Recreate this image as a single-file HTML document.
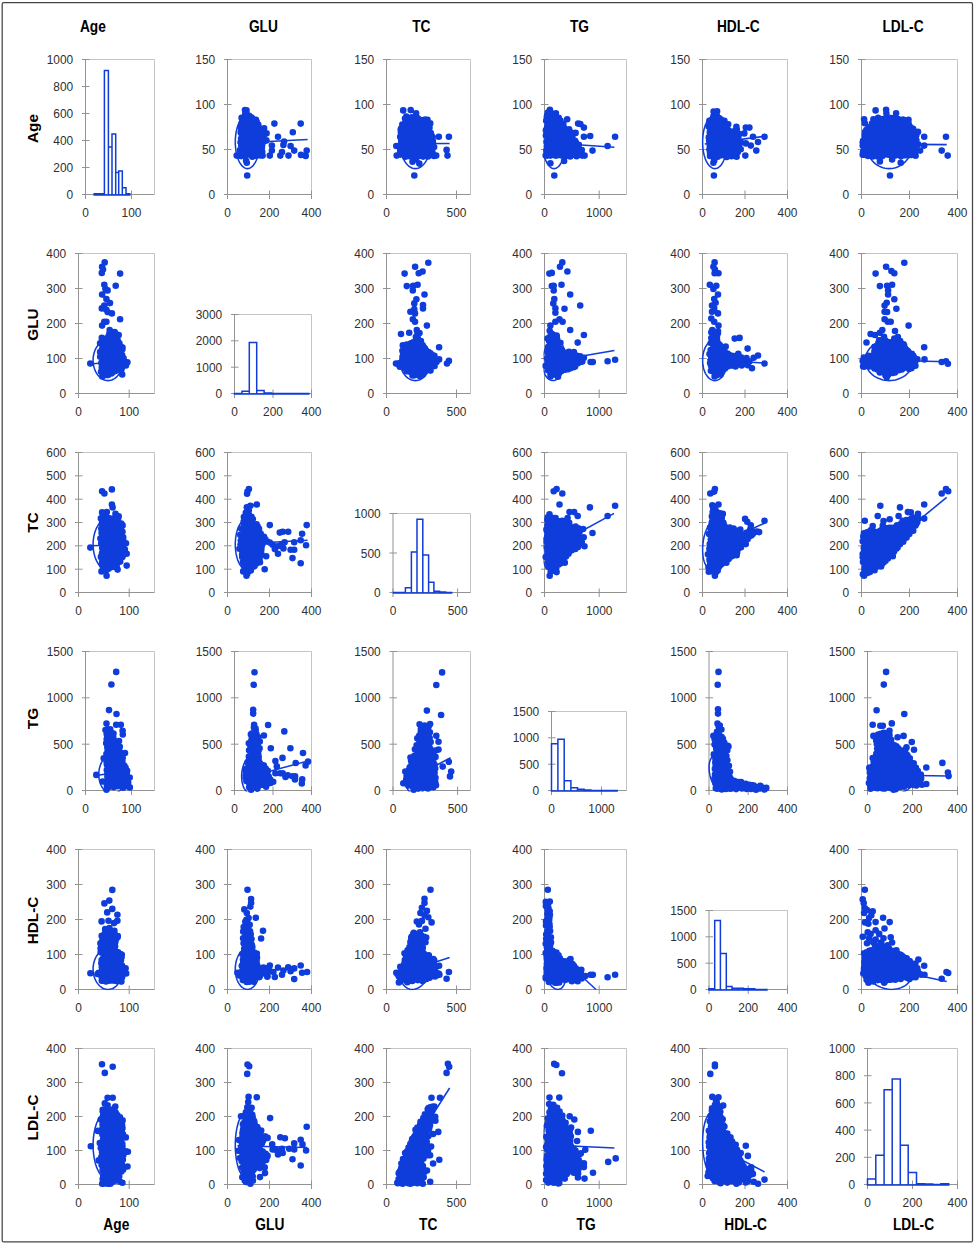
<!DOCTYPE html>
<html lang="en"><head><meta charset="utf-8"><title>Scatter plot matrix</title>
<style>html,body{margin:0;padding:0;background:#fff}svg{display:block}</style></head>
<body>
<svg width="974" height="1245" viewBox="0 0 974 1245">
<rect x="0" y="0" width="974" height="1245" fill="#fff"/>
<rect x="2.2" y="2.6" width="970.3" height="1239.3" rx="1.5" fill="none" stroke="#444" stroke-width="1.25"/>
<g font-family="Liberation Sans, sans-serif" font-size="11.9" fill="#303030">
<path d="M85.5 59.5H154.5V194.5" fill="none" stroke="#c4c4c4" stroke-width="1"/>
<path d="M85.5 59.5V194.5H154.5M82 194.5H89.5M82 167.5H89.5M82 140.5H89.5M82 113.5H89.5M82 86.5H89.5M82 59.5H89.5M85.5 190.5V199M131.5 190.5V199" fill="none" stroke="#939393" stroke-width="1"/>
<text x="73.2" y="199.1" text-anchor="end">0</text>
<text x="73.2" y="172.1" text-anchor="end">200</text>
<text x="73.2" y="145.1" text-anchor="end">400</text>
<text x="73.2" y="118.1" text-anchor="end">600</text>
<text x="73.2" y="91.1" text-anchor="end">800</text>
<text x="73.2" y="64.1" text-anchor="end">1000</text>
<text x="85.5" y="216.6" text-anchor="middle">0</text>
<text x="131.5" y="216.6" text-anchor="middle">100</text>
<path d="M227.5 59.5H311.5V194.5" fill="none" stroke="#c4c4c4" stroke-width="1"/>
<path d="M227.5 59.5V194.5H311.5M224 194.5H231.5M224 149.5H231.5M224 104.5H231.5M224 59.5H231.5M227.5 190.5V199M269.5 190.5V199M311.5 190.5V199" fill="none" stroke="#939393" stroke-width="1"/>
<text x="215.2" y="199.1" text-anchor="end">0</text>
<text x="215.2" y="154.1" text-anchor="end">50</text>
<text x="215.2" y="109.1" text-anchor="end">100</text>
<text x="215.2" y="64.1" text-anchor="end">150</text>
<text x="227.5" y="216.6" text-anchor="middle">0</text>
<text x="269.5" y="216.6" text-anchor="middle">200</text>
<text x="311.5" y="216.6" text-anchor="middle">400</text>
<path d="M386.5 59.5H470.5V194.5" fill="none" stroke="#c4c4c4" stroke-width="1"/>
<path d="M386.5 59.5V194.5H470.5M383 194.5H390.5M383 149.5H390.5M383 104.5H390.5M383 59.5H390.5M386.5 190.5V199M456.5 190.5V199" fill="none" stroke="#939393" stroke-width="1"/>
<text x="374.2" y="199.1" text-anchor="end">0</text>
<text x="374.2" y="154.1" text-anchor="end">50</text>
<text x="374.2" y="109.1" text-anchor="end">100</text>
<text x="374.2" y="64.1" text-anchor="end">150</text>
<text x="386.5" y="216.6" text-anchor="middle">0</text>
<text x="456.5" y="216.6" text-anchor="middle">500</text>
<path d="M544.5 59.5H626.5V194.5" fill="none" stroke="#c4c4c4" stroke-width="1"/>
<path d="M544.5 59.5V194.5H626.5M541 194.5H548.5M541 149.5H548.5M541 104.5H548.5M541 59.5H548.5M544.5 190.5V199M599.2 190.5V199" fill="none" stroke="#939393" stroke-width="1"/>
<text x="532.2" y="199.1" text-anchor="end">0</text>
<text x="532.2" y="154.1" text-anchor="end">50</text>
<text x="532.2" y="109.1" text-anchor="end">100</text>
<text x="532.2" y="64.1" text-anchor="end">150</text>
<text x="544.5" y="216.6" text-anchor="middle">0</text>
<text x="599.2" y="216.6" text-anchor="middle">1000</text>
<path d="M702.5 59.5H787.5V194.5" fill="none" stroke="#c4c4c4" stroke-width="1"/>
<path d="M702.5 59.5V194.5H787.5M699 194.5H706.5M699 149.5H706.5M699 104.5H706.5M699 59.5H706.5M702.5 190.5V199M745 190.5V199M787.5 190.5V199" fill="none" stroke="#939393" stroke-width="1"/>
<text x="690.2" y="199.1" text-anchor="end">0</text>
<text x="690.2" y="154.1" text-anchor="end">50</text>
<text x="690.2" y="109.1" text-anchor="end">100</text>
<text x="690.2" y="64.1" text-anchor="end">150</text>
<text x="702.5" y="216.6" text-anchor="middle">0</text>
<text x="745" y="216.6" text-anchor="middle">200</text>
<text x="787.5" y="216.6" text-anchor="middle">400</text>
<path d="M861.5 59.5H957.5V194.5" fill="none" stroke="#c4c4c4" stroke-width="1"/>
<path d="M861.5 59.5V194.5H957.5M858 194.5H865.5M858 149.5H865.5M858 104.5H865.5M858 59.5H865.5M861.5 190.5V199M909.5 190.5V199M957.5 190.5V199" fill="none" stroke="#939393" stroke-width="1"/>
<text x="849.2" y="199.1" text-anchor="end">0</text>
<text x="849.2" y="154.1" text-anchor="end">50</text>
<text x="849.2" y="109.1" text-anchor="end">100</text>
<text x="849.2" y="64.1" text-anchor="end">150</text>
<text x="861.5" y="216.6" text-anchor="middle">0</text>
<text x="909.5" y="216.6" text-anchor="middle">200</text>
<text x="957.5" y="216.6" text-anchor="middle">400</text>
<path d="M78.5 253.5H154.5V393.5" fill="none" stroke="#c4c4c4" stroke-width="1"/>
<path d="M78.5 253.5V393.5H154.5M75 393.5H82.5M75 358.5H82.5M75 323.5H82.5M75 288.5H82.5M75 253.5H82.5M78.5 389.5V398M129.2 389.5V398" fill="none" stroke="#939393" stroke-width="1"/>
<text x="66.2" y="398.1" text-anchor="end">0</text>
<text x="66.2" y="363.1" text-anchor="end">100</text>
<text x="66.2" y="328.1" text-anchor="end">200</text>
<text x="66.2" y="293.1" text-anchor="end">300</text>
<text x="66.2" y="258.1" text-anchor="end">400</text>
<text x="78.5" y="415.6" text-anchor="middle">0</text>
<text x="129.2" y="415.6" text-anchor="middle">100</text>
<path d="M234.5 314.5H311.5V393.5" fill="none" stroke="#c4c4c4" stroke-width="1"/>
<path d="M234.5 314.5V393.5H311.5M231 393.5H238.5M231 367.2H238.5M231 340.8H238.5M231 314.5H238.5M234.5 389.5V398M273 389.5V398M311.5 389.5V398" fill="none" stroke="#939393" stroke-width="1"/>
<text x="222.2" y="398.1" text-anchor="end">0</text>
<text x="222.2" y="371.8" text-anchor="end">1000</text>
<text x="222.2" y="345.4" text-anchor="end">2000</text>
<text x="222.2" y="319.1" text-anchor="end">3000</text>
<text x="234.5" y="415.6" text-anchor="middle">0</text>
<text x="273" y="415.6" text-anchor="middle">200</text>
<text x="311.5" y="415.6" text-anchor="middle">400</text>
<path d="M386.5 253.5H470.5V393.5" fill="none" stroke="#c4c4c4" stroke-width="1"/>
<path d="M386.5 253.5V393.5H470.5M383 393.5H390.5M383 358.5H390.5M383 323.5H390.5M383 288.5H390.5M383 253.5H390.5M386.5 389.5V398M456.5 389.5V398" fill="none" stroke="#939393" stroke-width="1"/>
<text x="374.2" y="398.1" text-anchor="end">0</text>
<text x="374.2" y="363.1" text-anchor="end">100</text>
<text x="374.2" y="328.1" text-anchor="end">200</text>
<text x="374.2" y="293.1" text-anchor="end">300</text>
<text x="374.2" y="258.1" text-anchor="end">400</text>
<text x="386.5" y="415.6" text-anchor="middle">0</text>
<text x="456.5" y="415.6" text-anchor="middle">500</text>
<path d="M544.5 253.5H626.5V393.5" fill="none" stroke="#c4c4c4" stroke-width="1"/>
<path d="M544.5 253.5V393.5H626.5M541 393.5H548.5M541 358.5H548.5M541 323.5H548.5M541 288.5H548.5M541 253.5H548.5M544.5 389.5V398M599.2 389.5V398" fill="none" stroke="#939393" stroke-width="1"/>
<text x="532.2" y="398.1" text-anchor="end">0</text>
<text x="532.2" y="363.1" text-anchor="end">100</text>
<text x="532.2" y="328.1" text-anchor="end">200</text>
<text x="532.2" y="293.1" text-anchor="end">300</text>
<text x="532.2" y="258.1" text-anchor="end">400</text>
<text x="544.5" y="415.6" text-anchor="middle">0</text>
<text x="599.2" y="415.6" text-anchor="middle">1000</text>
<path d="M702.5 253.5H787.5V393.5" fill="none" stroke="#c4c4c4" stroke-width="1"/>
<path d="M702.5 253.5V393.5H787.5M699 393.5H706.5M699 358.5H706.5M699 323.5H706.5M699 288.5H706.5M699 253.5H706.5M702.5 389.5V398M745 389.5V398M787.5 389.5V398" fill="none" stroke="#939393" stroke-width="1"/>
<text x="690.2" y="398.1" text-anchor="end">0</text>
<text x="690.2" y="363.1" text-anchor="end">100</text>
<text x="690.2" y="328.1" text-anchor="end">200</text>
<text x="690.2" y="293.1" text-anchor="end">300</text>
<text x="690.2" y="258.1" text-anchor="end">400</text>
<text x="702.5" y="415.6" text-anchor="middle">0</text>
<text x="745" y="415.6" text-anchor="middle">200</text>
<text x="787.5" y="415.6" text-anchor="middle">400</text>
<path d="M861.5 253.5H957.5V393.5" fill="none" stroke="#c4c4c4" stroke-width="1"/>
<path d="M861.5 253.5V393.5H957.5M858 393.5H865.5M858 358.5H865.5M858 323.5H865.5M858 288.5H865.5M858 253.5H865.5M861.5 389.5V398M909.5 389.5V398M957.5 389.5V398" fill="none" stroke="#939393" stroke-width="1"/>
<text x="849.2" y="398.1" text-anchor="end">0</text>
<text x="849.2" y="363.1" text-anchor="end">100</text>
<text x="849.2" y="328.1" text-anchor="end">200</text>
<text x="849.2" y="293.1" text-anchor="end">300</text>
<text x="849.2" y="258.1" text-anchor="end">400</text>
<text x="861.5" y="415.6" text-anchor="middle">0</text>
<text x="909.5" y="415.6" text-anchor="middle">200</text>
<text x="957.5" y="415.6" text-anchor="middle">400</text>
<path d="M78.5 452.5H154.5V592.5" fill="none" stroke="#c4c4c4" stroke-width="1"/>
<path d="M78.5 452.5V592.5H154.5M75 592.5H82.5M75 569.2H82.5M75 545.8H82.5M75 522.5H82.5M75 499.2H82.5M75 475.8H82.5M75 452.5H82.5M78.5 588.5V597M129.2 588.5V597" fill="none" stroke="#939393" stroke-width="1"/>
<text x="66.2" y="597.1" text-anchor="end">0</text>
<text x="66.2" y="573.8" text-anchor="end">100</text>
<text x="66.2" y="550.4" text-anchor="end">200</text>
<text x="66.2" y="527.1" text-anchor="end">300</text>
<text x="66.2" y="503.8" text-anchor="end">400</text>
<text x="66.2" y="480.4" text-anchor="end">500</text>
<text x="66.2" y="457.1" text-anchor="end">600</text>
<text x="78.5" y="614.6" text-anchor="middle">0</text>
<text x="129.2" y="614.6" text-anchor="middle">100</text>
<path d="M227.5 452.5H311.5V592.5" fill="none" stroke="#c4c4c4" stroke-width="1"/>
<path d="M227.5 452.5V592.5H311.5M224 592.5H231.5M224 569.2H231.5M224 545.8H231.5M224 522.5H231.5M224 499.2H231.5M224 475.8H231.5M224 452.5H231.5M227.5 588.5V597M269.5 588.5V597M311.5 588.5V597" fill="none" stroke="#939393" stroke-width="1"/>
<text x="215.2" y="597.1" text-anchor="end">0</text>
<text x="215.2" y="573.8" text-anchor="end">100</text>
<text x="215.2" y="550.4" text-anchor="end">200</text>
<text x="215.2" y="527.1" text-anchor="end">300</text>
<text x="215.2" y="503.8" text-anchor="end">400</text>
<text x="215.2" y="480.4" text-anchor="end">500</text>
<text x="215.2" y="457.1" text-anchor="end">600</text>
<text x="227.5" y="614.6" text-anchor="middle">0</text>
<text x="269.5" y="614.6" text-anchor="middle">200</text>
<text x="311.5" y="614.6" text-anchor="middle">400</text>
<path d="M393 513.5H470.5V592.5" fill="none" stroke="#c4c4c4" stroke-width="1"/>
<path d="M393 513.5V592.5H470.5M389.5 592.5H397M389.5 553H397M389.5 513.5H397M393 588.5V597M457.6 588.5V597" fill="none" stroke="#939393" stroke-width="1"/>
<text x="380.7" y="597.1" text-anchor="end">0</text>
<text x="380.7" y="557.6" text-anchor="end">500</text>
<text x="380.7" y="518.1" text-anchor="end">1000</text>
<text x="393" y="614.6" text-anchor="middle">0</text>
<text x="457.6" y="614.6" text-anchor="middle">500</text>
<path d="M544.5 452.5H626.5V592.5" fill="none" stroke="#c4c4c4" stroke-width="1"/>
<path d="M544.5 452.5V592.5H626.5M541 592.5H548.5M541 569.2H548.5M541 545.8H548.5M541 522.5H548.5M541 499.2H548.5M541 475.8H548.5M541 452.5H548.5M544.5 588.5V597M599.2 588.5V597" fill="none" stroke="#939393" stroke-width="1"/>
<text x="532.2" y="597.1" text-anchor="end">0</text>
<text x="532.2" y="573.8" text-anchor="end">100</text>
<text x="532.2" y="550.4" text-anchor="end">200</text>
<text x="532.2" y="527.1" text-anchor="end">300</text>
<text x="532.2" y="503.8" text-anchor="end">400</text>
<text x="532.2" y="480.4" text-anchor="end">500</text>
<text x="532.2" y="457.1" text-anchor="end">600</text>
<text x="544.5" y="614.6" text-anchor="middle">0</text>
<text x="599.2" y="614.6" text-anchor="middle">1000</text>
<path d="M702.5 452.5H787.5V592.5" fill="none" stroke="#c4c4c4" stroke-width="1"/>
<path d="M702.5 452.5V592.5H787.5M699 592.5H706.5M699 569.2H706.5M699 545.8H706.5M699 522.5H706.5M699 499.2H706.5M699 475.8H706.5M699 452.5H706.5M702.5 588.5V597M745 588.5V597M787.5 588.5V597" fill="none" stroke="#939393" stroke-width="1"/>
<text x="690.2" y="597.1" text-anchor="end">0</text>
<text x="690.2" y="573.8" text-anchor="end">100</text>
<text x="690.2" y="550.4" text-anchor="end">200</text>
<text x="690.2" y="527.1" text-anchor="end">300</text>
<text x="690.2" y="503.8" text-anchor="end">400</text>
<text x="690.2" y="480.4" text-anchor="end">500</text>
<text x="690.2" y="457.1" text-anchor="end">600</text>
<text x="702.5" y="614.6" text-anchor="middle">0</text>
<text x="745" y="614.6" text-anchor="middle">200</text>
<text x="787.5" y="614.6" text-anchor="middle">400</text>
<path d="M861.5 452.5H957.5V592.5" fill="none" stroke="#c4c4c4" stroke-width="1"/>
<path d="M861.5 452.5V592.5H957.5M858 592.5H865.5M858 569.2H865.5M858 545.8H865.5M858 522.5H865.5M858 499.2H865.5M858 475.8H865.5M858 452.5H865.5M861.5 588.5V597M909.5 588.5V597M957.5 588.5V597" fill="none" stroke="#939393" stroke-width="1"/>
<text x="849.2" y="597.1" text-anchor="end">0</text>
<text x="849.2" y="573.8" text-anchor="end">100</text>
<text x="849.2" y="550.4" text-anchor="end">200</text>
<text x="849.2" y="527.1" text-anchor="end">300</text>
<text x="849.2" y="503.8" text-anchor="end">400</text>
<text x="849.2" y="480.4" text-anchor="end">500</text>
<text x="849.2" y="457.1" text-anchor="end">600</text>
<text x="861.5" y="614.6" text-anchor="middle">0</text>
<text x="909.5" y="614.6" text-anchor="middle">200</text>
<text x="957.5" y="614.6" text-anchor="middle">400</text>
<path d="M85.5 651.5H154.5V790.5" fill="none" stroke="#c4c4c4" stroke-width="1"/>
<path d="M85.5 651.5V790.5H154.5M82 790.5H89.5M82 744.2H89.5M82 697.8H89.5M82 651.5H89.5M85.5 786.5V795M131.5 786.5V795" fill="none" stroke="#939393" stroke-width="1"/>
<text x="73.2" y="795.1" text-anchor="end">0</text>
<text x="73.2" y="748.8" text-anchor="end">500</text>
<text x="73.2" y="702.4" text-anchor="end">1000</text>
<text x="73.2" y="656.1" text-anchor="end">1500</text>
<text x="85.5" y="812.6" text-anchor="middle">0</text>
<text x="131.5" y="812.6" text-anchor="middle">100</text>
<path d="M234.5 651.5H311.5V790.5" fill="none" stroke="#c4c4c4" stroke-width="1"/>
<path d="M234.5 651.5V790.5H311.5M231 790.5H238.5M231 744.2H238.5M231 697.8H238.5M231 651.5H238.5M234.5 786.5V795M273 786.5V795M311.5 786.5V795" fill="none" stroke="#939393" stroke-width="1"/>
<text x="222.2" y="795.1" text-anchor="end">0</text>
<text x="222.2" y="748.8" text-anchor="end">500</text>
<text x="222.2" y="702.4" text-anchor="end">1000</text>
<text x="222.2" y="656.1" text-anchor="end">1500</text>
<text x="234.5" y="812.6" text-anchor="middle">0</text>
<text x="273" y="812.6" text-anchor="middle">200</text>
<text x="311.5" y="812.6" text-anchor="middle">400</text>
<path d="M393 651.5H470.5V790.5" fill="none" stroke="#c4c4c4" stroke-width="1"/>
<path d="M393 651.5V790.5H470.5M389.5 790.5H397M389.5 744.2H397M389.5 697.8H397M389.5 651.5H397M393 786.5V795M457.6 786.5V795" fill="none" stroke="#939393" stroke-width="1"/>
<text x="380.7" y="795.1" text-anchor="end">0</text>
<text x="380.7" y="748.8" text-anchor="end">500</text>
<text x="380.7" y="702.4" text-anchor="end">1000</text>
<text x="380.7" y="656.1" text-anchor="end">1500</text>
<text x="393" y="812.6" text-anchor="middle">0</text>
<text x="457.6" y="812.6" text-anchor="middle">500</text>
<path d="M551.5 711.5H626.5V790.5" fill="none" stroke="#c4c4c4" stroke-width="1"/>
<path d="M551.5 711.5V790.5H626.5M548 790.5H555.5M548 764.2H555.5M548 737.8H555.5M548 711.5H555.5M551.5 786.5V795M601.5 786.5V795" fill="none" stroke="#939393" stroke-width="1"/>
<text x="539.2" y="795.1" text-anchor="end">0</text>
<text x="539.2" y="768.8" text-anchor="end">500</text>
<text x="539.2" y="742.4" text-anchor="end">1000</text>
<text x="539.2" y="716.1" text-anchor="end">1500</text>
<text x="551.5" y="812.6" text-anchor="middle">0</text>
<text x="601.5" y="812.6" text-anchor="middle">1000</text>
<path d="M709 651.5H787.5V790.5" fill="none" stroke="#c4c4c4" stroke-width="1"/>
<path d="M709 651.5V790.5H787.5M705.5 790.5H713M705.5 744.2H713M705.5 697.8H713M705.5 651.5H713M709 786.5V795M748.2 786.5V795M787.5 786.5V795" fill="none" stroke="#939393" stroke-width="1"/>
<text x="696.7" y="795.1" text-anchor="end">0</text>
<text x="696.7" y="748.8" text-anchor="end">500</text>
<text x="696.7" y="702.4" text-anchor="end">1000</text>
<text x="696.7" y="656.1" text-anchor="end">1500</text>
<text x="709" y="812.6" text-anchor="middle">0</text>
<text x="748.2" y="812.6" text-anchor="middle">200</text>
<text x="787.5" y="812.6" text-anchor="middle">400</text>
<path d="M867.5 651.5H957.5V790.5" fill="none" stroke="#c4c4c4" stroke-width="1"/>
<path d="M867.5 651.5V790.5H957.5M864 790.5H871.5M864 744.2H871.5M864 697.8H871.5M864 651.5H871.5M867.5 786.5V795M912.5 786.5V795M957.5 786.5V795" fill="none" stroke="#939393" stroke-width="1"/>
<text x="855.2" y="795.1" text-anchor="end">0</text>
<text x="855.2" y="748.8" text-anchor="end">500</text>
<text x="855.2" y="702.4" text-anchor="end">1000</text>
<text x="855.2" y="656.1" text-anchor="end">1500</text>
<text x="867.5" y="812.6" text-anchor="middle">0</text>
<text x="912.5" y="812.6" text-anchor="middle">200</text>
<text x="957.5" y="812.6" text-anchor="middle">400</text>
<path d="M78.5 849.5H154.5V989.5" fill="none" stroke="#c4c4c4" stroke-width="1"/>
<path d="M78.5 849.5V989.5H154.5M75 989.5H82.5M75 954.5H82.5M75 919.5H82.5M75 884.5H82.5M75 849.5H82.5M78.5 985.5V994M129.2 985.5V994" fill="none" stroke="#939393" stroke-width="1"/>
<text x="66.2" y="994.1" text-anchor="end">0</text>
<text x="66.2" y="959.1" text-anchor="end">100</text>
<text x="66.2" y="924.1" text-anchor="end">200</text>
<text x="66.2" y="889.1" text-anchor="end">300</text>
<text x="66.2" y="854.1" text-anchor="end">400</text>
<text x="78.5" y="1011.6" text-anchor="middle">0</text>
<text x="129.2" y="1011.6" text-anchor="middle">100</text>
<path d="M227.5 849.5H311.5V989.5" fill="none" stroke="#c4c4c4" stroke-width="1"/>
<path d="M227.5 849.5V989.5H311.5M224 989.5H231.5M224 954.5H231.5M224 919.5H231.5M224 884.5H231.5M224 849.5H231.5M227.5 985.5V994M269.5 985.5V994M311.5 985.5V994" fill="none" stroke="#939393" stroke-width="1"/>
<text x="215.2" y="994.1" text-anchor="end">0</text>
<text x="215.2" y="959.1" text-anchor="end">100</text>
<text x="215.2" y="924.1" text-anchor="end">200</text>
<text x="215.2" y="889.1" text-anchor="end">300</text>
<text x="215.2" y="854.1" text-anchor="end">400</text>
<text x="227.5" y="1011.6" text-anchor="middle">0</text>
<text x="269.5" y="1011.6" text-anchor="middle">200</text>
<text x="311.5" y="1011.6" text-anchor="middle">400</text>
<path d="M386.5 849.5H470.5V989.5" fill="none" stroke="#c4c4c4" stroke-width="1"/>
<path d="M386.5 849.5V989.5H470.5M383 989.5H390.5M383 954.5H390.5M383 919.5H390.5M383 884.5H390.5M383 849.5H390.5M386.5 985.5V994M456.5 985.5V994" fill="none" stroke="#939393" stroke-width="1"/>
<text x="374.2" y="994.1" text-anchor="end">0</text>
<text x="374.2" y="959.1" text-anchor="end">100</text>
<text x="374.2" y="924.1" text-anchor="end">200</text>
<text x="374.2" y="889.1" text-anchor="end">300</text>
<text x="374.2" y="854.1" text-anchor="end">400</text>
<text x="386.5" y="1011.6" text-anchor="middle">0</text>
<text x="456.5" y="1011.6" text-anchor="middle">500</text>
<path d="M544.5 849.5H626.5V989.5" fill="none" stroke="#c4c4c4" stroke-width="1"/>
<path d="M544.5 849.5V989.5H626.5M541 989.5H548.5M541 954.5H548.5M541 919.5H548.5M541 884.5H548.5M541 849.5H548.5M544.5 985.5V994M599.2 985.5V994" fill="none" stroke="#939393" stroke-width="1"/>
<text x="532.2" y="994.1" text-anchor="end">0</text>
<text x="532.2" y="959.1" text-anchor="end">100</text>
<text x="532.2" y="924.1" text-anchor="end">200</text>
<text x="532.2" y="889.1" text-anchor="end">300</text>
<text x="532.2" y="854.1" text-anchor="end">400</text>
<text x="544.5" y="1011.6" text-anchor="middle">0</text>
<text x="599.2" y="1011.6" text-anchor="middle">1000</text>
<path d="M709 910.5H787.5V989.5" fill="none" stroke="#c4c4c4" stroke-width="1"/>
<path d="M709 910.5V989.5H787.5M705.5 989.5H713M705.5 963.2H713M705.5 936.8H713M705.5 910.5H713M709 985.5V994M748.2 985.5V994M787.5 985.5V994" fill="none" stroke="#939393" stroke-width="1"/>
<text x="696.7" y="994.1" text-anchor="end">0</text>
<text x="696.7" y="967.8" text-anchor="end">500</text>
<text x="696.7" y="941.4" text-anchor="end">1000</text>
<text x="696.7" y="915.1" text-anchor="end">1500</text>
<text x="709" y="1011.6" text-anchor="middle">0</text>
<text x="748.2" y="1011.6" text-anchor="middle">200</text>
<text x="787.5" y="1011.6" text-anchor="middle">400</text>
<path d="M861.5 849.5H957.5V989.5" fill="none" stroke="#c4c4c4" stroke-width="1"/>
<path d="M861.5 849.5V989.5H957.5M858 989.5H865.5M858 954.5H865.5M858 919.5H865.5M858 884.5H865.5M858 849.5H865.5M861.5 985.5V994M909.5 985.5V994M957.5 985.5V994" fill="none" stroke="#939393" stroke-width="1"/>
<text x="849.2" y="994.1" text-anchor="end">0</text>
<text x="849.2" y="959.1" text-anchor="end">100</text>
<text x="849.2" y="924.1" text-anchor="end">200</text>
<text x="849.2" y="889.1" text-anchor="end">300</text>
<text x="849.2" y="854.1" text-anchor="end">400</text>
<text x="861.5" y="1011.6" text-anchor="middle">0</text>
<text x="909.5" y="1011.6" text-anchor="middle">200</text>
<text x="957.5" y="1011.6" text-anchor="middle">400</text>
<path d="M78.5 1048.5H154.5V1184.5" fill="none" stroke="#c4c4c4" stroke-width="1"/>
<path d="M78.5 1048.5V1184.5H154.5M75 1184.5H82.5M75 1150.5H82.5M75 1116.5H82.5M75 1082.5H82.5M75 1048.5H82.5M78.5 1180.5V1189M129.2 1180.5V1189" fill="none" stroke="#939393" stroke-width="1"/>
<text x="66.2" y="1189.1" text-anchor="end">0</text>
<text x="66.2" y="1155.1" text-anchor="end">100</text>
<text x="66.2" y="1121.1" text-anchor="end">200</text>
<text x="66.2" y="1087.1" text-anchor="end">300</text>
<text x="66.2" y="1053.1" text-anchor="end">400</text>
<text x="78.5" y="1206.6" text-anchor="middle">0</text>
<text x="129.2" y="1206.6" text-anchor="middle">100</text>
<path d="M227.5 1048.5H311.5V1184.5" fill="none" stroke="#c4c4c4" stroke-width="1"/>
<path d="M227.5 1048.5V1184.5H311.5M224 1184.5H231.5M224 1150.5H231.5M224 1116.5H231.5M224 1082.5H231.5M224 1048.5H231.5M227.5 1180.5V1189M269.5 1180.5V1189M311.5 1180.5V1189" fill="none" stroke="#939393" stroke-width="1"/>
<text x="215.2" y="1189.1" text-anchor="end">0</text>
<text x="215.2" y="1155.1" text-anchor="end">100</text>
<text x="215.2" y="1121.1" text-anchor="end">200</text>
<text x="215.2" y="1087.1" text-anchor="end">300</text>
<text x="215.2" y="1053.1" text-anchor="end">400</text>
<text x="227.5" y="1206.6" text-anchor="middle">0</text>
<text x="269.5" y="1206.6" text-anchor="middle">200</text>
<text x="311.5" y="1206.6" text-anchor="middle">400</text>
<path d="M386.5 1048.5H470.5V1184.5" fill="none" stroke="#c4c4c4" stroke-width="1"/>
<path d="M386.5 1048.5V1184.5H470.5M383 1184.5H390.5M383 1150.5H390.5M383 1116.5H390.5M383 1082.5H390.5M383 1048.5H390.5M386.5 1180.5V1189M456.5 1180.5V1189" fill="none" stroke="#939393" stroke-width="1"/>
<text x="374.2" y="1189.1" text-anchor="end">0</text>
<text x="374.2" y="1155.1" text-anchor="end">100</text>
<text x="374.2" y="1121.1" text-anchor="end">200</text>
<text x="374.2" y="1087.1" text-anchor="end">300</text>
<text x="374.2" y="1053.1" text-anchor="end">400</text>
<text x="386.5" y="1206.6" text-anchor="middle">0</text>
<text x="456.5" y="1206.6" text-anchor="middle">500</text>
<path d="M544.5 1048.5H626.5V1184.5" fill="none" stroke="#c4c4c4" stroke-width="1"/>
<path d="M544.5 1048.5V1184.5H626.5M541 1184.5H548.5M541 1150.5H548.5M541 1116.5H548.5M541 1082.5H548.5M541 1048.5H548.5M544.5 1180.5V1189M599.2 1180.5V1189" fill="none" stroke="#939393" stroke-width="1"/>
<text x="532.2" y="1189.1" text-anchor="end">0</text>
<text x="532.2" y="1155.1" text-anchor="end">100</text>
<text x="532.2" y="1121.1" text-anchor="end">200</text>
<text x="532.2" y="1087.1" text-anchor="end">300</text>
<text x="532.2" y="1053.1" text-anchor="end">400</text>
<text x="544.5" y="1206.6" text-anchor="middle">0</text>
<text x="599.2" y="1206.6" text-anchor="middle">1000</text>
<path d="M702.5 1048.5H787.5V1184.5" fill="none" stroke="#c4c4c4" stroke-width="1"/>
<path d="M702.5 1048.5V1184.5H787.5M699 1184.5H706.5M699 1150.5H706.5M699 1116.5H706.5M699 1082.5H706.5M699 1048.5H706.5M702.5 1180.5V1189M745 1180.5V1189M787.5 1180.5V1189" fill="none" stroke="#939393" stroke-width="1"/>
<text x="690.2" y="1189.1" text-anchor="end">0</text>
<text x="690.2" y="1155.1" text-anchor="end">100</text>
<text x="690.2" y="1121.1" text-anchor="end">200</text>
<text x="690.2" y="1087.1" text-anchor="end">300</text>
<text x="690.2" y="1053.1" text-anchor="end">400</text>
<text x="702.5" y="1206.6" text-anchor="middle">0</text>
<text x="745" y="1206.6" text-anchor="middle">200</text>
<text x="787.5" y="1206.6" text-anchor="middle">400</text>
<path d="M867.5 1048.5H957.5V1184.5" fill="none" stroke="#c4c4c4" stroke-width="1"/>
<path d="M867.5 1048.5V1184.5H957.5M864 1184.5H871.5M864 1157.3H871.5M864 1130.1H871.5M864 1102.9H871.5M864 1075.7H871.5M864 1048.5H871.5M867.5 1180.5V1189M912.5 1180.5V1189M957.5 1180.5V1189" fill="none" stroke="#939393" stroke-width="1"/>
<text x="855.2" y="1189.1" text-anchor="end">0</text>
<text x="855.2" y="1161.9" text-anchor="end">200</text>
<text x="855.2" y="1134.7" text-anchor="end">400</text>
<text x="855.2" y="1107.5" text-anchor="end">600</text>
<text x="855.2" y="1080.3" text-anchor="end">800</text>
<text x="855.2" y="1053.1" text-anchor="end">1000</text>
<text x="867.5" y="1206.6" text-anchor="middle">0</text>
<text x="912.5" y="1206.6" text-anchor="middle">200</text>
<text x="957.5" y="1206.6" text-anchor="middle">400</text>
</g>
<path d="M94.2 195V193.7H104.4V195ZM104.4 195V70.4H108.4V195ZM108.4 195V147.1H112V195ZM112 195V134H115.7V195ZM115.7 195V172.5H118.7V195ZM118.7 195V170.9H122.3V195ZM122.3 195V187.8H126V195ZM126 195V193.8H129.8V195Z" fill="none" stroke="#103cd8" stroke-width="1.5" stroke-linejoin="miter"/>
<clipPath id="c1"><rect x="226.5" y="59.5" width="85" height="136"/></clipPath>
<g clip-path="url(#c1)"><path d="M259.6 142L259.6 139.7L259.4 137.4L259.2 135.2L258.9 132.9L258.5 130.8L258 128.8L257.4 126.8L256.8 125L256.1 123.3L255.3 121.7L254.4 120.3L253.5 119L252.6 118L251.6 117.1L250.6 116.4L249.6 115.9L248.5 115.6L247.4 115.5L246.4 115.6L245.3 115.9L244.3 116.4L243.3 117.1L242.3 118L241.4 119L240.5 120.3L239.6 121.7L238.8 123.3L238.1 125L237.5 126.8L236.9 128.8L236.4 130.8L236 132.9L235.7 135.2L235.5 137.4L235.3 139.7L235.3 142L235.3 144.3L235.5 146.6L235.7 148.9L236 151.1L236.4 153.3L236.9 155.3L237.5 157.3L238.1 159.1L238.8 160.8L239.6 162.4L240.5 163.8L241.4 165L242.3 166.1L243.3 167L244.3 167.7L245.3 168.2L246.4 168.5L247.4 168.6L248.5 168.5L249.6 168.2L250.6 167.7L251.6 167L252.6 166.1L253.5 165L254.4 163.8L255.3 162.4L256.1 160.8L256.8 159.1L257.4 157.3L258 155.3L258.5 153.3L258.9 151.1L259.2 148.9L259.4 146.6L259.6 144.3Z" fill="none" stroke="#0f3ddc" stroke-width="1.55"/>
<path d="M237.4 143.1L307.6 139.4" stroke="#0f3ddc" stroke-width="1.55" fill="none"/>
</g>
<path d="M245.3 113.2h0M246.6 113.3h0M246.2 116.4h0M249.2 115.9h0M244.9 118.9h0M246.9 118.5h0M249.7 119.1h0M252.3 118.4h0M243.8 120.7h0M245.8 122h0M248.5 121.1h0M250.6 121.3h0M254.4 120.3h0M256.7 121.8h0M244.6 123.3h0M247.1 123.8h0M249.4 123.5h0M252.4 124h0M255.1 123.7h0M256.6 123.3h0M243.5 125.7h0M244.9 125.5h0M248.9 126h0M250.3 126.6h0M253.3 125.6h0M255.6 126.5h0M258.2 126h0M244.4 128.4h0M246.4 129.7h0M249.7 128.5h0M252.5 129.6h0M254 128.1h0M256.9 129.4h0M259.5 129.4h0M263 129.1h0M241.1 131.6h0M242.7 131.9h0M245.6 131.7h0M248.1 131.8h0M250.2 131.2h0M254.4 132.3h0M255.8 132.2h0M258.5 132.4h0M261.8 131.4h0M263.5 130.7h0M242.6 133.4h0M245.1 135h0M247.2 133.6h0M250.4 135.1h0M252.7 134.2h0M254.7 133.9h0M257 134.5h0M260 133.7h0M262 134.5h0M264.9 134.2h0M243.9 135.9h0M245.3 136.5h0M249.3 137.3h0M250.7 136.3h0M253.9 137.4h0M257 136.5h0M259.5 137.1h0M261.4 137.7h0M263.5 137.2h0M241.1 138.8h0M245.2 138.9h0M247.6 139.6h0M250.3 139.2h0M252 139h0M255.6 139.6h0M258.3 140.1h0M259.4 139.5h0M262 138.6h0M264.5 140.1h0M241.1 142.6h0M242.9 142.2h0M246.3 141.8h0M248.5 141.5h0M250.2 141.6h0M254.3 142.1h0M257 141.9h0M258.4 142.5h0M262 141.1h0M264.3 141.3h0M241.2 145.3h0M243.7 144.1h0M248 144.5h0M249 144h0M251.8 145h0M254.2 145.3h0M257.3 145.4h0M260.8 144.2h0M262.3 144.6h0M244.1 146.8h0M246 147.1h0M248.1 146.4h0M251.7 148h0M254.4 146.5h0M255.7 147.4h0M259.7 147.3h0M261.7 147.5h0M241.5 149.3h0M243.7 149.4h0M248 149.7h0M250 150.1h0M253.1 149.6h0M254.5 149.5h0M257.2 150.4h0M260.8 149.4h0M242.7 151.6h0M245.9 151.6h0M247.6 152.6h0M250.6 152.9h0M253.6 153.1h0M255.6 152.4h0M259.3 151.6h0M262.2 151.8h0M242.5 154.7h0M243.8 155h0M247.9 154.6h0M250.4 154.4h0M253 154.2h0M260.7 155.4h0M241.2 156.1h0M240 150h0M241.8 147.3h0M240.7 142.1h0M241.7 137.3h0M240.7 132.4h0M240.5 127h0M241.7 123.4h0M241.6 117.9h0M245 110.1h0M246.5 110.2h0M251.2 117.3h0M255.9 119.7h0M258.3 124.9h0M264.1 128.3h0M266.6 133.2h0M266.4 140.4h0M261.9 147.7h0M261.8 154.9h0M256.3 155.8h0M252.3 156.7h0M245.3 156h0M247.2 175.5h0M246.8 162.8h0M246.1 160.7h0M274.4 123.6h0M300.7 123.6h0M292.8 132.2h0M278 136.7h0M284.1 141.6h0M283.4 144.9h0M271.9 145.6h0M290.6 146h0M294.2 150.6h0M306.7 150.6h0M271.9 150.6h0M282 152.1h0M269.8 155.6h0M280.3 155.6h0M288.5 155.6h0M301 154.9h0M305.7 155.9h0M262.6 155.6h0M238.9 155.6h0M236.7 155.6h0" stroke="#0f3ddc" stroke-width="6.6" stroke-linecap="round" fill="none"/>
<clipPath id="c2"><rect x="385.5" y="59.5" width="85" height="136"/></clipPath>
<g clip-path="url(#c2)"><path d="M430.7 142L430.7 139.7L430.5 137.4L430.2 135.2L429.8 132.9L429.3 130.8L428.7 128.8L428 126.8L427.1 125L426.2 123.3L425.2 121.7L424.2 120.3L423 119L421.8 118L420.6 117.1L419.3 116.4L418 115.9L416.7 115.6L415.3 115.5L414 115.6L412.7 115.9L411.4 116.4L410.1 117.1L408.8 118L407.6 119L406.5 120.3L405.4 121.7L404.5 123.3L403.5 125L402.7 126.8L402 128.8L401.4 130.8L400.9 132.9L400.5 135.2L400.2 137.4L400 139.7L399.9 142L400 144.3L400.2 146.6L400.5 148.9L400.9 151.1L401.4 153.3L402 155.3L402.7 157.3L403.5 159.1L404.5 160.8L405.4 162.4L406.5 163.8L407.6 165L408.8 166.1L410.1 167L411.4 167.7L412.7 168.2L414 168.5L415.3 168.6L416.7 168.5L418 168.2L419.3 167.7L420.6 167L421.8 166.1L423 165L424.2 163.8L425.2 162.4L426.2 160.8L427.1 159.1L428 157.3L428.7 155.3L429.3 153.3L429.8 151.1L430.2 148.9L430.5 146.6L430.7 144.3Z" fill="none" stroke="#0f3ddc" stroke-width="1.55"/>
<path d="M396.7 143.7L449.6 143.4" stroke="#0f3ddc" stroke-width="1.55" fill="none"/>
</g>
<path d="M405.8 119.5h0M408.7 121.1h0M411.6 119.6h0M414.6 120.7h0M416.9 120.9h0M419.6 120.7h0M421.4 121h0M425.1 119.5h0M427.3 120.5h0M405.5 122.7h0M407.5 123.5h0M410.4 122.7h0M412.1 122.4h0M415.5 122.2h0M418.5 122.3h0M421.1 122.4h0M423.8 123.1h0M425.6 122.8h0M428.5 122.9h0M403.7 124.6h0M406.7 125.8h0M409.4 124.8h0M411.7 124.6h0M414.2 124.9h0M416 126h0M418.4 125.4h0M422.3 124.9h0M423.8 126h0M426.8 125.7h0M428.6 125.1h0M401.3 128.4h0M403.9 127.5h0M408 127.3h0M409.4 128.3h0M412.4 127.1h0M416.1 127.3h0M417 127.7h0M420.6 128.4h0M422.3 127.7h0M424.7 127.9h0M428.7 128.4h0M401.5 130.9h0M403.4 130.1h0M406.4 130.2h0M408 130.5h0M412 129.9h0M414 130.4h0M416.5 129.9h0M419.9 130.1h0M421.9 130.4h0M423.4 130.7h0M426.2 129.8h0M428.6 129.9h0M403 134h0M404.3 133.1h0M406.9 133.3h0M410.2 133.7h0M413 132.7h0M415.1 133.2h0M416.9 132.3h0M420.2 132.5h0M423.4 132.7h0M424.9 132.6h0M427.7 132.6h0M430.8 133.1h0M403 136.5h0M406.9 136.2h0M408.6 135.8h0M411.4 134.9h0M413.7 135.8h0M415.9 135h0M419.6 135.5h0M421.7 136.5h0M424.5 135.4h0M427.8 135.5h0M428.6 136.1h0M431.4 135.4h0M401.3 138.3h0M404.6 138.3h0M406.9 138.5h0M409.2 138h0M412.4 139.1h0M414.4 138.8h0M417.2 138.5h0M420.2 138.3h0M423.4 138.2h0M424.9 137.7h0M427.4 139h0M431 139.2h0M401.2 140.1h0M403.8 141.5h0M406.5 141h0M408.4 140.9h0M411.8 140.5h0M413.9 140.9h0M417.3 141.5h0M419.9 141.6h0M421.3 140.5h0M424.3 140.5h0M426.8 141.3h0M430.2 141.1h0M432.7 140.2h0M401.6 143.4h0M404 142.8h0M408.1 144.4h0M410.3 142.9h0M412.2 143.1h0M415.5 143.9h0M417.7 143.6h0M419.7 143.6h0M423.8 144h0M424.9 143.6h0M428.6 143.1h0M431.5 143.5h0M401.3 146h0M404.4 146.7h0M406.2 145.5h0M408.6 145.3h0M411.5 146.8h0M413.3 146.2h0M416.5 146h0M419.5 146.9h0M422.1 146.1h0M425.1 145.9h0M427.3 146.4h0M430 146.8h0M431.6 146.4h0M403 149h0M403.9 148.7h0M407.8 149.4h0M410.3 149.3h0M411.7 149.6h0M415.6 148.9h0M418.5 149.4h0M419.7 149.3h0M423.5 148.2h0M426 148.9h0M427.6 149.3h0M430.1 149h0M400.8 150.9h0M403.6 151.3h0M405.6 152.2h0M407.9 150.5h0M411.3 152h0M414.2 151.8h0M416.5 151.7h0M418.8 150.9h0M421.7 150.5h0M423.5 151.8h0M426.3 151.8h0M430 151.2h0M432.4 151.9h0M400.2 153.3h0M401.6 153.7h0M404.7 153.6h0M406.5 154.1h0M410.8 153.7h0M412.7 153.7h0M415.1 154.6h0M417.4 154.2h0M420.4 154h0M423.7 153.2h0M426.2 153.6h0M428.5 154.5h0M431.1 153.8h0M400.5 154.6h0M400.2 150.8h0M400.2 147.5h0M401.2 142.3h0M400.2 136.7h0M400.9 132.2h0M400.7 129.5h0M402.3 124.5h0M405 118.6h0M406.3 116.5h0M411.9 117.2h0M417 117.9h0M423.4 120.1h0M427.5 119.8h0M430.2 123.4h0M429.5 127.7h0M432.3 136.7h0M432.9 141.6h0M434.1 147h0M433.9 156h0M428 156.5h0M423.1 156.6h0M419.8 155.7h0M414.4 156.8h0M409.8 156.3h0M405.3 156.8h0M403.2 110.4h0M410.7 110.1h0M416.1 113.2h0M396.3 146h0M438.8 136.7h0M448.9 136.7h0M446.6 149.9h0M447.5 155.6h0M414.3 175.5h0M412.5 161.8h0M419.3 163.6h0M416.1 159.2h0M396.7 155.6h0M436.2 155.6h0" stroke="#0f3ddc" stroke-width="6.6" stroke-linecap="round" fill="none"/>
<clipPath id="c3"><rect x="543.5" y="59.5" width="83" height="136"/></clipPath>
<g clip-path="url(#c3)"><path d="M565.5 142L565.4 139.7L565.3 137.4L565.1 135.2L564.8 132.9L564.4 130.8L564 128.8L563.4 126.8L562.8 125L562.1 123.3L561.4 121.7L560.6 120.3L559.8 119L558.9 118L557.9 117.1L557 116.4L556 115.9L555 115.6L554 115.5L553 115.6L552 115.9L551 116.4L550.1 117.1L549.2 118L548.3 119L547.4 120.3L546.6 121.7L545.9 123.3L545.2 125L544.6 126.8L544.1 128.8L543.6 130.8L543.2 132.9L542.9 135.2L542.7 137.4L542.6 139.7L542.5 142L542.6 144.3L542.7 146.6L542.9 148.9L543.2 151.1L543.6 153.3L544.1 155.3L544.6 157.3L545.2 159.1L545.9 160.8L546.6 162.4L547.4 163.8L548.3 165L549.2 166.1L550.1 167L551 167.7L552 168.2L553 168.5L554 168.6L555 168.5L556 168.2L557 167.7L557.9 167L558.9 166.1L559.8 165L560.6 163.8L561.4 162.4L562.1 160.8L562.8 159.1L563.4 157.3L564 155.3L564.4 153.3L564.8 151.1L565.1 148.9L565.3 146.6L565.4 144.3Z" fill="none" stroke="#0f3ddc" stroke-width="1.55"/>
<path d="M544.7 142.6L614.4 147.3" stroke="#0f3ddc" stroke-width="1.55" fill="none"/>
</g>
<path d="M548.5 113.9h0M551.1 114h0M553.1 113.8h0M555.8 114h0M547.1 115.3h0M550.1 116.7h0M552.7 116h0M555 115.3h0M548.1 119.4h0M550.4 117.7h0M553.5 117.6h0M555.4 118.3h0M558.7 117.8h0M550.3 121.1h0M552.1 120.2h0M554.5 121.2h0M556.3 121.3h0M560 120.3h0M547.9 123.8h0M550.3 123.4h0M553.8 122.8h0M556 124.1h0M558.2 123.2h0M561.7 123.2h0M549.5 125.7h0M552.6 126.9h0M554 125.9h0M557.8 126.5h0M560.4 126h0M561.7 125.9h0M548.9 128.4h0M551.2 129.5h0M553.6 128.9h0M555.5 128.6h0M558 128.1h0M561.3 128.5h0M564.3 128h0M567 129.2h0M549.6 131.2h0M551.6 132.1h0M554.6 132h0M556.9 130.9h0M559.9 132h0M561.8 132h0M565.8 132h0M568.2 130.6h0M570.4 132.1h0M547.3 133.4h0M550 133.3h0M554.2 134.7h0M555.2 134.1h0M558.2 133.7h0M560.8 134.3h0M563.9 133.8h0M565.8 133.7h0M568.2 134.2h0M571.9 133.8h0M573.4 133.5h0M547.4 136.9h0M549.3 136.4h0M552 137h0M554.5 137h0M557.1 136.2h0M559.9 137h0M561.6 136.5h0M564.9 137.3h0M568.4 136.4h0M570.9 137.2h0M548.5 139.4h0M550 139.4h0M552.4 138.6h0M556.4 138.4h0M557.8 138.5h0M561.8 138.7h0M562.9 139.9h0M565.6 139.9h0M569.2 139.9h0M572.3 139.4h0M547.3 142.6h0M548.6 141.5h0M552.1 142.4h0M554.1 141.3h0M556.8 142.1h0M560.3 141.7h0M562.2 141.7h0M564.7 141.7h0M566.9 141.9h0M571.1 141.7h0M573.3 141.2h0M575.8 142.3h0M548.8 143.8h0M550 144.9h0M554.1 144.5h0M555.8 144.9h0M557.9 144h0M560.6 144.6h0M563.4 144h0M566.7 145.3h0M568.5 144.8h0M571.4 145.1h0M574.3 144h0M576.2 143.6h0M549.1 147.6h0M551.4 147.9h0M554.6 147.2h0M557.2 147.7h0M560.4 147.2h0M562.4 147.5h0M565.7 146.9h0M568 147.9h0M570.2 146.6h0M572.3 147.4h0M575.7 147.9h0M578.6 146.6h0M547.5 150h0M551.4 150.4h0M552.9 150.3h0M555.6 149.5h0M558.9 148.9h0M560.4 150.3h0M563.3 149.4h0M566.5 150h0M568 149.4h0M571.4 149.6h0M573.6 149.8h0M577.5 149.5h0M579.4 149h0M548.7 153h0M552.7 151.5h0M555.4 152h0M557.7 152.7h0M559.4 152.6h0M562.7 152.8h0M564.6 152.7h0M568.4 152.6h0M570.3 151.6h0M572.8 152h0M575.8 152.6h0M578.1 151.7h0M580.9 152.5h0M547.5 155.6h0M551 154.2h0M554.1 154.2h0M555.6 155.3h0M558.7 155h0M561.4 154.8h0M563.4 154.3h0M565.5 155.2h0M569.4 154.9h0M571.9 154.6h0M573.7 154.6h0M577.4 154h0M579.3 154.4h0M547.5 155.3h0M546.4 150.5h0M547 146.6h0M546.5 141.9h0M545.9 135.6h0M545.9 130.3h0M547.7 127h0M546.2 120.7h0M546.8 117.3h0M547.9 112.5h0M549.9 109.7h0M555.9 113.2h0M560.5 120.6h0M563.3 124.1h0M569.1 129.3h0M575.6 132.9h0M572.4 137.4h0M575 140.8h0M578.8 144.7h0M581.8 150.1h0M582.2 155.6h0M576.6 156.2h0M570.2 156.4h0M566.9 155.6h0M561.7 155.5h0M555.9 155.7h0M550.5 155.6h0M567.2 119.3h0M578.1 123.6h0M580.3 124h0M583.9 127.6h0M590.2 136h0M583.9 136.7h0M615.1 136.7h0M607.6 146h0M592.5 150.6h0M584.6 155.6h0M550.4 163.3h0M564.1 161h0M554.3 175.5h0M545.7 155.6h0" stroke="#0f3ddc" stroke-width="6.6" stroke-linecap="round" fill="none"/>
<clipPath id="c4"><rect x="701.5" y="59.5" width="86" height="136"/></clipPath>
<g clip-path="url(#c4)"><path d="M727.2 142L727.2 139.7L727 137.4L726.8 135.2L726.5 132.9L726.1 130.8L725.6 128.8L725 126.8L724.3 125L723.6 123.3L722.8 121.7L722 120.3L721.1 119L720.1 118L719.1 117.1L718.1 116.4L717 115.9L716 115.6L714.9 115.5L713.8 115.6L712.7 115.9L711.7 116.4L710.7 117.1L709.7 118L708.7 119L707.8 120.3L707 121.7L706.2 123.3L705.4 125L704.8 126.8L704.2 128.8L703.7 130.8L703.3 132.9L703 135.2L702.8 137.4L702.6 139.7L702.6 142L702.6 144.3L702.8 146.6L703 148.9L703.3 151.1L703.7 153.3L704.2 155.3L704.8 157.3L705.4 159.1L706.2 160.8L707 162.4L707.8 163.8L708.7 165L709.7 166.1L710.7 167L711.7 167.7L712.7 168.2L713.8 168.5L714.9 168.6L716 168.5L717 168.2L718.1 167.7L719.1 167L720.1 166.1L721.1 165L722 163.8L722.8 162.4L723.6 160.8L724.3 159.1L725 157.3L725.6 155.3L726.1 153.3L726.5 151.1L726.8 148.9L727 146.6L727.2 144.3Z" fill="none" stroke="#0f3ddc" stroke-width="1.55"/>
<path d="M704.8 144.1L765.2 136.2" stroke="#0f3ddc" stroke-width="1.55" fill="none"/>
</g>
<path d="M715.6 112.7h0M715.2 115.5h0M716.8 115.5h0M713.4 119.4h0M714.8 118.2h0M719.1 119.1h0M720.7 119.4h0M712.6 121.1h0M713.8 120.4h0M716.1 120.6h0M719.8 120.6h0M721.3 121.2h0M724.3 122.1h0M711 123.8h0M712.2 123.4h0M715.2 123.3h0M717.7 124.5h0M720.2 123h0M724.2 123.9h0M712.3 126.7h0M714.9 126.5h0M717.2 126.7h0M719.1 127.2h0M722.9 125.6h0M725.6 127.2h0M709.9 128.1h0M713.8 128.1h0M716.3 128.3h0M718.8 129.5h0M721.5 129.1h0M724.1 128.5h0M726.3 128.7h0M736.6 129h0M712.2 131.6h0M713.4 132.2h0M717.5 130.9h0M719.6 131.4h0M722.6 131.3h0M724.2 131.6h0M728.2 130.9h0M729.2 131.8h0M733.2 131.6h0M735 132.2h0M710.1 134.8h0M712.9 134.7h0M715 134.9h0M717.6 133.6h0M720.8 133.9h0M723.5 134.9h0M726.4 133.3h0M728.3 134.3h0M731.2 134.6h0M733.8 133.4h0M736 134.8h0M738.8 134.7h0M710 137h0M712 137h0M714 137.5h0M716.9 137.5h0M719.2 137.5h0M722.6 137h0M724.6 136.2h0M727.8 136.6h0M730.2 136.1h0M731.8 136.2h0M735.7 136.2h0M738.4 136.6h0M710.6 138.7h0M712.8 140.2h0M715 139.7h0M717.9 139h0M720 138.5h0M724.2 140h0M726.6 140h0M729.4 138.8h0M731.4 139.4h0M734 140.2h0M736.9 140.2h0M738.3 139.7h0M709.4 142.4h0M711.9 142.6h0M714 142.8h0M716.8 142.2h0M720.2 142.4h0M721.8 141.5h0M724.4 142.2h0M728.2 142.7h0M729.7 141.8h0M733.1 141.6h0M735 141.1h0M737.2 142.1h0M740.7 142.2h0M710.2 145.4h0M713.2 144h0M714.8 145.5h0M719.1 145.4h0M721 144.3h0M722.7 144.2h0M725.5 145.4h0M729.3 145.1h0M730.6 144.1h0M733.5 145.4h0M735.8 145.1h0M739.3 144.7h0M709.9 146.8h0M711.8 146.6h0M713.6 146.4h0M716.6 146.5h0M718.7 148.1h0M721.7 147.9h0M725.1 147.6h0M727.6 148h0M730.6 147.6h0M732.6 147.5h0M735.5 147.3h0M737.7 146.6h0M709.6 149.2h0M713.7 149.4h0M715.4 150.1h0M718.9 149.5h0M720.6 149.7h0M722.6 150.5h0M725.2 150.6h0M728 149.2h0M731.8 150.4h0M733.3 149.9h0M736.4 150.2h0M738.5 150.4h0M710 152.8h0M712.5 153.2h0M714.1 153h0M717.5 152.6h0M718.8 152.6h0M722.9 152.1h0M725 153.1h0M727.5 151.6h0M730.2 152h0M733.2 152.7h0M734.8 153.1h0M737.9 152.1h0M713.3 155.4h0M715.8 155h0M719.1 154.7h0M720.1 155.4h0M723.4 155.1h0M726.2 154.6h0M728.1 154.2h0M734.2 154.3h0M710 156h0M709.4 149.6h0M709.7 144.8h0M709.1 140.2h0M708.8 137.4h0M709.8 132.3h0M708.6 126.4h0M709.4 120.7h0M711 120.9h0M713.4 116.3h0M713.6 111.6h0M717.1 111.3h0M719 118.1h0M724.4 120.7h0M728.2 124.2h0M728.5 130.3h0M736.8 129.2h0M738.8 133.7h0M740.1 142h0M738.8 150h0M736.6 156.7h0M731.5 156.3h0M726.7 156.9h0M722.3 154.6h0M717.7 156.8h0M714.2 156.7h0M736.4 126.9h0M745.8 127.6h0M749.4 127.6h0M744.3 133.4h0M753 136.7h0M764.5 136.7h0M758 142h0M745.8 143.4h0M750.8 145.6h0M756.3 150.6h0M745.3 155.6h0M713.9 175.5h0M713.4 162.8h0M714.2 160.7h0M740.7 149.2h0" stroke="#0f3ddc" stroke-width="6.6" stroke-linecap="round" fill="none"/>
<clipPath id="c5"><rect x="860.5" y="59.5" width="97" height="136"/></clipPath>
<g clip-path="url(#c5)"><path d="M913.2 142L913.2 139.7L912.9 137.4L912.4 135.2L911.8 132.9L911 130.8L910 128.8L908.9 126.8L907.6 125L906.2 123.3L904.7 121.7L903 120.3L901.2 119L899.4 118L897.5 117.1L895.5 116.4L893.4 115.9L891.3 115.6L889.2 115.5L887.2 115.6L885.1 115.9L883 116.4L881 117.1L879.1 118L877.2 119L875.5 120.3L873.8 121.7L872.3 123.3L870.9 125L869.6 126.8L868.5 128.8L867.5 130.8L866.7 132.9L866.1 135.2L865.6 137.4L865.3 139.7L865.2 142L865.3 144.3L865.6 146.6L866.1 148.9L866.7 151.1L867.5 153.3L868.5 155.3L869.6 157.3L870.9 159.1L872.3 160.8L873.8 162.4L875.5 163.8L877.2 165L879.1 166.1L881 167L883 167.7L885.1 168.2L887.2 168.5L889.2 168.6L891.3 168.5L893.4 168.2L895.5 167.7L897.5 167L899.4 166.1L901.2 165L903 163.8L904.7 162.4L906.2 160.8L907.6 159.1L908.9 157.3L910 155.3L911 153.3L911.8 151.1L912.4 148.9L912.9 146.6L913.2 144.3Z" fill="none" stroke="#0f3ddc" stroke-width="1.55"/>
<path d="M861.2 144.1L946.7 144.6" stroke="#0f3ddc" stroke-width="1.55" fill="none"/>
</g>
<path d="M873.4 119.3h0M880.5 119.1h0M885.2 119.7h0M895.1 119.7h0M902.1 119.7h0M903.4 119.8h0M908.5 119.8h0M874.5 121.6h0M876.2 121.6h0M879.5 120.8h0M882.6 120.7h0M884.8 122.2h0M886.1 122.1h0M889.3 121.7h0M891.2 120.8h0M894.1 122.4h0M896.8 122.1h0M900.7 122.4h0M902.2 121.3h0M905.2 122.1h0M907 122h0M871.9 123.6h0M875.6 125.1h0M877.2 123.4h0M881.3 124.3h0M882.9 123.7h0M885.8 124.8h0M888.1 124.1h0M890 124.9h0M892.6 124.2h0M896.6 123.5h0M899 125h0M901.5 124.7h0M903.1 124.1h0M905.8 124.8h0M908.7 124.1h0M868.5 127.7h0M872.1 127h0M873.9 126.5h0M875.8 126.4h0M879.6 127.5h0M881.5 127.3h0M884.8 127.1h0M887.2 127.3h0M889.3 127.2h0M891.7 126.8h0M895.2 127.1h0M897 127.6h0M900.2 126.9h0M901.6 126.9h0M904.7 127.1h0M907.7 127.4h0M910.6 127.3h0M868.3 130.2h0M870.1 129.4h0M872 130h0M876 129.4h0M878.2 129.8h0M880.8 128.8h0M883.5 129.5h0M885.9 129.3h0M888.4 129.9h0M891.1 129.8h0M892.6 128.8h0M895.9 129.7h0M898.1 129.7h0M901.5 128.6h0M903.8 128.9h0M905.6 128.7h0M908.7 128.8h0M911.1 128.6h0M865.2 131.8h0M868.3 131.8h0M870.6 132.6h0M873.7 131.2h0M876.7 131.3h0M879.2 131.7h0M881.9 132.8h0M884.9 131.8h0M887.5 132.2h0M889.3 131.3h0M892.3 132.1h0M895.5 132.8h0M897.5 131.7h0M900.6 131.1h0M901.8 132.1h0M905.3 131.3h0M908 132.7h0M910.1 131.9h0M912.4 131.6h0M865 134.2h0M868.3 134.6h0M869.9 134.3h0M873.5 134.6h0M874.8 134.6h0M877.1 134.8h0M880.3 134.2h0M883.5 135.2h0M884.7 134.7h0M887.8 135.4h0M891.3 134.1h0M893 134h0M896.9 134.2h0M898.8 134.5h0M901.5 134.8h0M904.3 133.9h0M906.9 134.2h0M909.1 134.3h0M911.3 134.6h0M914.2 134.3h0M866 137.9h0M869.4 137.3h0M870.4 137.7h0M873.8 137.3h0M876.9 137.4h0M879.1 137.9h0M881.5 137h0M885 136.6h0M886.6 137.8h0M888.7 137.8h0M892.5 137.1h0M894.3 137.7h0M898.1 136.6h0M899.9 137.3h0M902.5 136.9h0M904.5 137.3h0M908.3 136.4h0M909.8 137.8h0M913.4 137.5h0M914.7 137.6h0M863.1 140.7h0M865.2 139h0M868 139.3h0M870.3 140.6h0M873 139.1h0M874.8 140.5h0M877.2 140h0M880.3 139.2h0M883.2 139h0M884.9 139.6h0M887.5 139h0M891 140.2h0M894.1 139.1h0M895.9 139.5h0M898.8 139.8h0M902 139.6h0M903 140.1h0M905.8 140h0M909 140.5h0M911.7 140h0M913.8 139.9h0M916.4 140.2h0M863.6 141.7h0M865.6 142.2h0M869.1 141.8h0M871.7 142.7h0M873.2 142.7h0M875.8 141.7h0M879.3 141.9h0M882.4 142.4h0M884 142.9h0M886.1 142.8h0M888.7 141.8h0M892.9 142.7h0M894.2 141.7h0M898.2 142.7h0M900.5 141.7h0M902.7 142.1h0M904.6 142.1h0M907.9 142.1h0M910.1 141.7h0M913.5 142.7h0M916.1 142.3h0M862.9 145h0M865 145.1h0M867.9 144.8h0M869.3 144.2h0M872.1 144.2h0M875.9 145h0M878.3 144.1h0M880.4 145.7h0M883.2 144.9h0M885.6 144.3h0M887.6 144.4h0M890.6 144.8h0M894.1 144.4h0M895.6 144.6h0M898 144.6h0M900.7 145h0M903 145.8h0M906.2 145.8h0M909.4 145.3h0M911.6 145.8h0M913.5 145.3h0M916.4 145.3h0M863.9 147h0M865.6 146.7h0M868.2 146.8h0M871.1 148.4h0M873.7 147.3h0M876.5 147.2h0M879.5 148h0M881.1 147.1h0M884.6 148.4h0M887.2 147.5h0M890.4 146.7h0M891.3 148.1h0M894.6 146.8h0M897.4 148.5h0M900 147.3h0M901.8 146.8h0M905.8 147.6h0M908.5 146.8h0M909.9 146.8h0M912.7 146.8h0M915.1 147.4h0M864 151h0M866.8 150.2h0M869.8 150.3h0M871.9 149.9h0M874.5 150.3h0M878.6 150.4h0M881.1 149.7h0M882.2 150.3h0M885.6 150.3h0M888 150.4h0M891.2 150.9h0M893.1 150.1h0M896.6 149.7h0M897.9 149.9h0M900.5 150.7h0M904.4 149.9h0M905.8 149.4h0M908.6 149.4h0M911.5 150.3h0M913.8 149.4h0M863 152.4h0M865.9 152.1h0M868.6 152.5h0M871.8 152.9h0M874.6 153.1h0M877 152.9h0M879 153.4h0M882 153.6h0M884.7 153.2h0M886.5 153.4h0M889.3 152.1h0M891.3 152.2h0M894.3 153.1h0M896.9 152h0M900.4 152.9h0M901.7 152h0M904.5 152.5h0M908.4 153.6h0M910.5 152.3h0M912.8 152.5h0M915.2 151.9h0M865.2 154.7h0M867.5 154.8h0M870.4 155.3h0M874.5 155.1h0M878.6 155.3h0M880.3 155.3h0M888.4 154.7h0M891.4 155.2h0M895.2 155.5h0M901 154.9h0M903.4 154.9h0M906.5 155.1h0M909.5 154.9h0M911.4 154.9h0M862.7 154.7h0M863.4 151.1h0M862.7 145.7h0M862.7 142.6h0M864.9 135.5h0M866.3 130h0M869.6 127.1h0M873.8 119.8h0M878.1 117.8h0M883.5 119.3h0M887.7 118.9h0M893.1 118h0M898.1 119h0M903.6 119.9h0M908.4 120.7h0M913.1 128.7h0M916.3 135.2h0M918.1 144.2h0M916.2 149.8h0M915.6 155.7h0M909.8 154.5h0M904.5 155.3h0M901 156.3h0M896.6 155.1h0M892.4 155.1h0M887.1 154.5h0M882.4 156.1h0M878.1 156.7h0M872.7 156.5h0M868 155.9h0M875.6 110.4h0M886.1 109.7h0M886.4 113.2h0M896.1 113.2h0M864.1 119.3h0M864.8 123.3h0M918 131.9h0M924.2 136.7h0M946 136.7h0M924.2 145.6h0M920.1 150.6h0M941.7 150.6h0M947.7 155.6h0M879.9 161.4h0M892.1 159.5h0M900.7 162.8h0M890 175.5h0" stroke="#0f3ddc" stroke-width="6.6" stroke-linecap="round" fill="none"/>
<clipPath id="c6"><rect x="77.5" y="253.5" width="77" height="141"/></clipPath>
<g clip-path="url(#c6)"><path d="M123 360.2L122.9 358.5L122.8 356.7L122.5 355L122.1 353.3L121.6 351.7L121 350.1L120.3 348.6L119.5 347.2L118.6 345.9L117.6 344.7L116.6 343.6L115.5 342.7L114.4 341.9L113.2 341.2L111.9 340.6L110.6 340.3L109.3 340L108 339.9L106.7 340L105.4 340.3L104.2 340.6L102.9 341.2L101.7 341.9L100.6 342.7L99.5 343.6L98.4 344.7L97.5 345.9L96.6 347.2L95.8 348.6L95.1 350.1L94.5 351.7L94 353.3L93.6 355L93.3 356.7L93.1 358.5L93.1 360.2L93.1 362L93.3 363.8L93.6 365.5L94 367.2L94.5 368.8L95.1 370.4L95.8 371.9L96.6 373.3L97.5 374.6L98.4 375.8L99.5 376.9L100.6 377.8L101.7 378.6L102.9 379.3L104.2 379.9L105.4 380.2L106.7 380.5L108 380.6L109.3 380.5L110.6 380.2L111.9 379.9L113.2 379.3L114.4 378.6L115.5 377.8L116.6 376.9L117.6 375.8L118.6 374.6L119.5 373.3L120.3 371.9L121 370.4L121.6 368.8L122.1 367.2L122.5 365.5L122.8 363.8L122.9 362Z" fill="none" stroke="#0f3ddc" stroke-width="1.55"/>
<path d="M89.2 364L126.2 361.2" stroke="#0f3ddc" stroke-width="1.55" fill="none"/>
</g>
<path d="M108.5 336.3h0M110.4 334.6h0M111.9 334.8h0M116.2 335.1h0M117.7 336.2h0M106.3 338.6h0M109.2 338.1h0M112.1 337.4h0M114.2 337.8h0M116.9 337.3h0M104.6 340.8h0M107 340h0M110.1 340h0M113.1 341.2h0M115.9 340.6h0M117.7 340.5h0M104.4 343.5h0M105.8 343.3h0M109.6 343.3h0M111.7 342.4h0M114.1 343.2h0M116.5 343.1h0M119.4 343.3h0M102.2 345h0M104.1 345.9h0M106.8 345.1h0M109.5 345.8h0M113.7 345.8h0M115.3 345.7h0M118 345.7h0M121 346.6h0M103.9 348.8h0M106.5 348.6h0M109.5 348.4h0M112 349.3h0M114 349.1h0M117.1 349.1h0M118.5 349.2h0M122.4 349.3h0M102.7 350.4h0M105.2 351.8h0M107 350.8h0M109.4 350.5h0M112.3 350.3h0M116.3 351.7h0M117.9 351.5h0M120.9 351.1h0M103.9 353.1h0M106.5 354.3h0M109.6 353.9h0M110.7 353.5h0M113.3 352.8h0M116.2 353.6h0M119.8 353.9h0M121.5 354h0M102 356.1h0M104.7 356.6h0M107.6 356.1h0M110.1 356.2h0M113.1 356.6h0M115.9 356.1h0M118.5 357.1h0M121.5 356.6h0M122.4 356.9h0M104.1 359h0M105.9 358.3h0M108.3 358.1h0M112 359.6h0M113.6 359.3h0M117.5 358.3h0M119.4 358.7h0M122.7 359.5h0M123.6 358.3h0M103 361.6h0M105 362h0M108.1 362.3h0M109.9 360.6h0M113.1 360.6h0M115.5 362.1h0M117.8 361.6h0M120 360.8h0M123.4 362.1h0M101.8 364.1h0M103.4 363.9h0M106.4 363.8h0M108.3 364.7h0M111.9 364.2h0M114.5 364.9h0M116.1 364.6h0M119.9 363.8h0M122 364h0M123.9 363.9h0M101.8 367.4h0M104.4 366.9h0M107.7 367.5h0M110.7 366.4h0M112.6 365.8h0M114.6 366.3h0M118.8 365.8h0M120 366.9h0M122.9 366.1h0M103.4 368.7h0M105.7 369.1h0M109.3 369.2h0M112 369.9h0M113.5 369.9h0M116.8 369.1h0M119.3 369.9h0M121.7 368.5h0M104.6 371.5h0M107.9 372.5h0M109.9 372.6h0M113 372h0M115.4 371h0M104.5 373.9h0M106.9 374.5h0M108.1 375h0M101.1 371.7h0M102 367.8h0M101.4 362.9h0M100.2 356.7h0M100.1 352h0M101.9 349.7h0M100.1 343.3h0M102 339.1h0M109.4 333.2h0M118.7 335.1h0M118.6 343.3h0M122.5 347.5h0M122.2 355.4h0M126.9 362.8h0M125.9 365.5h0M121.3 370.1h0M117.5 370h0M111.5 373.5h0M106.6 374.9h0M102.3 376.5h0M104.7 262.4h0M102.1 266.7h0M103 269.6h0M101.8 272.9h0M120.1 273.6h0M104.3 284.7h0M115.7 285.8h0M105.4 288.7h0M107.6 290.4h0M102.1 294.5h0M106.4 299.1h0M110 303.1h0M104.3 305.5h0M101.8 308.4h0M106.4 309.8h0M107.6 312h0M111.9 313.4h0M120.1 319.2h0M106.4 321.8h0M104.3 321.8h0M102.1 325.6h0M109.7 330h0M114.7 332.1h0M101.8 337.9h0M118.3 335h0M90.3 363.5h0M122.2 374.5h0M127.4 362.3h0" stroke="#0f3ddc" stroke-width="6.6" stroke-linecap="round" fill="none"/>
<path d="M234.5 394V393.5H242V394ZM242 394V391.3H249.3V394ZM249.3 394V342.5H256.7V394ZM256.7 394V390.6H264.1V394ZM264.1 394V393H271.6V394ZM271.6 394V393.5H308.8V394Z" fill="none" stroke="#103cd8" stroke-width="1.5" stroke-linejoin="miter"/>
<clipPath id="c7"><rect x="385.5" y="253.5" width="85" height="141"/></clipPath>
<g clip-path="url(#c7)"><path d="M430.7 360.2L430.7 358.5L430.5 356.7L430.2 355L429.8 353.3L429.3 351.7L428.7 350.1L428 348.6L427.1 347.2L426.2 345.9L425.2 344.7L424.2 343.6L423 342.7L421.8 341.9L420.6 341.2L419.3 340.6L418 340.3L416.7 340L415.3 339.9L414 340L412.7 340.3L411.4 340.6L410.1 341.2L408.8 341.9L407.6 342.7L406.5 343.6L405.4 344.7L404.5 345.9L403.5 347.2L402.7 348.6L402 350.1L401.4 351.7L400.9 353.3L400.5 355L400.2 356.7L400 358.5L399.9 360.2L400 362L400.2 363.8L400.5 365.5L400.9 367.2L401.4 368.8L402 370.4L402.7 371.9L403.5 373.3L404.5 374.6L405.4 375.8L406.5 376.9L407.6 377.8L408.8 378.6L410.1 379.3L411.4 379.9L412.7 380.2L414 380.5L415.3 380.6L416.7 380.5L418 380.2L419.3 379.9L420.6 379.3L421.8 378.6L423 377.8L424.2 376.9L425.2 375.8L426.2 374.6L427.1 373.3L428 371.9L428.7 370.4L429.3 368.8L429.8 367.2L430.2 365.5L430.5 363.8L430.7 362Z" fill="none" stroke="#0f3ddc" stroke-width="1.55"/>
</g>
<path d="M417.4 332.7h0M417.3 335.6h0M417.7 336.9h0M416.9 340.1h0M419.1 340.7h0M411.2 343.3h0M413.5 342.4h0M415.8 343.2h0M418.8 342.7h0M420.6 342.3h0M405.9 345.2h0M409.5 344.9h0M411.3 344.9h0M414 345.5h0M416.3 344.4h0M419.2 345.5h0M422.6 345.4h0M404.7 348.5h0M407.8 348.1h0M409.8 347.7h0M413.2 348.3h0M415.2 347.6h0M418.9 348.3h0M420.3 347.8h0M403.5 349.5h0M407.1 349.9h0M409.9 350.5h0M411.5 351h0M415 350h0M416.3 350.6h0M420.2 350.5h0M422.6 350.2h0M424.9 349.9h0M403.3 353.5h0M405 353.3h0M407.5 352.3h0M411.1 353.5h0M412.5 353.6h0M414.8 352.6h0M417.4 352.3h0M420.2 353.3h0M423.1 352.4h0M425.5 352.6h0M429.3 353.1h0M430.5 353.3h0M404.2 355.3h0M406.4 355.5h0M409.5 355.1h0M412.5 355.5h0M415 355.9h0M417.8 355.8h0M419.4 355.3h0M422.3 356h0M425.3 354.8h0M426.5 354.8h0M429.2 354.7h0M431.6 355.1h0M434.4 355.9h0M403.4 357.3h0M404.7 358.9h0M407.8 357.6h0M410.9 358h0M413.1 357.8h0M415.2 357.4h0M418.4 358.9h0M421.7 358.6h0M424.2 357.9h0M425.7 358.9h0M428.8 358.4h0M430.4 357.6h0M433.8 358.5h0M402 361.6h0M403.9 360.2h0M406.8 360.8h0M408.9 360.2h0M411.5 360.9h0M413.7 360.8h0M417.7 361.2h0M419.1 360.6h0M421.4 361.1h0M425 360.1h0M427.4 360.9h0M430.1 360.5h0M432.2 360.5h0M436 360.4h0M399.4 363.1h0M402.1 363h0M405 363h0M408.6 363h0M410.1 363.6h0M412.8 363.3h0M415.9 362.5h0M418.5 362.6h0M420.4 363.9h0M424.3 363.6h0M425.4 363.2h0M428.2 363.9h0M430.8 362.8h0M434.1 363.6h0M399.6 365.8h0M402.1 365.7h0M403.9 365.7h0M406.9 366.4h0M408.7 366h0M412.1 365.9h0M414.6 366.1h0M417.3 365.7h0M419.2 365.1h0M422.8 366.4h0M424.5 366.8h0M428.1 365.3h0M430.5 365.8h0M432.2 365.5h0M405 368.5h0M408 369.3h0M409.8 368h0M413.7 369.3h0M416.4 368.6h0M418 368h0M421.6 369h0M423.5 369h0M425.6 368.6h0M429.4 367.8h0M406.6 371.2h0M409.7 371.8h0M411.8 371.2h0M415 370.9h0M417.7 370.3h0M420.1 371.2h0M422.4 372h0M424.2 371h0M413.7 374.6h0M415.1 373.5h0M418.5 373.3h0M421 374.1h0M412.5 375.5h0M419 375.6h0M398.6 364.7h0M402.9 356.5h0M402.4 350.8h0M402.8 345.4h0M406.7 344.6h0M415.1 342.2h0M415.9 337.1h0M417.6 332.7h0M419.5 333h0M420.9 341h0M421.7 345h0M424.6 348.5h0M428.6 352h0M433.2 355.4h0M436.5 362.1h0M434.6 365.9h0M428.2 369.9h0M422.9 374.3h0M420.1 376.3h0M413.6 375.5h0M406.9 370.8h0M399.9 366.8h0M428.3 262.8h0M415.1 266.7h0M422.6 271.5h0M418.7 273.2h0M404.6 273.6h0M417.6 284.7h0M413.2 285.8h0M406.8 286.1h0M412.8 290.4h0M424.5 294.5h0M416.4 299.3h0M414.3 303.4h0M423 305.1h0M423 308.4h0M414.3 309.4h0M410.4 311.7h0M415 313.4h0M412.8 319.2h0M415 321.8h0M426.9 325.6h0M416.8 330h0M409.2 332.8h0M401 334h0M439.1 347.2h0M439.1 359.4h0M448.9 360.9h0M447 363.5h0M396 363.5h0M430.5 370.6h0" stroke="#0f3ddc" stroke-width="6.6" stroke-linecap="round" fill="none"/>
<clipPath id="c8"><rect x="543.5" y="253.5" width="83" height="141"/></clipPath>
<g clip-path="url(#c8)"><path d="M565.5 358.2L565.4 356.5L565.3 354.7L565.1 353.1L564.8 351.4L564.4 349.9L564 348.4L563.4 347L562.8 345.7L562.1 344.5L561.4 343.5L560.6 342.5L559.8 341.7L558.9 341.1L557.9 340.6L557 340.2L556 340L555 340L554 340.1L553 340.3L552 340.7L551 341.3L550.1 342L549.2 342.8L548.3 343.8L547.4 344.9L546.6 346.1L545.9 347.4L545.2 348.8L544.6 350.3L544.1 351.9L543.6 353.6L543.2 355.2L542.9 357L542.7 358.7L542.6 360.5L542.5 362.3L542.6 364L542.7 365.8L542.9 367.4L543.2 369.1L543.6 370.6L544.1 372.1L544.6 373.5L545.2 374.8L545.9 376L546.6 377L547.4 378L548.3 378.8L549.2 379.4L550.1 379.9L551 380.3L552 380.5L553 380.5L554 380.4L555 380.2L556 379.8L557 379.2L557.9 378.5L558.9 377.7L559.8 376.7L560.6 375.6L561.4 374.4L562.1 373.1L562.8 371.7L563.4 370.2L564 368.6L564.4 366.9L564.8 365.3L565.1 363.5L565.3 361.8L565.4 360Z" fill="none" stroke="#0f3ddc" stroke-width="1.55"/>
<path d="M544.7 362.4L614.4 350.4" stroke="#0f3ddc" stroke-width="1.55" fill="none"/>
</g>
<path d="M550.8 335.3h0M553.3 334.7h0M556.8 336h0M550.5 337.8h0M552.7 338.8h0M554.1 337.4h0M550.4 341h0M552.9 340.1h0M555.4 340.9h0M550 342.9h0M551.5 343.2h0M555.6 343.7h0M557.1 343.6h0M551.7 345.1h0M554.2 345.3h0M555.8 345.6h0M558 345.2h0M549.2 348.8h0M552.6 349.2h0M554.9 349.2h0M557.4 348.6h0M560.3 349h0M548.3 351.3h0M551.6 351.4h0M553.2 351.5h0M555.5 350.7h0M559.7 351h0M561 351.5h0M568.9 351.8h0M549.5 353.6h0M551.7 353.8h0M554.1 354.2h0M556.9 352.9h0M560.3 353.3h0M563.4 353.6h0M565.3 354.2h0M567.4 354.1h0M570.8 353.5h0M573.9 352.8h0M548.4 356.4h0M550.5 356.3h0M552.7 356.1h0M556.7 355.9h0M558.3 355.4h0M561.8 356.1h0M564.7 356.7h0M565.9 357h0M570 356.8h0M572.4 356.6h0M574.8 356.5h0M577.2 355.8h0M578.9 356.6h0M547.4 359h0M549.7 359.3h0M553 358.6h0M555.5 358.8h0M557.6 358.7h0M560.9 358.7h0M563.5 358.5h0M565.6 359.6h0M568.2 358.6h0M569.7 358.8h0M572.9 359.4h0M576.2 359.7h0M578.2 358.7h0M581 359.3h0M582.7 358.3h0M547.8 361.1h0M550.6 362.3h0M553.1 362.2h0M555.8 360.9h0M559.7 360.7h0M560.7 360.8h0M563.2 361.2h0M566.1 360.8h0M568.3 361.8h0M571 361h0M574.5 362.1h0M577.3 361.8h0M580 362h0M549.7 364.1h0M552.8 363.4h0M555.3 363.9h0M557.4 363.6h0M559.7 364.2h0M562.8 364.8h0M564.9 364.4h0M567.2 364.3h0M569.9 364.7h0M573.9 363.6h0M576.3 363.5h0M577.9 363.3h0M548.3 367h0M550.5 366.3h0M553.4 365.7h0M556.9 365.9h0M558.1 367.2h0M562 366.5h0M563.9 366h0M565.7 366.7h0M568.7 366h0M572.5 365.8h0M574.1 367.1h0M550.2 369.2h0M552.4 369.8h0M555.1 369h0M556.6 369.8h0M559.8 369.1h0M562.3 369.3h0M565.1 369.8h0M568.1 369.3h0M550.2 371.6h0M554 371.8h0M556.8 371.2h0M559.3 371.7h0M561.5 371h0M550.5 374.5h0M552.3 373.6h0M555.4 374.7h0M557 373.7h0M547.4 364.5h0M547 358.4h0M547.7 352.5h0M548.1 347.1h0M549.1 341h0M548.8 337.8h0M551.7 333.8h0M556.6 335.6h0M557.2 339.3h0M560.4 342.8h0M562.4 350.8h0M568.4 352.4h0M573.9 352h0M580.2 356.4h0M583.9 357.8h0M582.3 361.6h0M575.1 366.5h0M570.5 368.2h0M561.8 370.2h0M558 376.8h0M550.5 376.5h0M547.9 370.2h0M562.3 262.4h0M560 266.7h0M567.4 271.5h0M551.8 272.9h0M549.4 273.6h0M561.5 284.7h0M553.7 285.8h0M551.8 286.1h0M553.7 290.4h0M570.2 294.5h0M554.3 299.1h0M553.3 303.4h0M580.2 305.5h0M555.4 308.4h0M564.5 308.8h0M555.4 312.7h0M559.5 319.2h0M562.6 321.8h0M555.4 321.8h0M550.4 325.6h0M570.2 330h0M583.9 335h0M577.7 342.6h0M590.6 362h0M592.8 362h0M607.6 361.2h0M615.1 359.7h0M545.7 365.9h0M549.7 330.7h0M547.5 338.6h0" stroke="#0f3ddc" stroke-width="6.6" stroke-linecap="round" fill="none"/>
<clipPath id="c9"><rect x="701.5" y="253.5" width="86" height="141"/></clipPath>
<g clip-path="url(#c9)"><path d="M727.2 360.2L727.2 358.5L727 356.7L726.8 355L726.5 353.3L726.1 351.7L725.6 350.1L725 348.6L724.3 347.2L723.6 345.9L722.8 344.7L722 343.6L721.1 342.7L720.1 341.9L719.1 341.2L718.1 340.6L717 340.3L716 340L714.9 339.9L713.8 340L712.7 340.3L711.7 340.6L710.7 341.2L709.7 341.9L708.7 342.7L707.8 343.6L707 344.7L706.2 345.9L705.4 347.2L704.8 348.6L704.2 350.1L703.7 351.7L703.3 353.3L703 355L702.8 356.7L702.6 358.5L702.6 360.2L702.6 362L702.8 363.8L703 365.5L703.3 367.2L703.7 368.8L704.2 370.4L704.8 371.9L705.4 373.3L706.2 374.6L707 375.8L707.8 376.9L708.7 377.8L709.7 378.6L710.7 379.3L711.7 379.9L712.7 380.2L713.8 380.5L714.9 380.6L716 380.5L717 380.2L718.1 379.9L719.1 379.3L720.1 378.6L721.1 377.8L722 376.9L722.8 375.8L723.6 374.6L724.3 373.3L725 371.9L725.6 370.4L726.1 368.8L726.5 367.2L726.8 365.5L727 363.8L727.2 362Z" fill="none" stroke="#0f3ddc" stroke-width="1.55"/>
<path d="M707 359.7L765.2 363" stroke="#0f3ddc" stroke-width="1.55" fill="none"/>
</g>
<path d="M712.7 332.9h0M714.1 334h0M716.5 335h0M712.4 336.8h0M715.7 338.1h0M716.9 336.7h0M713.2 339.4h0M717 339.5h0M711.9 342.9h0M714.4 342.1h0M717.5 342.6h0M714.5 345.2h0M715.6 345.8h0M713.2 348.4h0M714.9 347.6h0M717.4 348.5h0M719.4 347.1h0M713.3 349.9h0M717 349.9h0M718.2 351h0M721.6 349.5h0M724.5 350.7h0M711.8 353.6h0M714.6 353.6h0M717.7 352.3h0M720.3 353.2h0M722.8 353.2h0M725.2 353.7h0M727.5 353.5h0M712 355.4h0M712.9 355.2h0M717.1 354.9h0M718.4 356h0M720.8 356.1h0M723.6 355.3h0M726.9 354.8h0M729.8 355.4h0M732.4 356h0M733.8 356.1h0M737.7 355.1h0M711.7 358.6h0M714.3 358.2h0M717.2 358.8h0M719.5 358.1h0M722.8 357.9h0M724.7 358.4h0M728.9 357.9h0M731.4 357.8h0M732.8 358h0M736.7 358.6h0M738.7 357.3h0M741 357.2h0M711.9 361.5h0M713.6 360.1h0M717.2 360.6h0M718.7 361.3h0M721.6 361.5h0M724.5 361.5h0M726.1 361.5h0M729.4 361.1h0M731.6 360.3h0M734.2 360.1h0M738 360h0M739.3 361h0M741.8 360.2h0M744.5 360.2h0M746.7 361.1h0M710.1 363h0M713.2 363.4h0M714.5 364.2h0M717.2 363.9h0M720.8 362.4h0M723.5 363.2h0M725.4 364.1h0M728 362.9h0M729.8 364h0M733.2 363.7h0M736.1 364.2h0M739.2 364.1h0M741 364.1h0M743.3 362.6h0M746.5 362.5h0M711 365.5h0M713.4 366h0M716.9 365h0M718.7 365.5h0M722.4 365.8h0M724 366.7h0M726.5 365.7h0M729.2 365.4h0M732.3 365.5h0M734.6 366h0M712.2 368.3h0M714.2 368.9h0M717.3 368.5h0M720.6 369.1h0M723.6 368.8h0M713.6 371.8h0M716 371.2h0M719.5 371.3h0M722.1 370.2h0M715.1 374.2h0M717.6 373.3h0M720.2 372.9h0M716.2 375.6h0M710.2 363h0M711.1 358.2h0M709.5 354.1h0M710.7 350h0M710.8 343.1h0M711.3 338h0M711.3 332.3h0M717.9 333.3h0M716.9 337.3h0M716.9 341.9h0M719.1 345.2h0M723.9 349.7h0M728.7 354.6h0M738.3 353.9h0M744.5 359.7h0M749.4 361.4h0M747.9 365.2h0M741.7 365.5h0M735.5 366.4h0M728.7 366.1h0M725 368.5h0M720.7 374.5h0M714.6 376.5h0M710.9 370.7h0M714.6 262.4h0M713.4 266.7h0M714.9 269.6h0M714.6 273.2h0M718.5 273.2h0M709.8 284.7h0M716.3 285.8h0M713.4 289h0M718 294.5h0M714.2 299.1h0M715.6 302.7h0M712 305.5h0M714.2 308.4h0M712 311.7h0M718 313.4h0M711.3 318.5h0M714.2 321.8h0M718.5 325.6h0M712.3 330h0M718 331.4h0M734.7 338.6h0M739.6 337.9h0M725.7 346.5h0M747.6 348.6h0M758 355.5h0M753.7 357.7h0M764.5 363.5h0M752 368.3h0M746.5 358h0" stroke="#0f3ddc" stroke-width="6.6" stroke-linecap="round" fill="none"/>
<clipPath id="c10"><rect x="860.5" y="253.5" width="97" height="141"/></clipPath>
<g clip-path="url(#c10)"><path d="M913.2 360.2L913.2 358.5L912.9 356.7L912.4 355L911.8 353.3L911 351.7L910 350.1L908.9 348.6L907.6 347.2L906.2 345.9L904.7 344.7L903 343.6L901.2 342.7L899.4 341.9L897.5 341.2L895.5 340.6L893.4 340.3L891.3 340L889.2 339.9L887.2 340L885.1 340.3L883 340.6L881 341.2L879.1 341.9L877.2 342.7L875.5 343.6L873.8 344.7L872.3 345.9L870.9 347.2L869.6 348.6L868.5 350.1L867.5 351.7L866.7 353.3L866.1 355L865.6 356.7L865.3 358.5L865.2 360.2L865.3 362L865.6 363.8L866.1 365.5L866.7 367.2L867.5 368.8L868.5 370.4L869.6 371.9L870.9 373.3L872.3 374.6L873.8 375.8L875.5 376.9L877.2 377.8L879.1 378.6L881 379.3L883 379.9L885.1 380.2L887.2 380.5L889.2 380.6L891.3 380.5L893.4 380.2L895.5 379.9L897.5 379.3L899.4 378.6L901.2 377.8L903 376.9L904.7 375.8L906.2 374.6L907.6 373.3L908.9 371.9L910 370.4L911 368.8L911.8 367.2L912.4 365.5L912.9 363.8L913.2 362Z" fill="none" stroke="#0f3ddc" stroke-width="1.55"/>
<path d="M860.5 359.7L948.2 361.7" stroke="#0f3ddc" stroke-width="1.55" fill="none"/>
</g>
<path d="M884.1 338.8h0M879.1 340.4h0M882.7 340.4h0M885.5 340.5h0M895.1 340.5h0M898.4 341.5h0M878.4 343h0M881.4 343.9h0M884.2 344.1h0M885.2 343.7h0M888.4 343.2h0M891.3 342.7h0M893.4 344.2h0M896.1 344.1h0M899.4 343h0M876.3 346.2h0M880.2 346.2h0M882.3 346h0M885.2 345.7h0M886.9 346.1h0M890 345.3h0M892.6 345.9h0M894.5 346.3h0M898.3 345.7h0M901 346.8h0M875.5 348.4h0M878.9 348.3h0M881 348.6h0M883.4 348.5h0M886 348.7h0M888.5 348.4h0M892 349.4h0M893.4 349.4h0M895.6 348.3h0M899.8 348h0M902 349.4h0M904.5 348.5h0M874.8 351.2h0M877.2 351.5h0M879.9 350.8h0M882.8 351.1h0M884.2 351.8h0M888.1 350.5h0M890.6 351.5h0M892.1 351.3h0M895.9 350.5h0M898 350.7h0M899.7 352h0M903.8 351.4h0M906.1 351h0M908 351.4h0M876 353.3h0M878.5 353h0M881.2 354.1h0M883 353.3h0M885.6 353.7h0M888.1 353.3h0M891.8 354.5h0M893.2 353.8h0M896.7 354.6h0M899.2 353.8h0M902.1 354.3h0M904.6 354h0M907.4 352.9h0M909.9 353.3h0M868.3 357h0M872.4 357h0M874.6 356.2h0M876.2 357.1h0M879.4 355.7h0M882.4 355.5h0M884.6 356.5h0M887.9 356.1h0M889.4 356.1h0M893.1 355.6h0M894.5 356.1h0M898.6 357h0M901.2 355.5h0M903 355.7h0M905.7 356.9h0M908.1 356.7h0M911.1 356.4h0M913.2 355.9h0M863.5 359.7h0M865.9 359.2h0M867.8 358.3h0M871 358.4h0M873.8 359.6h0M875.3 359.7h0M878.7 359.5h0M880.1 358.5h0M882.8 359.7h0M885.6 358.9h0M889.1 358.8h0M891.5 359.2h0M893.6 359.7h0M896.8 359.4h0M899.5 359.2h0M901.1 359.7h0M905 358.2h0M906.6 358.4h0M908.8 359.1h0M911.9 358.3h0M914.6 359.3h0M916.6 359.2h0M864.2 362.2h0M867.5 362.2h0M868.9 360.8h0M871.5 361h0M875 361.3h0M877.1 362h0M879.5 362.5h0M882.4 361.7h0M884.2 361.1h0M887.7 361.4h0M890.1 362.2h0M892.9 362.2h0M894.9 360.8h0M897.4 362.3h0M899.9 360.9h0M902.2 362.5h0M905 360.8h0M907.9 360.7h0M911.2 361.9h0M913.2 362h0M915.1 362.1h0M864.6 365h0M868.7 364.1h0M870.1 364.2h0M873.4 364.1h0M875.7 365h0M878.6 364h0M881.6 364.7h0M882.6 364.1h0M885.7 363.8h0M888.4 364.8h0M891.5 363.7h0M893.1 363.5h0M896.2 364.2h0M899 364h0M901.7 363.8h0M905.1 363.6h0M906.6 364.4h0M910.1 364h0M912.3 363.7h0M913.8 365h0M863.1 366.4h0M869.7 366.4h0M874.8 367.5h0M876.3 367.1h0M879.8 367.4h0M882.8 367.2h0M885.4 366h0M888.2 366.9h0M890.7 366.1h0M892.6 367.5h0M896 367h0M898.5 365.9h0M899.6 366.3h0M903.6 367.1h0M905.4 367.5h0M908.2 366.1h0M911.5 367.2h0M877.4 369.5h0M881.5 368.9h0M883.1 369.5h0M885.5 369.6h0M889.4 369h0M890.7 370h0M893 370h0M896.3 369.9h0M898.8 370.2h0M901.9 369.5h0M909.1 368.9h0M879.4 371.5h0M882.3 371.2h0M884.6 371.9h0M887.5 371.3h0M890.2 371.9h0M893.3 371.3h0M895 372.5h0M885.4 375.2h0M888.2 374.8h0M863.8 357.5h0M868.3 355.8h0M870.8 356.1h0M874.4 351.2h0M874.5 346.9h0M879.6 340.4h0M884 336.9h0M889.1 342.8h0M894.3 338.5h0M900.2 341.1h0M904.1 345.4h0M905.8 350.5h0M911.8 353.7h0M913.7 356.9h0M917.4 359.2h0M915.4 365.8h0M911.4 368.2h0M901.9 369.5h0M897.4 370.2h0M892.9 372.9h0M886.7 377.2h0M879.9 372.5h0M874.5 368.5h0M869.3 366.4h0M864 366.8h0M864 363.4h0M904.3 262.8h0M886.1 266.7h0M891.4 271h0M894.3 273.2h0M875.6 273.6h0M892.1 284.7h0M887.1 285.8h0M879.9 286.1h0M888.1 290.4h0M888.1 294.5h0M894.3 299.3h0M886.7 302.7h0M884.6 305.5h0M896.4 308.8h0M884.6 311.7h0M887.1 312h0M884.6 319.2h0M887.8 321.8h0M890.7 321.8h0M908.6 325.6h0M882.3 330h0M895 331h0M870.6 334h0M874.9 335h0M879.9 332.8h0M866.5 342.5h0M924.2 347.2h0M924.5 359.4h0M941.7 362h0M946 361.2h0M947.9 363.7h0M862.7 360.9h0M903.6 344.3h0M897.9 337.1h0" stroke="#0f3ddc" stroke-width="6.6" stroke-linecap="round" fill="none"/>
<clipPath id="c11"><rect x="77.5" y="452.5" width="77" height="141"/></clipPath>
<g clip-path="url(#c11)"><path d="M123 544.4L122.9 542.2L122.8 540L122.5 537.8L122.1 535.7L121.6 533.6L121 531.6L120.3 529.7L119.5 527.9L118.6 526.3L117.6 524.8L116.6 523.4L115.5 522.2L114.4 521.2L113.2 520.3L111.9 519.6L110.6 519.2L109.3 518.9L108 518.8L106.7 518.9L105.4 519.2L104.2 519.6L102.9 520.3L101.7 521.2L100.6 522.2L99.5 523.4L98.4 524.8L97.5 526.3L96.6 527.9L95.8 529.7L95.1 531.6L94.5 533.6L94 535.7L93.6 537.8L93.3 540L93.1 542.2L93.1 544.4L93.1 546.7L93.3 548.9L93.6 551.1L94 553.2L94.5 555.3L95.1 557.3L95.8 559.2L96.6 560.9L97.5 562.6L98.4 564.1L99.5 565.5L100.6 566.7L101.7 567.7L102.9 568.6L104.2 569.2L105.4 569.7L106.7 570L108 570.1L109.3 570L110.6 569.7L111.9 569.2L113.2 568.6L114.4 567.7L115.5 566.7L116.6 565.5L117.6 564.1L118.6 562.6L119.5 560.9L120.3 559.2L121 557.3L121.6 555.3L122.1 553.2L122.5 551.1L122.8 548.9L122.9 546.7Z" fill="none" stroke="#0f3ddc" stroke-width="1.55"/>
<path d="M89.2 545.8L126.2 544.9" stroke="#0f3ddc" stroke-width="1.55" fill="none"/>
</g>
<path d="M104.6 517.5h0M103.6 519h0M105.3 519.6h0M108.6 519.3h0M109.9 519.5h0M112.4 518.6h0M115.3 519.7h0M118 519.7h0M102.2 521.4h0M103.6 521.1h0M107 521.6h0M108.7 522.2h0M112.1 521.8h0M113.9 522.2h0M117.2 521.8h0M119.1 522.7h0M103.7 524.7h0M105.1 523.9h0M108.2 524.6h0M110.5 525.4h0M113.8 523.9h0M116.5 523.6h0M118.7 524.2h0M103.4 527.1h0M106.4 526.4h0M109.8 526.4h0M111.5 526.4h0M114.8 526.8h0M116.3 526.3h0M119.2 527.2h0M103.1 529.8h0M104.8 529.4h0M107.3 529.3h0M110.4 529.2h0M112.7 529.3h0M115.5 529.8h0M119.1 530h0M120.9 528.8h0M104.9 532h0M106.5 532h0M109.6 531.6h0M111.5 533h0M114.3 533.2h0M116.9 532.9h0M119.7 531.6h0M122.5 531.8h0M103.6 535.3h0M105.5 535.7h0M108.1 535.8h0M111 534.4h0M112.8 535.6h0M115.1 535.8h0M117.6 535.4h0M121.2 534.8h0M103.3 537.8h0M107.4 537.3h0M110 537.4h0M111.5 538.1h0M115.3 536.8h0M117.8 537.2h0M120.2 537.2h0M123.2 537.2h0M102.3 539.3h0M104.8 539.4h0M108.6 539.3h0M109.9 539.7h0M112.6 540.6h0M114.9 540.5h0M118.1 539.5h0M120.5 540.2h0M123.2 539.9h0M104.5 542.4h0M106.9 543.1h0M109 543.2h0M111.2 542.7h0M114.3 542.1h0M117.4 543.4h0M119.7 542.5h0M123 543.6h0M103.1 545.5h0M105.7 545.7h0M108.3 545.4h0M111.1 545.8h0M113.5 545.4h0M115.6 544.8h0M118.4 545h0M121 544.8h0M102.2 548.1h0M104.9 548.6h0M106.1 547.5h0M110.2 548.2h0M111.2 547.5h0M113.8 547.6h0M116.4 547.1h0M118.9 547.9h0M122.7 548h0M103.1 550.8h0M104.8 550.9h0M108 550.4h0M111.4 550.5h0M113.6 551h0M115.8 549.9h0M117.9 550.2h0M120.5 550.4h0M122.8 551h0M102 553.4h0M103.4 552.6h0M107.4 553.8h0M109.7 553.8h0M111.4 552.8h0M114.4 553.1h0M116.9 552.7h0M120.3 552.6h0M122.4 553.7h0M102.2 555.4h0M105.2 555.4h0M108.8 556.4h0M110 555h0M113.4 555.8h0M115 556.4h0M119.1 555.9h0M120.3 555.2h0M103.3 558.7h0M107.3 558.9h0M108.6 558.7h0M112 558.6h0M113.9 559.2h0M118 557.7h0M119.8 558.4h0M102.3 561.4h0M105.4 560.9h0M108 560.6h0M111.3 561.4h0M112.8 560.6h0M115.9 561.2h0M119.1 561.7h0M120.2 561.6h0M102 563h0M103.6 562.8h0M106.6 564.1h0M108.4 564h0M111.7 564.3h0M114.6 563.5h0M116.7 564.2h0M102.5 565.4h0M104.9 566.4h0M107.3 565.3h0M110.4 566.4h0M112.6 565.8h0M115.1 567h0M107.4 567.9h0M108.6 568.8h0M103.3 568h0M101.9 564.3h0M100.9 556.9h0M102.1 553h0M102.8 549h0M101.2 543.3h0M100.4 538.6h0M101.6 532.9h0M101.3 528.7h0M101.9 523.7h0M100.9 518.4h0M102.7 517.6h0M108.8 518.1h0M118.7 516.4h0M121.3 523.5h0M122.5 531.7h0M122.1 536.6h0M122.8 543.2h0M124.9 549.5h0M123.4 554.9h0M122.4 557.1h0M120 561.7h0M116.7 566.6h0M111 567.2h0M106.6 570.1h0M102.1 491.3h0M104.4 493.5h0M111.9 489.4h0M111.9 504.5h0M112.6 507.4h0M102.1 512.4h0M106.8 512.1h0M115.5 513.9h0M122.6 525.4h0M126.7 553.8h0M126.7 565.6h0M106.6 575.7h0M101.5 571.4h0M117.6 569.6h0M90.3 547.6h0M126 543.3h0" stroke="#0f3ddc" stroke-width="6.6" stroke-linecap="round" fill="none"/>
<clipPath id="c12"><rect x="226.5" y="452.5" width="85" height="141"/></clipPath>
<g clip-path="url(#c12)"><path d="M259.6 544.4L259.6 542.2L259.4 540L259.2 537.8L258.9 535.7L258.5 533.6L258 531.6L257.4 529.7L256.8 527.9L256.1 526.3L255.3 524.8L254.4 523.4L253.5 522.2L252.6 521.2L251.6 520.3L250.6 519.6L249.6 519.2L248.5 518.9L247.4 518.8L246.4 518.9L245.3 519.2L244.3 519.6L243.3 520.3L242.3 521.2L241.4 522.2L240.5 523.4L239.6 524.8L238.8 526.3L238.1 527.9L237.5 529.7L236.9 531.6L236.4 533.6L236 535.7L235.7 537.8L235.5 540L235.3 542.2L235.3 544.4L235.3 546.7L235.5 548.9L235.7 551.1L236 553.2L236.4 555.3L236.9 557.3L237.5 559.2L238.1 560.9L238.8 562.6L239.6 564.1L240.5 565.5L241.4 566.7L242.3 567.7L243.3 568.6L244.3 569.2L245.3 569.7L246.4 570L247.4 570.1L248.5 570L249.6 569.7L250.6 569.2L251.6 568.6L252.6 567.7L253.5 566.7L254.4 565.5L255.3 564.1L256.1 562.6L256.8 560.9L257.4 559.2L258 557.3L258.5 555.3L258.9 553.2L259.2 551.1L259.4 548.9L259.6 546.7Z" fill="none" stroke="#0f3ddc" stroke-width="1.55"/>
<path d="M237.4 544.3L307.6 540.2" stroke="#0f3ddc" stroke-width="1.55" fill="none"/>
</g>
<path d="M247.6 513.4h0M248.8 514.2h0M248.7 515.7h0M251.5 516.9h0M246.9 519h0M248.8 518.2h0M251.7 519.6h0M243.7 521.6h0M246.2 521.4h0M247.9 520.9h0M251.4 520.8h0M252.5 521.9h0M244.7 524h0M246.4 524.8h0M249.5 524.4h0M251.2 523.5h0M255.2 524.5h0M245.8 527.2h0M248.3 526.2h0M250.5 527.4h0M254 525.9h0M255.2 525.9h0M257.7 526.5h0M243.6 528.6h0M246.6 529.6h0M249.5 528.4h0M252.4 529.9h0M255.1 529.7h0M256.3 529.1h0M243.6 531.4h0M245.5 531.9h0M248.9 531.1h0M250.9 531.8h0M253.7 532.6h0M255.6 532.2h0M258.6 531.9h0M243.4 535h0M247.3 534.3h0M249.6 533.5h0M252.3 534.3h0M254.6 534.2h0M257 533.9h0M259 534.3h0M243.1 537.8h0M244.8 537h0M248.1 537.4h0M251.4 537.5h0M253.5 537.5h0M256.2 537.6h0M258.9 537.3h0M260.6 537.7h0M263.5 537.2h0M242.5 538.7h0M243.9 539.3h0M246.6 539h0M249.5 538.8h0M251.7 540.4h0M255 539.5h0M256.5 540.4h0M260.2 539.1h0M262.1 539.8h0M265.3 539.2h0M242.3 542.5h0M245 542.4h0M247.7 542h0M251.5 542.1h0M253.2 542.4h0M255.5 541.6h0M258.3 541.8h0M260.5 543h0M262.9 542.8h0M240.7 544.8h0M243.4 545h0M247.2 544.3h0M248.5 544.9h0M251.3 544.4h0M254.5 545.5h0M257 544.1h0M260.3 545.4h0M262.5 544h0M240.9 548h0M243.7 548.1h0M244.6 547.5h0M247.4 548.1h0M251.2 547.9h0M252.7 546.6h0M256.5 547.6h0M258.7 547.3h0M261.6 547.1h0M242.3 549.2h0M243.4 550h0M247.1 549.4h0M249 549.2h0M251.2 550h0M254.9 550.3h0M256.6 549.3h0M260.6 550.1h0M242.6 552.7h0M245.7 552h0M248.5 552.6h0M250.1 553.2h0M253.9 553.3h0M256.2 552.1h0M259 553.3h0M261.2 553.3h0M242.1 554.3h0M243.9 555.4h0M247 555.7h0M249.7 554.6h0M252.8 555.3h0M255.3 554.7h0M258.1 555.3h0M260.3 555.6h0M242.2 556.9h0M245.4 557.9h0M247.3 558.1h0M250.2 557.1h0M254.1 557.8h0M256.6 557.8h0M257.8 557.3h0M244.2 560h0M246.9 560.3h0M248.6 561h0M252.2 560.9h0M255 560.8h0M258.1 560.2h0M259.6 559.5h0M242.9 562.2h0M245.3 563.6h0M248.1 562.9h0M250.5 563.2h0M253.5 563.3h0M256.6 563.4h0M258.3 562.5h0M244.4 565h0M247.4 565.2h0M249.7 565.2h0M251.5 565.1h0M254.6 566h0M245.9 568.4h0M248 568.2h0M251.5 568h0M244.4 570.9h0M246.1 570.8h0M248.8 571.3h0M247.4 572.9h0M244.1 570.5h0M244.3 565.5h0M243.7 562.5h0M242.3 557.1h0M239.4 548.7h0M241.1 544.9h0M240.8 540.8h0M240.3 534.9h0M241.1 528.5h0M243.7 523.2h0M243.9 517h0M245.8 512.9h0M248.8 510.3h0M252.9 519.1h0M256.6 524.4h0M259 528.9h0M260.6 533.6h0M264 536.9h0M267.1 541.5h0M261.1 546.6h0M261.3 549.7h0M259.9 554.8h0M260 562.3h0M253.7 566.4h0M250.8 570.5h0M247.4 573.6h0M248.9 489.1h0M247.5 491.6h0M247.1 493.7h0M256.8 504.5h0M250.4 505.7h0M246.8 507.4h0M269.8 525.1h0M306.7 525.1h0M279.8 532.6h0M282.7 531.8h0M288.2 531.8h0M302.1 533.7h0M300.7 540.2h0M294.2 542.3h0M284.6 542.3h0M306.1 545.2h0M272.6 544.8h0M277.7 546.2h0M283.4 548.4h0M274.8 549.1h0M290.6 549.8h0M294.2 549.8h0M278 553.8h0M266.2 556.3h0M292.5 558.1h0M300.7 563.2h0M264.7 569.2h0M246.5 575.7h0M243.2 571.4h0M281.3 544.8h0M269.8 542.6h0" stroke="#0f3ddc" stroke-width="6.6" stroke-linecap="round" fill="none"/>
<path d="M393.4 593V592.5H405.4V593ZM405.4 593V587.8H411.4V593ZM411.4 593V552H417V593ZM417 593V519.3H422.8V593ZM422.8 593V555H428.6V593ZM428.6 593V582.2H433.9V593ZM433.9 593V591.3H439.6V593ZM439.6 593V592.1H445.6V593ZM445.6 593V592.5H451.7V593Z" fill="none" stroke="#103cd8" stroke-width="1.5" stroke-linejoin="miter"/>
<clipPath id="c13"><rect x="543.5" y="452.5" width="83" height="141"/></clipPath>
<g clip-path="url(#c13)"><path d="M565.5 536.7L565.4 534.6L565.3 532.6L565.1 530.7L564.8 528.8L564.4 527.1L564 525.5L563.4 524.1L562.8 522.8L562.1 521.7L561.4 520.7L560.6 520L559.8 519.4L558.9 519L557.9 518.8L557 518.8L556 519L555 519.4L554 519.9L553 520.7L552 521.7L551 522.8L550.1 524.1L549.2 525.5L548.3 527.1L547.4 528.8L546.6 530.6L545.9 532.6L545.2 534.6L544.6 536.7L544.1 538.9L543.6 541.1L543.2 543.3L542.9 545.5L542.7 547.8L542.6 550L542.5 552.1L542.6 554.2L542.7 556.3L542.9 558.2L543.2 560L543.6 561.8L544.1 563.3L544.6 564.8L545.2 566.1L545.9 567.2L546.6 568.1L547.4 568.9L548.3 569.5L549.2 569.9L550.1 570.1L551 570.1L552 569.9L553 569.5L554 568.9L555 568.2L556 567.2L557 566.1L557.9 564.8L558.9 563.4L559.8 561.8L560.6 560.1L561.4 558.2L562.1 556.3L562.8 554.3L563.4 552.2L564 550L564.4 547.8L564.8 545.6L565.1 543.3L565.3 541.1L565.4 538.9Z" fill="none" stroke="#0f3ddc" stroke-width="1.55"/>
<path d="M544.7 551.2L614.1 513.4" stroke="#0f3ddc" stroke-width="1.55" fill="none"/>
</g>
<path d="M547.8 517.4h0M550.7 518.6h0M553.5 518.1h0M547.4 520.3h0M549.5 521.5h0M552.2 521.6h0M554 521.6h0M556.4 520.6h0M559 521.4h0M562.7 521.6h0M565.6 521.6h0M567.7 521.7h0M548.2 522.8h0M550.8 524h0M552.9 523.3h0M556.6 523.3h0M558.2 524.1h0M561.7 524.1h0M564 523.2h0M566.7 524h0M569.2 522.9h0M547.4 525.5h0M550.2 525.2h0M552.1 526.1h0M554.1 526.1h0M557.2 525.9h0M560.2 525.1h0M562.2 526.5h0M564.4 526.7h0M567.1 526.3h0M569.6 525.9h0M547.4 529.3h0M551.4 528.6h0M553.8 528.9h0M556.1 528.2h0M558.2 528.3h0M560.8 529.4h0M563.4 528.4h0M566.2 529.2h0M568.9 528.7h0M571.1 528.2h0M573.4 528.1h0M576.3 529.2h0M546.9 531.1h0M550.1 530.8h0M552.6 530.7h0M555.5 531.4h0M556.4 531.7h0M559.4 530.9h0M561.8 531.8h0M564.3 531.6h0M567.4 531.5h0M569.8 530.4h0M573.6 531.5h0M574.8 532.1h0M578.8 530.6h0M579.7 531.4h0M548.1 534.2h0M550.8 534.3h0M553.9 534h0M556.1 533.5h0M557.9 533.1h0M561.8 533.3h0M563.6 533.5h0M566.5 533.9h0M569.6 533.7h0M571.3 534.1h0M574.5 534.6h0M576.4 534.5h0M547.3 537h0M548.6 536.2h0M552.4 536.9h0M554.7 535.9h0M557 535.6h0M559.5 536.3h0M563 536.6h0M564.9 535.9h0M567.3 536.7h0M570.1 535.8h0M573.4 536.5h0M576.3 536.5h0M578.2 536.3h0M548 538.2h0M551.3 538.8h0M553.1 538.2h0M555.1 538.8h0M559.4 539.4h0M561.5 539.3h0M563.3 538.4h0M566.5 538.2h0M569.1 539h0M571.6 538.3h0M573.3 538.9h0M576.1 539.2h0M579 539.2h0M546.9 541h0M549.1 542.5h0M551.6 541.2h0M554.6 541.7h0M557.7 541.2h0M560.6 540.7h0M562.9 541.7h0M565.7 541h0M567.9 542.4h0M570.5 540.9h0M573.6 542.4h0M574.7 542.2h0M577.3 540.8h0M548.1 543.8h0M550.8 545.1h0M553.6 544.9h0M555.4 544.6h0M558.9 543.4h0M561.7 543.6h0M563.2 543.4h0M566.6 543.5h0M569.8 543.3h0M572.1 544.7h0M574.2 544.3h0M577.2 544.4h0M578.7 544.7h0M546.8 547.5h0M549.3 547.4h0M551.3 546.5h0M554.9 547h0M557.8 546.3h0M560.4 547.3h0M561.8 546.1h0M565.2 547.6h0M567.8 546.7h0M570.2 547.4h0M572.8 546.9h0M575.6 547.6h0M548.9 550.1h0M550 549.4h0M553.1 548.9h0M555.9 550.3h0M559 548.7h0M560.7 549.2h0M564.4 549.3h0M565.7 549.5h0M568.5 548.6h0M571.7 550.3h0M547.6 551.6h0M549.8 551.9h0M552.5 551.7h0M553.9 551.9h0M557.2 552.5h0M559.6 552.3h0M562.2 552.4h0M564.4 552.7h0M568.4 551.1h0M547.7 554.6h0M550.7 555.4h0M553.6 554.8h0M556.1 555.4h0M558.3 555h0M561.3 554.4h0M563.4 554h0M565.4 554.3h0M568.5 553.8h0M547.7 557.1h0M550.1 556.7h0M551.3 557.4h0M555 556.8h0M558 558h0M560.1 558.1h0M563.3 556.6h0M548.8 559.5h0M550 560.1h0M553 559.9h0M556.4 559.7h0M558.9 560h0M561.7 560.3h0M550.1 562.7h0M551.5 561.6h0M555.3 562.5h0M556.5 563.3h0M560 562.9h0M548.4 564.6h0M550.2 564.2h0M552.7 564.4h0M556.7 564.2h0M558.6 564.5h0M550 567.6h0M552 567.6h0M555.2 566.8h0M551.6 570.4h0M547.4 556.2h0M547.6 553h0M547.6 547.5h0M546.9 541.9h0M546.7 538.7h0M548 534.7h0M546.4 529.6h0M547.7 525.5h0M547.3 519.2h0M549.5 514.3h0M555.6 518.1h0M562.2 520.7h0M567.6 518h0M569.3 526h0M575.6 526.5h0M578.4 528.4h0M583.1 529h0M578.7 535h0M581.8 542h0M578 547.1h0M575.3 548.9h0M569.3 552.1h0M566.1 556.2h0M564.2 559h0M560.3 563.6h0M556.3 567.8h0M550.7 572h0M548.3 566.8h0M548.1 562.3h0M556.6 489.1h0M553.7 491.3h0M562.3 493.5h0M559.5 504.5h0M569.5 512.1h0M574.1 512.1h0M577.7 516h0M589.9 507.4h0M615.1 505.7h0M607.6 516h0M592.5 533h0M583.7 537.3h0M584.5 546.2h0M556.6 572.1h0M549.7 575.7h0M564.8 562.7h0M545.7 557h0" stroke="#0f3ddc" stroke-width="6.6" stroke-linecap="round" fill="none"/>
<clipPath id="c14"><rect x="701.5" y="452.5" width="86" height="141"/></clipPath>
<g clip-path="url(#c14)"><path d="M727.2 539.3L727.2 537.1L727 535L726.8 533L726.5 531L726.1 529.2L725.6 527.4L725 525.8L724.3 524.3L723.6 523L722.8 521.9L722 520.9L721.1 520.1L720.1 519.5L719.1 519L718.1 518.8L717 518.8L716 518.9L714.9 519.3L713.8 519.8L712.7 520.6L711.7 521.5L710.7 522.6L709.7 523.8L708.7 525.2L707.8 526.8L707 528.5L706.2 530.3L705.4 532.2L704.8 534.2L704.2 536.3L703.7 538.5L703.3 540.7L703 542.9L702.8 545.1L702.6 547.4L702.6 549.6L702.6 551.7L702.8 553.9L703 555.9L703.3 557.9L703.7 559.7L704.2 561.5L704.8 563.1L705.4 564.5L706.2 565.8L707 567L707.8 568L708.7 568.8L709.7 569.4L710.7 569.8L711.7 570.1L712.7 570.1L713.8 569.9L714.9 569.6L716 569L717 568.3L718.1 567.4L719.1 566.3L720.1 565.1L721.1 563.6L722 562.1L722.8 560.4L723.6 558.6L724.3 556.7L725 554.7L725.6 552.6L726.1 550.4L726.5 548.2L726.8 546L727 543.7L727.2 541.5Z" fill="none" stroke="#0f3ddc" stroke-width="1.55"/>
<path d="M707 549.1L764.5 523.2" stroke="#0f3ddc" stroke-width="1.55" fill="none"/>
</g>
<path d="M713.8 507.7h0M713.7 509.6h0M716.1 510.8h0M714.7 513.2h0M717 512.7h0M712.2 515.8h0M714.8 516h0M718.3 515.6h0M720 515.9h0M712.5 517.3h0M713.9 517h0M716.4 518.7h0M719.6 517.8h0M721.8 518.3h0M712.9 521.2h0M715.4 520.3h0M718.3 519.9h0M720.1 520.4h0M711.7 523h0M715.1 523h0M717.7 523.4h0M720.1 522.7h0M721.4 523.2h0M713.1 525.8h0M716 526.2h0M718.7 526.3h0M721 525h0M723.2 526.3h0M710.8 528.9h0M713.8 528.3h0M716.5 527.5h0M719.1 527.4h0M722.7 528.7h0M725.2 527.6h0M730.5 529.1h0M711.3 531.4h0M712.1 531.3h0M715 530.9h0M719 531.5h0M721.5 531.7h0M723.7 530h0M725.6 531.1h0M728.8 531.5h0M730.6 531.5h0M734 531h0M735.7 530.5h0M739 531.3h0M749.7 530.9h0M752.9 531.5h0M755 531.7h0M757 531.6h0M711.5 532.6h0M715 534.3h0M716.7 534.2h0M718.9 533.3h0M723 533.6h0M724.1 533.6h0M726.5 533.8h0M730.1 533.7h0M732.8 532.7h0M735.8 533.9h0M738.4 532.9h0M739.8 533.8h0M747.7 533.4h0M751.5 533.7h0M752.8 534.1h0M712.7 535.3h0M716.4 535.8h0M717.6 535.6h0M721.7 535.7h0M723.4 535.6h0M725.3 535.3h0M727.8 535.9h0M731.1 536.4h0M734.4 536.7h0M735.8 536.1h0M738.4 535.6h0M741.4 535.8h0M744.8 535.9h0M746.2 536.2h0M749 536.7h0M751.3 535.4h0M711.2 539h0M714.7 539.4h0M717.6 538.8h0M719.4 538.4h0M721.4 537.8h0M725 538.2h0M726.7 538.6h0M729.3 538.8h0M733.3 538.4h0M734.3 538h0M737.4 539.3h0M741.1 538.8h0M742.7 537.9h0M746.1 537.7h0M747.7 539h0M711 540.3h0M713.2 540.3h0M716.1 541.4h0M718.3 541h0M721.3 540.4h0M722.8 540.3h0M726.2 540.4h0M727.7 541.8h0M730.9 541h0M734.4 541h0M737 542.1h0M738.3 540.7h0M740.7 540.8h0M744.4 542.1h0M709.8 544.1h0M711.5 543.7h0M714.8 543.6h0M717 543.8h0M719.3 543.5h0M721.7 544.3h0M725 543.2h0M726.7 543.6h0M730.1 543.8h0M732.8 544.2h0M734.8 543h0M738 543.9h0M740 544.5h0M742.3 543.1h0M710 547.1h0M712.2 546.8h0M716.4 546.4h0M717.6 546.6h0M721.6 546.2h0M723.8 545.9h0M725.6 546.1h0M728.8 547.2h0M730.6 545.6h0M733.4 546.7h0M736.8 546.5h0M739.4 546.4h0M741 547.2h0M709.4 548.9h0M712.5 548.5h0M714 549.1h0M717.1 549.1h0M718.8 549.5h0M723 548.7h0M725.3 548.3h0M726.6 549.2h0M730.7 549.1h0M732 548.4h0M735.9 549.4h0M738.6 548.6h0M711.1 551.6h0M712.3 551.1h0M716.3 551.4h0M719.1 552.5h0M721 552.2h0M723.2 552.1h0M725.2 551.6h0M727.8 551.2h0M732 551.8h0M733 552.2h0M737.1 552.4h0M712 554.6h0M714.9 554.8h0M717.3 554.2h0M720.2 553.8h0M721.7 553.5h0M724.2 553.5h0M726.8 553.9h0M730.3 555.1h0M732.8 554.6h0M735.2 553.6h0M711.1 557.3h0M712.4 556.6h0M714.9 556.3h0M717.4 556h0M721.2 556.4h0M723.7 556.8h0M725.6 557.1h0M728.6 556.2h0M730.8 556.8h0M709.5 559.1h0M712.5 560h0M713.5 559.4h0M717.8 559.9h0M719.9 558.6h0M722.7 559h0M724.2 559.8h0M710.9 562.6h0M712.8 562.6h0M715 562.6h0M718 562.7h0M720.8 561.6h0M723 561.7h0M711.8 564.6h0M714.2 564.5h0M717.2 564.3h0M720.4 564.9h0M709.9 567.3h0M712.6 566.5h0M715.6 567.5h0M718.1 568h0M710.8 569.4h0M715 570.4h0M717 569.4h0M716.4 571.7h0M708.5 567.3h0M710.3 563.6h0M709.6 560.4h0M707.9 554.3h0M709.7 549.5h0M710.1 543.8h0M710.8 539.4h0M709.1 533.9h0M710.1 527.5h0M712.2 521.6h0M711.9 516.4h0M712.7 512h0M713.2 507.9h0M714.8 507.6h0M720.1 513.4h0M721.7 517.4h0M723.4 522.8h0M724.4 525.9h0M729.8 527.5h0M733.6 528.5h0M740.3 529.5h0M741.6 534.8h0M746.4 532.9h0M750.3 529.4h0M759.1 532.1h0M749.8 535.6h0M744.6 542.2h0M738.1 548.3h0M736.7 555.2h0M732.2 556.1h0M728.7 558.9h0M721.7 564h0M718.7 567.2h0M715.3 572.5h0M714.6 573.4h0M714.9 489.1h0M714.2 491.6h0M710.3 493.5h0M718.5 504.5h0M712.3 505.2h0M745.1 518.9h0M747.2 521.8h0M750.8 525.4h0M764.5 520.8h0M745.8 544.1h0M726.4 562.7h0M714.9 575.7h0M708.8 571.8h0M717.7 570.6h0M722.8 513.9h0" stroke="#0f3ddc" stroke-width="6.6" stroke-linecap="round" fill="none"/>
<clipPath id="c15"><rect x="860.5" y="452.5" width="97" height="141"/></clipPath>
<g clip-path="url(#c15)"><path d="M913.2 520.8L913.2 520L912.9 519.4L912.4 519L911.8 518.8L911 518.8L910 519L908.9 519.3L907.6 519.9L906.2 520.6L904.7 521.5L903 522.6L901.2 523.9L899.4 525.3L897.5 526.9L895.5 528.6L893.4 530.4L891.3 532.4L889.2 534.4L887.2 536.5L885.1 538.6L883 540.8L881 543.1L879.1 545.3L877.2 547.5L875.5 549.7L873.8 551.9L872.3 554L870.9 556.1L869.6 558L868.5 559.9L867.5 561.6L866.7 563.2L866.1 564.6L865.6 565.9L865.3 567.1L865.2 568L865.3 568.8L865.6 569.4L866.1 569.8L866.7 570.1L867.5 570.1L868.5 569.9L869.6 569.5L870.9 569L872.3 568.2L873.8 567.3L875.5 566.2L877.2 565L879.1 563.5L881 562L883 560.3L885.1 558.4L887.2 556.5L889.2 554.5L891.3 552.4L893.4 550.2L895.5 548L897.5 545.8L899.4 543.6L901.2 541.3L903 539.1L904.7 537L906.2 534.8L907.6 532.8L908.9 530.9L910 529L911 527.3L911.8 525.7L912.4 524.2L912.9 522.9L913.2 521.8Z" fill="none" stroke="#0f3ddc" stroke-width="1.55"/>
<path d="M861.9 567.1L946.7 497.3" stroke="#0f3ddc" stroke-width="1.55" fill="none"/>
</g>
<path d="M914.9 517.6h0M906.3 520h0M908.3 520.9h0M910.5 520.5h0M913.6 520.6h0M916.8 520.2h0M901.3 523.4h0M904.4 522.1h0M907.8 522.2h0M910.3 523h0M912.1 522.6h0M914.7 523.2h0M917.3 522.3h0M898.9 525.6h0M901.2 526h0M903 526h0M906.8 526h0M907.8 525.9h0M912.1 524.6h0M914.4 525.8h0M915.5 525.6h0M883.2 528.7h0M886.1 528.6h0M889.2 527.9h0M891.1 527.9h0M893.6 527.8h0M897.1 528.6h0M899 527.3h0M902.6 527.2h0M904.1 527.8h0M907.2 528.7h0M909.1 528.5h0M912.4 527.2h0M872.8 531.1h0M881.7 529.8h0M885.3 530h0M888.3 529.8h0M890.7 529.6h0M892.7 531.3h0M895.1 530.1h0M897.3 531.1h0M900.8 530h0M903.5 530h0M906.7 530.3h0M907.8 530h0M910.4 530.9h0M866.5 533.8h0M869.1 533.1h0M870.9 532.9h0M872.8 533.2h0M877 533.1h0M881.1 532.9h0M884.7 532.8h0M887 532.4h0M889.5 533h0M892.6 532.2h0M893.9 533.8h0M896.8 532.7h0M900.1 532.9h0M902.8 533.1h0M903.9 532.3h0M907.9 533.8h0M909.3 534h0M864.1 536.4h0M866.6 536h0M869.8 535h0M872.1 535.8h0M875.2 535.4h0M878.3 536.2h0M879.1 536.3h0M882.8 536.5h0M884.7 536.2h0M888.2 535.5h0M890.1 535.8h0M893.8 536h0M895.8 536h0M898.8 535.8h0M901.2 534.8h0M904 536.5h0M906.1 535.8h0M865.6 538h0M867.8 537.9h0M870.4 539.1h0M873.3 538.9h0M876 539.2h0M878.9 538h0M881.1 537.8h0M883.6 537.9h0M886.1 538.1h0M888.2 539.1h0M892.2 538h0M894.9 537.5h0M897.1 538.4h0M900.2 539.1h0M902.3 538.9h0M905 537.5h0M906.6 537.6h0M864.7 541.4h0M866.4 541.6h0M869 540.2h0M873 540.4h0M874.7 541.7h0M876.9 541.1h0M880.4 540.1h0M881.9 541.7h0M885.8 541.2h0M888 540.8h0M891.1 540h0M892.6 540.5h0M895.8 541.7h0M897.7 540.2h0M900.3 541.5h0M903.6 540.2h0M865.4 543.7h0M869.2 542.9h0M870.5 543.5h0M873.9 542.8h0M876.2 543.7h0M879.2 543.2h0M881 543.6h0M883.7 543.4h0M887 544.3h0M890 542.9h0M891.8 543.5h0M894.4 542.9h0M896.6 543.3h0M898.9 543.4h0M865.1 545.3h0M867 546.8h0M869.2 545.7h0M872.9 545.2h0M874 546.2h0M878 546.2h0M880.3 545.9h0M883.4 545.7h0M885.3 545.5h0M887.4 546.3h0M889.6 546.5h0M892.5 546.6h0M894.9 546.3h0M898.2 545.6h0M863.8 547.9h0M865.7 548h0M869.2 548.5h0M871.2 548.3h0M874.2 549.1h0M875.2 547.9h0M878.3 548.3h0M880.4 548.9h0M883 548.7h0M886.9 548.3h0M888.7 549.3h0M892.2 549.1h0M893.6 548.2h0M896.6 548.6h0M864.9 551.6h0M866.7 551.1h0M869.6 551h0M872.4 550.7h0M874.8 551.1h0M876.7 550.7h0M879.9 551h0M882.4 552h0M884.8 551h0M887.6 552.1h0M891.3 551.7h0M892.1 551.3h0M863.2 553.9h0M866.4 554.6h0M869 553.2h0M870.9 553.9h0M873.4 554.5h0M876.9 553.2h0M879.2 553.7h0M881.1 553h0M883.9 554.1h0M886.9 553.2h0M888.7 553.9h0M891.3 554.5h0M864.2 556.1h0M867.2 557.1h0M870.2 555.6h0M872.8 556.8h0M874.6 557.1h0M877 557.1h0M880.8 556.8h0M882.3 556.2h0M884.8 556.3h0M887.2 557.1h0M890.1 556h0M866.3 558.5h0M868 558.8h0M870.3 559h0M873.9 559.5h0M875.8 559.4h0M878.6 558.8h0M881.7 559.3h0M883.2 558.8h0M886.8 558.7h0M865.2 561.4h0M866.8 561.8h0M869.9 562.6h0M872.7 561.2h0M874.1 560.8h0M876.7 560.9h0M879.7 561.7h0M882.6 561.8h0M885.6 560.8h0M865.6 563.6h0M867.9 564.4h0M870.3 564.6h0M874.3 565.1h0M875.4 563.4h0M878.4 564.8h0M882 564.2h0M864.8 567.6h0M866.8 567.2h0M870.1 566.3h0M872.4 567.1h0M875.4 567.3h0M877.5 566.4h0M879.1 566.1h0M865.3 569.4h0M867.5 568.7h0M871.4 569.8h0M873.7 569.7h0M864.8 571.6h0M867.5 572.9h0M869.9 572h0M862.9 574.3h0M864.6 569.3h0M863 562h0M862.7 557.3h0M864 551.9h0M864.3 546.3h0M862.7 541.3h0M863.3 536.4h0M863.9 533.3h0M867.1 532.3h0M870.7 530.2h0M876.1 532.1h0M879.5 535.7h0M880.2 530.7h0M882.8 525.5h0M888.2 528.1h0M897 525.3h0M902.8 520.9h0M911.2 518.7h0M918.4 518.8h0M916.1 524.3h0M913.2 530.7h0M907.1 535h0M903.2 541.8h0M899.9 544.3h0M897.7 547.2h0M894.1 551.5h0M892.8 556.3h0M887.9 558.4h0M883.8 562.2h0M881.1 566.5h0M874.6 570.3h0M866.6 572.8h0M880.3 505.7h0M900 507.4h0M877.7 516h0M864.8 520.8h0M889.7 519.3h0M898.6 516h0M872.7 526.1h0M907.9 512.1h0M910.8 512.4h0M918 513.9h0M924.2 504.5h0M924.2 518.6h0M941.7 493.5h0M946 489.1h0M948.2 491.3h0M864.1 575.7h0M862.7 554.1h0M883.5 521.1h0" stroke="#0f3ddc" stroke-width="6.6" stroke-linecap="round" fill="none"/>
<clipPath id="c16"><rect x="84.5" y="651.5" width="70" height="140"/></clipPath>
<g clip-path="url(#c16)"><path d="M125.9 774.4L125.8 772.7L125.7 771L125.4 769.3L125.1 767.7L124.6 766.2L124.1 764.6L123.4 763.2L122.7 761.9L121.9 760.6L121 759.5L120.1 758.4L119.1 757.5L118.1 756.7L117 756.1L115.8 755.6L114.7 755.2L113.5 755L112.3 754.9L111.1 755L110 755.2L108.8 755.6L107.7 756.1L106.6 756.7L105.5 757.5L104.5 758.4L103.6 759.5L102.7 760.6L101.9 761.9L101.2 763.2L100.6 764.6L100 766.2L99.6 767.7L99.2 769.3L99 771L98.8 772.7L98.7 774.4L98.8 776.1L99 777.8L99.2 779.4L99.6 781L100 782.6L100.6 784.1L101.2 785.5L101.9 786.9L102.7 788.1L103.6 789.3L104.5 790.3L105.5 791.2L106.6 792L107.7 792.7L108.8 793.2L110 793.5L111.1 793.8L112.3 793.8L113.5 793.8L114.7 793.5L115.8 793.2L117 792.7L118.1 792L119.1 791.2L120.1 790.3L121 789.3L121.9 788.1L122.7 786.9L123.4 785.5L124.1 784.1L124.6 782.6L125.1 781L125.4 779.4L125.7 777.8L125.8 776.1Z" fill="none" stroke="#0f3ddc" stroke-width="1.55"/>
<path d="M96.3 775.4L129.1 770.4" stroke="#0f3ddc" stroke-width="1.55" fill="none"/>
</g>
<path d="M108.2 729.4h0M108.6 732h0M108.7 734.8h0M111.5 734.8h0M107.7 737.7h0M109.9 736.5h0M113.3 737.2h0M106.7 739.3h0M109.6 739.8h0M112 739.3h0M108.3 742.4h0M109.5 742h0M112.1 742.7h0M117.7 742.7h0M108.9 745.6h0M111.4 745.2h0M114.7 745.2h0M117.1 745.4h0M107.3 747.3h0M109.6 746.8h0M113.4 746.6h0M114.9 746.7h0M118.2 746.4h0M109.4 750.1h0M111 749.8h0M114.4 749.4h0M117.1 749.3h0M118.9 749.8h0M108.2 751.8h0M109.9 751.8h0M113.4 752.4h0M114.8 753.3h0M117.4 751.7h0M107 754.8h0M109.1 754.8h0M112.2 755.1h0M114.2 754.3h0M117.3 754.5h0M119.6 754.2h0M107.8 757.5h0M109.5 758.3h0M113 758.4h0M115.8 757.9h0M117.5 757.9h0M120.6 757.3h0M106.6 761h0M109.8 759.5h0M111.9 760.5h0M114.2 760.1h0M116.8 760h0M119.3 759.7h0M122.4 760.9h0M106.9 763.2h0M109.7 762.9h0M113.6 763.3h0M115.8 763.4h0M118.4 763.5h0M121 762.4h0M122.6 763.7h0M106.9 764.7h0M108.2 765.5h0M110.9 765h0M113.8 766h0M117.4 766h0M120.1 766.2h0M121.5 766.4h0M124.4 765.9h0M108.5 768.3h0M110.7 767.9h0M113.4 767.6h0M115.3 768.5h0M118.8 768.2h0M120.9 767.3h0M123.3 767.6h0M125.6 767.9h0M106.8 770h0M108.2 771.1h0M111.6 771.6h0M114.5 770.8h0M117 770h0M119.7 770.6h0M121.4 770.1h0M123.8 770.3h0M127.1 770.8h0M108.4 772.5h0M109.7 772.5h0M112.9 773.2h0M114.7 773h0M117.7 772.7h0M120.6 772.6h0M122.7 772.9h0M125.6 773.2h0M108.4 776.7h0M112.3 775.2h0M114.8 776.2h0M117.5 776.7h0M120 776.4h0M122 775.7h0M124.8 776.2h0M127.1 776.8h0M107.7 778.3h0M110.8 778.5h0M112.8 778.2h0M116 778h0M118.6 778.2h0M120.1 777.8h0M123.2 778.8h0M126.6 777.6h0M108.5 781.9h0M111.5 780.4h0M113.5 780.8h0M116.3 781.1h0M119.5 781.4h0M121.9 780.9h0M124.6 781.1h0M126.5 780.5h0M107 784.1h0M110.8 782.9h0M112.4 784.5h0M116 782.8h0M118 784.5h0M121.2 783.4h0M124 784h0M126.8 784.3h0M127.8 783.7h0M106.9 786.9h0M109.6 786.8h0M111.2 786.2h0M113.8 787.1h0M117.7 786.1h0M119.2 785.9h0M121.4 785.5h0M123.9 787.1h0M127.6 785.9h0M107.7 786.4h0M113.1 786.3h0M117.2 786.1h0M123.1 787.7h0M129.8 787.4h0M128.2 782.7h0M129.7 777.6h0M126.8 773h0M123.2 765.6h0M122.7 757.8h0M119.8 751.7h0M119.8 746.7h0M119 741.1h0M114.9 745.2h0M114.5 740.8h0M113.5 733.6h0M110.2 729.4h0M105.5 730.1h0M106.7 733.9h0M107.1 737.9h0M106.2 743.2h0M107.6 749.8h0M106.4 754h0M106.1 757.8h0M106.7 762.8h0M107.6 768.7h0M107.3 773.8h0M107.4 776.6h0M106.1 782.2h0M125 753h0M122.8 734.5h0M122.6 730.8h0M120.8 724.7h0M116.5 714h0M116.2 724.7h0M116.2 671.9h0M111.4 684.5h0M109 710.1h0M106.5 723.5h0M102.6 781.5h0M103.7 758.3h0M96.3 774.9h0M106.5 789.7h0" stroke="#0f3ddc" stroke-width="6.6" stroke-linecap="round" fill="none"/>
<clipPath id="c17"><rect x="233.5" y="651.5" width="78" height="140"/></clipPath>
<g clip-path="url(#c17)"><path d="M264 772.4L263.9 770.7L263.8 769.1L263.6 767.5L263.3 765.9L262.9 764.4L262.5 763L261.9 761.7L261.3 760.4L260.7 759.3L260 758.3L259.2 757.4L258.4 756.6L257.5 756L256.6 755.5L255.7 755.2L254.7 755L253.8 754.9L252.8 755L251.8 755.3L250.8 755.6L249.9 756.2L249 756.8L248.1 757.7L247.2 758.6L246.4 759.6L245.6 760.8L244.9 762.1L244.2 763.4L243.6 764.9L243.1 766.4L242.7 768L242.3 769.6L242 771.2L241.8 772.9L241.7 774.6L241.6 776.3L241.7 778L241.8 779.7L242 781.3L242.3 782.8L242.7 784.3L243.1 785.7L243.6 787.1L244.2 788.3L244.9 789.4L245.6 790.5L246.4 791.4L247.2 792.1L248.1 792.7L249 793.2L249.9 793.6L250.8 793.8L251.8 793.8L252.8 793.7L253.8 793.5L254.7 793.1L255.7 792.6L256.6 791.9L257.5 791.1L258.4 790.2L259.2 789.1L260 788L260.7 786.7L261.3 785.3L261.9 783.9L262.5 782.4L262.9 780.8L263.3 779.2L263.6 777.5L263.8 775.8L263.9 774.1Z" fill="none" stroke="#0f3ddc" stroke-width="1.55"/>
<path d="M242.5 778.6L307.1 761.2" stroke="#0f3ddc" stroke-width="1.55" fill="none"/>
</g>
<path d="M254.8 727.7h0M255.7 730h0M252.2 733.2h0M253.9 732.6h0M254 735.4h0M255.9 735.9h0M251.8 737.1h0M254.4 737.6h0M256.7 737.2h0M251.4 740.4h0M253.4 741h0M255.9 741h0M251.7 743.1h0M255 743.3h0M256.8 743.7h0M250.2 745.3h0M253.1 746.2h0M255.7 746.3h0M257.8 745.4h0M251.8 748.9h0M254.3 749.2h0M257.4 748.2h0M251.1 751.1h0M254 750.7h0M255.7 751.3h0M258.6 750.5h0M252 754.5h0M254 752.8h0M256.9 752.8h0M248.9 756.8h0M251.2 755.9h0M252.8 755.5h0M256.6 755.4h0M258.7 757h0M250 759.2h0M252.8 759.3h0M255.4 758.7h0M257.3 759.3h0M250.3 761.3h0M253.7 761.1h0M255.4 760.9h0M258.1 762.2h0M249.5 764h0M251.8 764.4h0M254.6 763.2h0M257.4 763.7h0M260.5 764.1h0M248.6 766.2h0M250.8 767.1h0M253.5 766.7h0M256.6 767.5h0M258.1 765.9h0M261.4 766h0M246.8 768.6h0M249.4 768.6h0M252.7 769h0M254.4 769.9h0M257.8 768.9h0M259.8 769.5h0M261.9 768.6h0M265.7 768.6h0M245.7 771.5h0M248.8 772.3h0M250 772.5h0M253.6 771.4h0M255.4 771.1h0M259.1 772.4h0M260.9 771.2h0M263 771.7h0M266 771h0M246.1 774.3h0M249.5 773.8h0M251.2 773.7h0M254 775.3h0M257.9 774.8h0M260.6 774.1h0M262 775.1h0M265.2 775.2h0M267.4 774.3h0M245.9 777.7h0M247.5 776.6h0M249.9 777.1h0M254.1 777.1h0M255.3 777.4h0M258.8 776.3h0M261.9 777.3h0M263.7 776.7h0M265.7 777h0M268.7 776.5h0M247.1 779.9h0M250.3 780.5h0M252 780h0M254.4 779.5h0M257.4 780.5h0M259 779.6h0M262.2 780.2h0M265.9 779.6h0M266.9 779.8h0M248.6 782.2h0M250.8 782.7h0M252.5 781.8h0M256.3 783.1h0M259.3 781.8h0M262 781.8h0M263.7 781.6h0M266.5 782h0M249.6 784.4h0M251.2 785.6h0M255 785h0M256.5 785.5h0M259.7 784.8h0M262.6 784.7h0M252.6 786.5h0M257.4 788.6h0M264.4 783.9h0M270.3 779.6h0M267.8 770.9h0M263.8 765.4h0M258.5 759.7h0M258.3 754.7h0M259.6 748.2h0M259.8 741.6h0M258.3 737.4h0M256.4 734h0M255.5 728.3h0M254.1 724.7h0M253.9 727.6h0M250.9 734.4h0M251.5 740.4h0M248.8 743.2h0M249.1 750.2h0M248.9 756.6h0M247.6 762.2h0M246 768.9h0M245.6 775.9h0M246.4 781.1h0M249.2 787.2h0M308 761.6h0M305.6 765.5h0M303 753h0M302.2 779.4h0M301.8 783.5h0M295.7 763h0M295.1 776.2h0M295 779.4h0M292.6 776.2h0M290.4 748.2h0M287.8 775.2h0M285.5 776.9h0M284.3 731.4h0M282.7 773.3h0M282.5 757.9h0M280.3 773.3h0M276.8 766.4h0M275.4 761.1h0M275.4 773.3h0M273.2 781.8h0M270.8 748.2h0M268.1 725h0M263.9 735.5h0M253.2 713.6h0M253.2 709.9h0M253.7 684.8h0M254.5 672.2h0M251.1 789.7h0M270.5 783h0M266.1 786.7h0" stroke="#0f3ddc" stroke-width="6.6" stroke-linecap="round" fill="none"/>
<clipPath id="c18"><rect x="392" y="651.5" width="78.5" height="140"/></clipPath>
<g clip-path="url(#c18)"><path d="M433.8 768.5L433.8 766.9L433.6 765.4L433.3 763.9L433 762.5L432.5 761.2L431.9 760L431.2 758.9L430.5 758L429.7 757.1L428.7 756.4L427.8 755.8L426.7 755.4L425.6 755.1L424.5 754.9L423.3 754.9L422.1 755.1L420.8 755.4L419.6 755.8L418.4 756.4L417.1 757.1L415.9 758L414.7 758.9L413.6 760L412.5 761.2L411.5 762.5L410.5 763.9L409.6 765.4L408.7 766.9L408 768.5L407.3 770.2L406.7 771.8L406.3 773.5L405.9 775.2L405.6 776.9L405.5 778.6L405.4 780.2L405.5 781.8L405.6 783.3L405.9 784.8L406.3 786.2L406.7 787.5L407.3 788.7L408 789.8L408.7 790.8L409.6 791.6L410.5 792.3L411.5 792.9L412.5 793.4L413.6 793.7L414.7 793.8L415.9 793.8L417.1 793.7L418.4 793.4L419.6 792.9L420.8 792.4L422.1 791.6L423.3 790.8L424.5 789.8L425.6 788.7L426.7 787.5L427.8 786.2L428.7 784.8L429.7 783.4L430.5 781.8L431.2 780.2L431.9 778.6L432.5 776.9L433 775.2L433.3 773.5L433.6 771.9L433.8 770.2Z" fill="none" stroke="#0f3ddc" stroke-width="1.55"/>
<path d="M401 784L450.6 757.7" stroke="#0f3ddc" stroke-width="1.55" fill="none"/>
</g>
<path d="M428.9 725.8h0M420.8 731.2h0M423.1 731.2h0M428.4 730.4h0M422.6 733.8h0M424.3 732.3h0M426.7 732.4h0M429.4 732.3h0M421 735.4h0M422.4 735.3h0M426.5 736.5h0M427.8 735.5h0M419.2 737.4h0M421.2 739.1h0M425.3 737.8h0M426.7 738.6h0M429.6 737.7h0M420 740.3h0M422.4 740.6h0M425.2 741.4h0M428 741.7h0M419.1 742.8h0M422.3 743.3h0M423.7 744.2h0M427.5 743.6h0M429.7 742.7h0M417.2 745.7h0M420.7 746.5h0M423.5 746.3h0M425.9 746.3h0M428.4 745.2h0M416.5 748.9h0M418.6 748.9h0M422.6 747.9h0M425 749h0M426.8 749.1h0M428.8 748h0M418.3 750.8h0M419.8 751.7h0M423.7 750.9h0M425.1 751.3h0M428.6 751h0M430.7 750.5h0M432.9 750.7h0M416.6 754.2h0M419.1 753.3h0M421 753.4h0M424.2 753.1h0M426.9 753.8h0M428.8 754.1h0M433 754.2h0M415.3 756.8h0M417.5 756.2h0M419.8 755.6h0M422.7 757.1h0M424.9 755.8h0M428.1 757.3h0M430.4 755.6h0M432.7 756.1h0M413.5 758.5h0M416.8 758.8h0M418.7 758.1h0M422.5 759.7h0M425.2 759.4h0M426.9 758.7h0M429.1 758.9h0M432.1 759.8h0M412.9 762.5h0M415.8 761.1h0M417.3 762.1h0M419.6 762.4h0M422.4 761.8h0M426.3 760.9h0M427.6 761.9h0M431.3 760.7h0M433.4 762.2h0M411.6 764.4h0M414 764.3h0M416.7 764.7h0M419.7 763.4h0M422.3 763.8h0M424.3 763.7h0M426.7 764h0M429.5 763.5h0M431.8 764.1h0M410.2 767.4h0M412.5 766.2h0M415.5 766.4h0M417.5 767.3h0M420.5 766.2h0M422.6 767.2h0M426 767.5h0M428.7 766.4h0M431.3 767.5h0M434.2 767.6h0M409.2 769.5h0M410.9 769.3h0M414.3 768.6h0M417.3 769.8h0M419.9 770.2h0M421.8 769.1h0M424.2 769.4h0M427.2 769h0M429.2 769.4h0M432.6 768.5h0M408.1 771.9h0M409.8 771.3h0M412.4 771.2h0M414.9 772.3h0M417.6 772.8h0M420.4 772.6h0M422.6 772.9h0M426.3 772.8h0M428.9 772.1h0M430.3 772.6h0M434.3 771.9h0M409.1 774h0M411.3 774.7h0M413.5 775h0M416.3 773.9h0M419 775h0M422 774.3h0M424.3 775h0M427.6 773.9h0M429.1 774.5h0M431.7 774h0M434.4 774h0M407.4 777.4h0M410.9 778h0M412.7 776.8h0M415.5 777.1h0M418.1 778h0M421 778.1h0M423.7 777.7h0M426.6 777.6h0M428.8 777.5h0M431.7 777.3h0M433.3 777.4h0M435.5 777.7h0M406.2 779.6h0M409.1 780.2h0M411.6 779.5h0M414 778.9h0M416.4 779h0M419.4 779.1h0M421.3 780.3h0M424.8 779.3h0M426.2 780.6h0M429.5 779h0M432.2 780.4h0M435 779.4h0M408.3 783h0M409.6 782.6h0M413.3 781.9h0M414.7 782.5h0M418.2 782.3h0M420.6 782.6h0M423.5 781.7h0M425.4 781.8h0M427.8 783.2h0M431.1 783h0M433.3 781.9h0M435.4 782.9h0M408.3 785.5h0M412.1 784.7h0M414 785.9h0M416.1 785.3h0M419.7 785.1h0M422.6 785h0M423.8 784.8h0M426.7 785h0M429.4 785.6h0M432.4 785.6h0M435 784.3h0M413.3 787.9h0M414.8 786.9h0M421.2 786.9h0M422.3 787.5h0M425.9 787.3h0M414.4 787.1h0M418.2 788.6h0M423.8 787.1h0M428 788.4h0M433.4 787.2h0M436 785.3h0M434.8 778.9h0M434.6 772.8h0M435.2 768.5h0M434.7 764.8h0M435.5 756.9h0M435.2 750.6h0M430 748.2h0M430.7 742.1h0M429.6 738.7h0M429.9 732.2h0M430.1 724h0M425.3 733.6h0M420.9 728.7h0M419.3 735.5h0M417.3 738.3h0M416.6 745.4h0M414.9 749.3h0M414.4 755.7h0M411.1 760.7h0M409.7 767.2h0M408.8 772.6h0M406.6 776.1h0M404.4 783.1h0M408.5 785.5h0M451.2 771.5h0M450 776.4h0M448.8 761.8h0M442.7 766.6h0M438.5 749.6h0M438.5 741.8h0M436.3 735.7h0M441.1 715h0M442.1 672.4h0M436.3 685h0M426.9 710.6h0M424.6 725.5h0M419.6 724.2h0M405.3 771.5h0M403.3 783.2h0M410.5 757.6h0M413.7 789.7h0" stroke="#0f3ddc" stroke-width="6.6" stroke-linecap="round" fill="none"/>
<path d="M551.5 791V743.7H557.9V791ZM557.9 791V739.2H564.2V791ZM564.2 791V780.7H570.9V791ZM570.9 791V787.8H577.5V791ZM577.5 791V789.2H584.1V791ZM584.1 791V790H590.8V791ZM590.8 791V790.5H617.1V791Z" fill="none" stroke="#103cd8" stroke-width="1.5" stroke-linejoin="miter"/>
<clipPath id="c19"><rect x="708" y="651.5" width="79.5" height="140"/></clipPath>
<g clip-path="url(#c19)"><path d="M731.8 781.2L731.8 779.6L731.7 777.9L731.4 776.2L731.1 774.5L730.8 772.8L730.3 771.2L729.8 769.5L729.2 767.9L728.5 766.3L727.8 764.8L727 763.4L726.1 762L725.3 760.7L724.3 759.6L723.4 758.5L722.4 757.6L721.4 756.8L720.4 756.1L719.4 755.6L718.5 755.2L717.5 755L716.5 754.9L715.6 755L714.8 755.2L713.9 755.5L713.1 756L712.4 756.7L711.7 757.4L711.1 758.3L710.6 759.4L710.1 760.5L709.7 761.7L709.4 763.1L709.2 764.5L709.1 766L709.1 767.6L709.1 769.2L709.2 770.8L709.4 772.5L709.7 774.2L710.1 775.9L710.6 777.6L711.1 779.3L711.7 780.9L712.4 782.4L713.1 784L713.9 785.4L714.8 786.8L715.6 788L716.5 789.2L717.5 790.2L718.5 791.1L719.4 791.9L720.4 792.6L721.4 793.1L722.4 793.5L723.4 793.7L724.3 793.8L725.3 793.8L726.1 793.6L727 793.2L727.8 792.7L728.5 792.1L729.2 791.3L729.8 790.4L730.3 789.4L730.8 788.3L731.1 787L731.4 785.7L731.7 784.2L731.8 782.7Z" fill="none" stroke="#0f3ddc" stroke-width="1.55"/>
</g>
<path d="M719 727.5h0M719.4 730.3h0M718.4 732.4h0M717.3 736.1h0M719.7 735.7h0M716.3 738.8h0M718.9 738.6h0M720.8 737.6h0M722.9 738.8h0M716.3 741.1h0M718.9 741.1h0M722 741.3h0M719.3 743.5h0M721.9 743.1h0M724.2 742.6h0M717 746.3h0M719.3 745.1h0M722.2 745.6h0M725.3 745.2h0M716.2 748.6h0M717.6 748.4h0M721.3 749.2h0M723.3 748.2h0M726 748.9h0M717.4 751.5h0M720.7 750.7h0M723.2 750.8h0M724.9 750.9h0M715 754.5h0M718.5 752.8h0M721 753.3h0M722.8 754.3h0M714.9 756.6h0M716.5 755.6h0M720.3 755.4h0M721.7 756.7h0M725.8 756.7h0M716.3 758.6h0M718.3 759.6h0M721.1 759.6h0M724.2 758.4h0M715.3 762.3h0M717.5 762.2h0M720 761.4h0M721.9 761.7h0M725.7 761.8h0M716.3 763.8h0M719.4 763.3h0M721.7 764.9h0M724.5 763.4h0M726.7 764.7h0M717.4 766.5h0M720.2 765.9h0M722 766.7h0M724.6 766.2h0M715.9 769.1h0M718 770.1h0M721.3 768.4h0M723.3 770h0M726.5 769.9h0M717 772.2h0M720.1 772.2h0M722.1 772.5h0M724.4 772.6h0M728.5 771.2h0M715.3 774.7h0M717.9 773.8h0M721.6 775.3h0M724.1 774h0M725.9 774.6h0M729.1 774.5h0M717.5 776.8h0M720.6 777.2h0M723 777.5h0M724.8 777.2h0M728.3 776.8h0M730.1 777.7h0M718.7 780.1h0M721.1 779.1h0M723.5 780.6h0M726.3 780h0M728.4 780h0M731.8 780.1h0M717 782h0M720.6 783h0M723 783.1h0M725.5 782.4h0M727.5 783h0M730.8 782.6h0M733.1 782.3h0M735.3 781.5h0M738.7 782h0M740 782.8h0M716.7 785.1h0M719.2 785.1h0M721.9 784.4h0M724.1 785.7h0M725.5 784.3h0M729.6 785.5h0M731.3 785.5h0M734 784.5h0M737.4 785.2h0M738.4 784.5h0M742.7 784.6h0M744.8 785.2h0M746.4 785.7h0M749.6 784.9h0M752.2 785.4h0M716.5 787.6h0M719.6 786.8h0M722.7 788.3h0M725.6 786.9h0M728.1 786.8h0M730.1 786.8h0M732.2 787.7h0M736.2 787.7h0M738.5 787.5h0M740.3 786.7h0M743.6 787.1h0M745 787.4h0M748.9 788.3h0M750.7 788.1h0M754 788.2h0M756.9 787.4h0M758.6 787.3h0M760.9 786.7h0M763.9 788.1h0M715.8 788.3h0M715.5 783.5h0M714.4 778.5h0M715 774.5h0M714.9 768.9h0M715.6 764.4h0M715.5 759.4h0M713.8 754.4h0M716.3 748.9h0M714.6 744.5h0M714.6 739.3h0M717 731.8h0M718.5 725.7h0M719.8 725.5h0M721.4 729.5h0M721.7 737.1h0M723.2 741.1h0M727.9 745.7h0M727.3 750.3h0M726.4 756.1h0M727.4 760.2h0M728.9 765.7h0M730 771.7h0M729.3 776.7h0M734.2 780.7h0M741.1 782h0M745.8 783.8h0M750.6 785.6h0M753.8 785.6h0M760.3 785.7h0M765.4 788.4h0M764.5 789.5h0M760.3 788.4h0M756 789.7h0M751 788.9h0M746.7 789h0M742 788.4h0M736.1 789.1h0M730.8 788.8h0M726 789h0M721.7 789.4h0M716.9 788.8h0M718.5 671.9h0M717.7 684.8h0M718 709.3h0M718 713.6h0M717.5 723.6h0M713.4 735.9h0M728.5 746.6h0M766.3 787.9h0" stroke="#0f3ddc" stroke-width="6.6" stroke-linecap="round" fill="none"/>
<clipPath id="c20"><rect x="866.5" y="651.5" width="91" height="140"/></clipPath>
<g clip-path="url(#c20)"><path d="M916 774.4L915.9 772.7L915.7 771L915.2 769.3L914.7 767.7L913.9 766.2L913 764.6L911.9 763.2L910.7 761.9L909.4 760.6L908 759.5L906.4 758.4L904.8 757.5L903 756.7L901.2 756.1L899.3 755.6L897.4 755.2L895.5 755L893.5 754.9L891.5 755L889.6 755.2L887.7 755.6L885.8 756.1L884 756.7L882.3 757.5L880.6 758.4L879 759.5L877.6 760.6L876.3 761.9L875.1 763.2L874 764.6L873.1 766.2L872.4 767.7L871.8 769.3L871.4 771L871.1 772.7L871 774.4L871.1 776.1L871.4 777.8L871.8 779.4L872.4 781L873.1 782.6L874 784.1L875.1 785.5L876.3 786.9L877.6 788.1L879 789.3L880.6 790.3L882.3 791.2L884 792L885.8 792.7L887.7 793.2L889.6 793.5L891.5 793.8L893.5 793.8L895.5 793.8L897.4 793.5L899.3 793.2L901.2 792.7L903 792L904.8 791.2L906.4 790.3L908 789.3L909.4 788.1L910.7 786.9L911.9 785.5L913 784.1L913.9 782.6L914.7 781L915.2 779.4L915.7 777.8L915.9 776.1Z" fill="none" stroke="#0f3ddc" stroke-width="1.55"/>
<path d="M867.7 774.7L948.2 776.1" stroke="#0f3ddc" stroke-width="1.55" fill="none"/>
</g>
<path d="M880.7 733.8h0M877 736.2h0M879.2 735.7h0M880.8 735.4h0M884.8 735.5h0M887.1 735.2h0M889.5 735.1h0M877.8 737.9h0M880.2 738.5h0M883.4 737.3h0M886.1 738.5h0M887.3 738.5h0M876.2 740.4h0M878.5 740.9h0M881.5 740.6h0M884.6 740.2h0M886.6 740.7h0M889.5 741.5h0M876.9 743.5h0M879.5 743.1h0M882.5 743.9h0M885.6 742.9h0M887.7 743.3h0M891.2 743.1h0M878.1 745.5h0M881.5 745.1h0M883.6 746.8h0M886.4 745.4h0M889.9 745.6h0M892 746h0M894.5 745.2h0M877.8 748.6h0M879.6 749h0M882.6 749.3h0M884.8 748.7h0M888.5 748.8h0M891.5 749.5h0M893.6 747.8h0M896.6 748.6h0M898.2 748.2h0M879.3 750.8h0M881.6 751.2h0M883.9 750.7h0M886.8 750.9h0M889.2 751.7h0M892.1 751.7h0M895 751.4h0M896.6 751.8h0M899.8 751.8h0M901.6 751.5h0M905.1 751.8h0M878.1 753.4h0M879.5 754.3h0M882.1 752.9h0M886 753.8h0M887.2 753.5h0M890 753.8h0M893.1 754.4h0M895 753.9h0M898.8 753.2h0M901.6 754.6h0M903.8 754.2h0M906.9 754.7h0M875.8 757h0M878.3 756.2h0M881.5 757.3h0M884.2 755.5h0M887.6 757.1h0M890.1 757.3h0M891.1 755.7h0M894 756.4h0M896.6 755.7h0M899.9 757.2h0M902.2 756h0M905.6 756.8h0M907.6 755.7h0M877 758.7h0M879.5 758.5h0M882.8 759.1h0M886.3 758.4h0M888 758.4h0M891.1 759.2h0M893.5 759.3h0M895.9 759.3h0M898.5 758.7h0M900.9 759h0M903.6 758.4h0M906.1 758.4h0M908.6 759.4h0M873.7 761.8h0M875.6 762.3h0M879 761.6h0M882.3 761.3h0M884.8 760.8h0M887.4 761.4h0M888.5 762.1h0M891.8 761.7h0M894.5 760.9h0M898 761.7h0M900.5 760.7h0M902.8 761.8h0M905.1 761h0M907.9 761.6h0M909.7 761.1h0M874.9 763.4h0M877.2 764.2h0M880.1 763.9h0M882.3 763.3h0M885.2 765h0M887.8 764.9h0M890.5 763.9h0M892.7 763.5h0M895.2 764.2h0M899.3 765h0M900.4 764.8h0M903.7 764.9h0M906.3 764.6h0M908.6 764.2h0M911.2 764.8h0M913.5 764.7h0M871.7 767.4h0M872.9 766.2h0M877 766.5h0M879.1 765.9h0M882.3 766.9h0M884.1 767.4h0M886 767.6h0M888.5 766.7h0M892.8 766.3h0M894.5 766.7h0M897 766.7h0M899.8 767.6h0M901.5 766.4h0M904.5 767.5h0M906.8 766.3h0M911 767.3h0M913.2 767.5h0M871.8 770.3h0M874.5 769.3h0M876.7 769.8h0M881 769.8h0M882.5 770h0M885.2 769.4h0M888.2 770.2h0M891.4 769.3h0M893.4 769.6h0M895.8 769.5h0M898.8 769.3h0M901.3 770.2h0M904.1 769h0M906.8 769.4h0M909.4 769.4h0M911.1 769.9h0M914.9 768.9h0M870.4 772.7h0M874.5 772.5h0M875.6 771.6h0M878.2 771.5h0M881.3 771.5h0M884.3 771.8h0M887.2 772.3h0M889.4 771.6h0M891.4 772.7h0M895.4 771.7h0M897.2 771.4h0M899.2 771.5h0M902.6 772.3h0M905 771.4h0M908.4 772.1h0M909.6 771.3h0M912.5 771.1h0M914.9 772.9h0M917.8 771.1h0M873.1 774.5h0M875.2 774h0M878 774h0M881 775.5h0M882.2 774.5h0M884.8 774h0M887.2 774.3h0M891.1 773.9h0M893.6 774.8h0M895.8 775.2h0M899.2 774.9h0M901 775.3h0M904.2 774h0M906.4 774.5h0M908.3 773.9h0M911.5 774h0M914.1 773.8h0M916 774.1h0M918.7 774.5h0M871.8 776.5h0M873 777.3h0M877.1 776.7h0M879.7 778h0M880.7 776.4h0M884.1 777.2h0M887.4 776.8h0M888.6 776.4h0M892.6 776.9h0M895.1 777.1h0M897.6 777.8h0M900.4 778h0M902.3 778h0M904.8 776.9h0M908 777.2h0M909.7 777.6h0M912.5 777.2h0M915.1 777.6h0M917.8 776.8h0M921 777.5h0M872.2 779h0M874.2 779.1h0M878.4 779.8h0M880.5 779.1h0M883.1 779.9h0M886.2 780.2h0M887.7 780h0M890.6 778.9h0M893.8 779.3h0M896.4 779.3h0M899.3 779.1h0M900.5 780.1h0M904.3 780.7h0M905.4 779h0M908 779.4h0M911.9 779.1h0M913.7 779.4h0M917 779.6h0M920 779.2h0M871.5 782.8h0M873.5 781.6h0M876.2 782.8h0M878.1 782.1h0M880.9 782h0M883.4 782.2h0M887.5 782.2h0M888.9 781.5h0M891.6 781.7h0M893.7 782.3h0M896.9 782.7h0M900.3 782.3h0M901.7 781.6h0M904.2 782.1h0M907 782.3h0M910.6 781.9h0M912.8 781.9h0M915.2 782.3h0M873 784.4h0M874.7 784.7h0M876.8 785.3h0M879.5 785.9h0M883.6 785.7h0M885.2 785.3h0M888.2 785.2h0M891.5 784.4h0M893.4 784.5h0M895.8 784.6h0M898.3 784.2h0M900.2 785.3h0M903.6 785.2h0M906.8 784.8h0M909.7 784.9h0M912.3 784.3h0M913.8 785h0M870.4 787.1h0M874.5 787.6h0M877.1 787.2h0M881.8 788h0M884.3 786.9h0M888.8 786.8h0M891.8 787.5h0M893.7 787.4h0M897.8 787.5h0M870.5 788.7h0M868.9 783.1h0M869.8 778.2h0M869.8 772.5h0M869.3 767.9h0M873.8 762.8h0M874.6 757.7h0M876.3 753.7h0M877.2 748.8h0M876.8 744h0M875.1 736.9h0M878.1 734.6h0M883.7 732.9h0M888.3 734.1h0M891.1 739.7h0M896.4 746.2h0M900.1 750.2h0M905.4 749.4h0M909.8 758.4h0M912.4 765.4h0M915.9 767.8h0M920.8 774.5h0M921.1 778.7h0M918.1 781.4h0M916.3 785.5h0M909.6 784.4h0M904.1 786.8h0M900.5 786.9h0M895.6 789.3h0M890.2 787.9h0M884.8 788.4h0M881.9 787.4h0M877.5 788.3h0M870.8 788.2h0M886.1 671.9h0M883.8 684.6h0M876.6 710.3h0M904.3 714h0M872.7 724.8h0M880.3 725.8h0M882.8 725.8h0M891.8 723.4h0M889.5 730.8h0M873.4 735.9h0M897.6 737.3h0M903.6 735.9h0M911.8 742h0M914 749.8h0M906.5 747.4h0M872.7 758.1h0M869.8 767.5h0M926.3 767.5h0M942.4 762.9h0M947.9 772.5h0M948.6 776.1h0M926.3 784h0M922 784.7h0M893.6 789.7h0M913.7 763.2h0" stroke="#0f3ddc" stroke-width="6.6" stroke-linecap="round" fill="none"/>
<clipPath id="c21"><rect x="77.5" y="849.5" width="77" height="141"/></clipPath>
<g clip-path="url(#c21)"><path d="M123 969.1L122.9 967.3L122.8 965.6L122.5 963.8L122.1 962.2L121.6 960.5L121 958.9L120.3 957.5L119.5 956L118.6 954.7L117.6 953.5L116.6 952.5L115.5 951.5L114.4 950.7L113.2 950L111.9 949.5L110.6 949.1L109.3 948.9L108 948.8L106.7 948.9L105.4 949.1L104.2 949.5L102.9 950L101.7 950.7L100.6 951.5L99.5 952.5L98.4 953.5L97.5 954.7L96.6 956L95.8 957.5L95.1 958.9L94.5 960.5L94 962.2L93.6 963.8L93.3 965.6L93.1 967.3L93.1 969.1L93.1 970.9L93.3 972.6L93.6 974.3L94 976L94.5 977.7L95.1 979.2L95.8 980.7L96.6 982.1L97.5 983.4L98.4 984.6L99.5 985.7L100.6 986.7L101.7 987.5L102.9 988.2L104.2 988.7L105.4 989.1L106.7 989.3L108 989.4L109.3 989.3L110.6 989.1L111.9 988.7L113.2 988.2L114.4 987.5L115.5 986.7L116.6 985.7L117.6 984.6L118.6 983.4L119.5 982.1L120.3 980.7L121 979.2L121.6 977.7L122.1 976L122.5 974.3L122.8 972.6L122.9 970.9Z" fill="none" stroke="#0f3ddc" stroke-width="1.55"/>
</g>
<path d="M105.5 932.2h0M108.8 930.9h0M111.4 932.2h0M112.9 932.1h0M104.4 934.4h0M106 934.4h0M108.7 934.8h0M111.9 933.5h0M115.4 935h0M102.2 936.6h0M106 937.2h0M107.4 937.2h0M110.1 935.9h0M113.2 937.5h0M116.6 936.7h0M104.7 938.9h0M106.6 939.3h0M109.3 939.1h0M111.5 940h0M115 940.2h0M116.3 938.8h0M102.7 942.1h0M104.6 942.6h0M108.3 941.6h0M110.6 942.3h0M114.1 941.2h0M103.6 944h0M106.9 943.7h0M109.8 945.1h0M111.7 944.8h0M114.5 944.9h0M103.1 947h0M105.6 947.9h0M108.7 948h0M111.3 947.2h0M112.7 947.8h0M102 949.1h0M104.3 949.5h0M106.9 949.6h0M108.9 950h0M111.3 949.2h0M114.8 950.2h0M102.9 952.3h0M105.6 951.6h0M107.5 952.6h0M109.8 952.3h0M112.8 952.9h0M115.9 952.6h0M118.1 952.4h0M103.4 954.1h0M106 955.4h0M109.6 954.7h0M112.6 954.5h0M114.4 955.4h0M116.6 954.9h0M119.4 955.4h0M121.8 954.9h0M103.7 957.5h0M105.6 957.1h0M107.8 958.1h0M111.5 957.4h0M112.6 957.9h0M115.1 957.2h0M117.7 957.9h0M121.6 956.9h0M101.6 960.3h0M103.9 960.2h0M107.5 959.7h0M109.3 959.8h0M111.7 959.7h0M115.1 960.1h0M116.3 960.8h0M119.7 959.6h0M102.7 962.4h0M105.3 962.2h0M108.4 962.5h0M110.1 963.5h0M113.9 962.2h0M116.1 962.2h0M118.1 962.6h0M120.3 961.9h0M102.2 966h0M103.4 966.2h0M106.3 964.6h0M109.2 965.7h0M111.1 964.9h0M114.1 965.3h0M116.7 965.8h0M120.3 965.9h0M121.6 965.4h0M102.9 968.6h0M105.9 967.4h0M107.4 968.7h0M110.3 968.1h0M113.6 967.8h0M116 968.6h0M118.6 967.9h0M120.6 968.3h0M123.1 968.7h0M101.7 971.4h0M103.7 971.4h0M107.5 970.9h0M108.6 970.2h0M111.5 970.7h0M114.6 971.1h0M117.3 970.5h0M119.3 970.9h0M122.4 970.7h0M125 969.9h0M102.2 972.7h0M106.3 973.3h0M107.7 973.1h0M110.3 972.5h0M114.2 973.3h0M116.7 973.6h0M117.7 973.1h0M120.9 973.4h0M124.3 973.1h0M101.8 975.6h0M103.3 976.7h0M106.7 976.2h0M109.9 975.2h0M111.2 976.1h0M115.2 975.8h0M116.5 975.5h0M119.1 975.2h0M122.2 975.7h0M102.8 978.3h0M105 977.7h0M107.8 978.6h0M110.5 978.4h0M113.9 977.8h0M116.2 979.1h0M118 978.4h0M120.9 978.2h0M101.8 980.7h0M104.5 980.7h0M107 981h0M109.4 980.6h0M112.2 980.5h0M114.9 980.8h0M116.6 981.1h0M102.4 980.8h0M106 981.5h0M111.6 980.1h0M115.5 980.2h0M121.4 981.6h0M122.1 977.3h0M126.2 973.5h0M125.6 968.4h0M122 965.6h0M121 960.1h0M120.7 954h0M118 952.4h0M114.6 950.7h0M115.1 946.4h0M115.4 941.8h0M117.7 937h0M114.4 930.9h0M109.4 928h0M105.2 929.9h0M101.7 935.9h0M102.4 939.8h0M100.4 943.2h0M100.6 948.4h0M100.7 952.3h0M102.4 959.3h0M101.3 963.3h0M101.8 967h0M100.5 972.2h0M101.7 977.3h0M117.8 936.1h0M117.4 920.7h0M117.4 914.8h0M114.1 923.1h0M112.3 908.9h0M112.3 889.9h0M109.3 900.6h0M108.5 920.7h0M107.2 912.4h0M104.4 903.4h0M101.6 921.4h0M90.4 973.3h0M97.5 974h0M98.7 972.8h0M105.2 929h0" stroke="#0f3ddc" stroke-width="6.6" stroke-linecap="round" fill="none"/>
<clipPath id="c22"><rect x="226.5" y="849.5" width="85" height="141"/></clipPath>
<g clip-path="url(#c22)"><path d="M259.6 969.1L259.6 967.3L259.4 965.6L259.2 963.8L258.9 962.2L258.5 960.5L258 958.9L257.4 957.5L256.8 956L256.1 954.7L255.3 953.5L254.4 952.5L253.5 951.5L252.6 950.7L251.6 950L250.6 949.5L249.6 949.1L248.5 948.9L247.4 948.8L246.4 948.9L245.3 949.1L244.3 949.5L243.3 950L242.3 950.7L241.4 951.5L240.5 952.5L239.6 953.5L238.8 954.7L238.1 956L237.5 957.5L236.9 958.9L236.4 960.5L236 962.2L235.7 963.8L235.5 965.6L235.3 967.3L235.3 969.1L235.3 970.9L235.5 972.6L235.7 974.3L236 976L236.4 977.7L236.9 979.2L237.5 980.7L238.1 982.1L238.8 983.4L239.6 984.6L240.5 985.7L241.4 986.7L242.3 987.5L243.3 988.2L244.3 988.7L245.3 989.1L246.4 989.3L247.4 989.4L248.5 989.3L249.6 989.1L250.6 988.7L251.6 988.2L252.6 987.5L253.5 986.7L254.4 985.7L255.3 984.6L256.1 983.4L256.8 982.1L257.4 980.7L258 979.2L258.5 977.7L258.9 976L259.2 974.3L259.4 972.6L259.6 970.9Z" fill="none" stroke="#0f3ddc" stroke-width="1.55"/>
</g>
<path d="M245.3 921.8h0M246.9 921.7h0M246.2 924.4h0M248.7 924.4h0M245.6 927.4h0M247.1 926.5h0M246.5 928.4h0M248.4 929.3h0M245.2 931.2h0M247.9 932.3h0M249.4 931.8h0M246.4 933.9h0M248.3 934.3h0M250.7 934.4h0M245 936.3h0M247.8 937h0M249.3 937.6h0M244.2 940.2h0M246.1 940h0M248.1 939.4h0M250.6 940.2h0M245.5 941.6h0M248.3 943h0M250.8 942.5h0M247 944.3h0M249.4 945.2h0M251.5 944.2h0M244.8 948.2h0M247.4 947.7h0M249.3 946.8h0M252.4 947.1h0M244.2 950.3h0M246.8 950.8h0M249.7 950.5h0M250.6 950.8h0M245.7 953.3h0M247.6 952.6h0M250.5 952.2h0M252.2 953.4h0M244.5 954.5h0M246 954.3h0M248.8 954.4h0M251.5 956h0M254.5 955.4h0M244.9 957.6h0M247.3 957.7h0M249.9 957.6h0M253.2 957.1h0M254.6 957.7h0M243.3 961.2h0M246.3 961.1h0M248.9 960.8h0M251.7 960.5h0M254.8 960.5h0M256.6 959.9h0M243.2 962.8h0M245.3 963.7h0M247.1 962.8h0M250 963.6h0M252.4 963.7h0M254.8 963.3h0M241.8 965.9h0M243.5 965.5h0M246.7 965.1h0M248.8 966h0M250.7 964.9h0M253.2 965.9h0M257.2 965.9h0M244.7 968.7h0M247.9 968.1h0M249.2 968.6h0M253.1 968.4h0M256.2 968.2h0M257.7 968.2h0M259.8 968.4h0M262.5 968.5h0M265.9 968.5h0M267.8 968.6h0M241.8 971.6h0M244.1 970.2h0M246.7 970.2h0M249.7 969.9h0M250.6 970.6h0M253.3 971.6h0M257.4 970.3h0M259.9 970.5h0M262.4 970.1h0M265.2 970.7h0M266.6 970.7h0M268.7 969.9h0M242.3 973.5h0M245.8 973.4h0M247.2 972.9h0M249.3 974.1h0M253.1 973h0M255.8 973.7h0M258.2 973.3h0M261.2 974.1h0M263.6 972.8h0M265.6 973.6h0M242.8 975.6h0M246.5 975.5h0M249.3 976.2h0M251 976h0M254.6 975.1h0M256.9 976.4h0M260.1 975.7h0M245.7 979h0M247.6 979.2h0M250.8 978.8h0M252.3 977.7h0M255.5 977.7h0M246.7 981.9h0M249.4 981.7h0M241.6 974.9h0M241.8 966h0M243 959.5h0M242.2 954.1h0M244.2 948.7h0M243.6 943.3h0M243.1 938.2h0M243.2 931.5h0M243.7 927.1h0M246.4 919.8h0M248.6 918h0M249.7 924.8h0M250.1 931.2h0M251.5 939h0M252 945.4h0M254.3 952.5h0M257 957.4h0M257.4 965.9h0M263.5 967.5h0M268.2 967.9h0M269.8 971h0M267.3 976.7h0M259.5 977.1h0M253.7 981.8h0M248.2 981.4h0M242.8 980.1h0M247.5 889.7h0M251.1 899.1h0M251.1 903h0M244.3 909.4h0M246.8 913h0M255.8 917.8h0M250.4 906.6h0M263 930.7h0M261.1 938.5h0M256.8 953.6h0M269.8 965.5h0M300.7 965.5h0M278 967.6h0M288.2 967.4h0M294.2 968.4h0M273.4 972h0M283.4 970.5h0M290.6 971.2h0M307.1 972h0M302.1 972.7h0M267.6 976.3h0M274.8 977h0M282 974.8h0M294.2 979.1h0M237.4 972.7h0M239.6 975.6h0" stroke="#0f3ddc" stroke-width="6.6" stroke-linecap="round" fill="none"/>
<clipPath id="c23"><rect x="385.5" y="849.5" width="85" height="141"/></clipPath>
<g clip-path="url(#c23)"><path d="M430.7 965L430.7 963.3L430.5 961.6L430.2 960L429.8 958.5L429.3 957L428.7 955.6L428 954.4L427.1 953.2L426.2 952.2L425.2 951.2L424.2 950.5L423 949.8L421.8 949.4L420.6 949L419.3 948.8L418 948.8L416.7 948.9L415.3 949.2L414 949.6L412.7 950.2L411.4 950.9L410.1 951.8L408.8 952.8L407.6 953.9L406.5 955.1L405.4 956.5L404.5 957.9L403.5 959.4L402.7 961L402 962.7L401.4 964.4L400.9 966.1L400.5 967.9L400.2 969.6L400 971.4L399.9 973.2L400 974.9L400.2 976.5L400.5 978.2L400.9 979.7L401.4 981.2L402 982.6L402.7 983.8L403.5 985L404.5 986L405.4 986.9L406.5 987.7L407.6 988.4L408.8 988.8L410.1 989.2L411.4 989.4L412.7 989.4L414 989.3L415.3 989L416.7 988.6L418 988L419.3 987.3L420.6 986.4L421.8 985.4L423 984.3L424.2 983.1L425.2 981.7L426.2 980.3L427.1 978.8L428 977.2L428.7 975.5L429.3 973.8L429.8 972.1L430.2 970.3L430.5 968.6L430.7 966.8Z" fill="none" stroke="#0f3ddc" stroke-width="1.55"/>
<path d="M396.3 974.7L449.6 957.6" stroke="#0f3ddc" stroke-width="1.55" fill="none"/>
</g>
<path d="M413.6 934.6h0M417.2 934.8h0M419.3 934.5h0M421.7 935.8h0M411.2 937.6h0M412.6 937.2h0M415.7 937.2h0M418.4 938.3h0M420.7 937.1h0M412.4 939.8h0M414.3 939.7h0M417.7 940.9h0M419.2 940.5h0M422.3 939.6h0M412.9 942.3h0M415.7 943.2h0M417.7 942.5h0M421.7 943.1h0M423.3 942.9h0M411 945.3h0M414.2 945.4h0M417.3 945.7h0M420.4 944.7h0M422 945.1h0M410.2 948.9h0M412.6 948.5h0M415.6 947.9h0M419.1 948.9h0M420.9 948.4h0M422.8 947.7h0M409 950.8h0M411.8 951.4h0M413.8 951h0M416.5 950.4h0M419.8 950.3h0M421.8 951.1h0M408.1 954h0M409.8 952.5h0M412.3 953.3h0M415.2 953.4h0M418.6 952.7h0M421.1 952.8h0M423.4 954h0M405.9 955.2h0M408.8 956.5h0M412.3 956.5h0M415.1 955.3h0M416.5 955.1h0M420 956.5h0M422 956h0M424.1 956.6h0M428 956.7h0M407.8 958.1h0M411 957.9h0M412.2 957.9h0M415.3 959.1h0M419.1 958h0M421.1 958.2h0M424.3 958.5h0M426.8 957.7h0M429.5 957.9h0M406.6 961.4h0M409.6 961.3h0M411.5 960.3h0M414.6 960.7h0M416.6 961.7h0M419.9 960.7h0M421.8 960.9h0M424.6 960.7h0M426.7 960.9h0M430.7 961.3h0M433.3 961.2h0M405.2 964.4h0M408.4 963h0M409.7 963.7h0M413.3 963.3h0M416.2 964.1h0M418.5 963.1h0M420.3 962.8h0M423 963.6h0M426.7 962.9h0M428.5 963.9h0M430.7 964h0M433.8 963.2h0M404 965.4h0M406.1 966.9h0M409.1 966.8h0M412 967.1h0M414.5 967h0M417.6 966.4h0M419.9 966.2h0M422.7 966.3h0M425.4 966.7h0M427.3 965.8h0M429.5 966.5h0M433 966.3h0M402.1 969.2h0M405.6 968h0M407.7 968.9h0M410.3 968.3h0M412.9 969.6h0M415.8 969.2h0M418.9 969.3h0M420.6 967.9h0M423.2 969.3h0M426.7 969.6h0M428.5 969.3h0M431.3 969h0M433.3 968.3h0M401.3 970.8h0M404.2 970.6h0M406.3 971.5h0M408.3 971.7h0M411.1 971.4h0M413.5 971.2h0M416.4 971.1h0M420 971.2h0M422.6 972h0M424.3 970.7h0M426.5 971.5h0M430.8 971.2h0M432.8 971.9h0M435.4 971.9h0M399.4 974.3h0M402.7 973.5h0M405.6 974.5h0M407.2 974.2h0M410.9 973.3h0M413.6 974.9h0M414.9 973.2h0M417.9 974.3h0M421.7 973.8h0M423.8 973.3h0M426.4 974.3h0M427.9 974.5h0M431.9 974.2h0M433.2 974.9h0M436.9 973.8h0M438.9 973.8h0M398.7 976.3h0M402 977.2h0M403.2 977.5h0M406.8 977.2h0M409.5 976.5h0M412.2 977.5h0M413.9 977.2h0M417 976.6h0M419.4 977h0M421.7 977.3h0M425.3 975.9h0M428 976.2h0M429.9 976.8h0M432.3 975.8h0M435.8 976.1h0M400.4 978.8h0M401.8 980h0M404.5 979.6h0M407.8 979.7h0M410.8 979.5h0M413 979.8h0M414.9 978.7h0M418.6 978.9h0M421 979.2h0M423.5 979.1h0M426.5 978.9h0M397.4 974h0M401.5 968.4h0M404.8 960.1h0M404.5 953.3h0M409.5 947h0M410.5 941.9h0M411.6 936.9h0M413.8 932.9h0M420 932.4h0M424.3 936.9h0M424.7 942.3h0M422.5 948.5h0M428.8 955.4h0M434.2 960.2h0M435.1 968.7h0M438 973.2h0M435 976.5h0M429.6 977.8h0M422.6 980.9h0M417.8 980.1h0M412.3 980.9h0M407.3 982.2h0M400.9 980.1h0M430.5 889.7h0M424.5 898.7h0M424.5 903h0M421.9 907.7h0M426.9 910.9h0M420.4 913h0M424.7 915.2h0M428.3 917.3h0M416.8 921.6h0M421.9 920.9h0M431.6 922.4h0M419 924.5h0M425.5 928.8h0M413.2 933.9h0M426.2 937.5h0M410.4 942.5h0M425.5 942.2h0M404.6 953.3h0M407.5 950.4h0M433.4 959h0M439.1 965.8h0M448.9 972h0M446.6 978.7h0M439.4 974.8h0M396.3 972.7h0M398.9 982.4h0M400.3 966.9h0" stroke="#0f3ddc" stroke-width="6.6" stroke-linecap="round" fill="none"/>
<clipPath id="c24"><rect x="543.5" y="849.5" width="83" height="141"/></clipPath>
<g clip-path="url(#c24)"><path d="M565.5 976.2L565.4 974.5L565.3 972.8L565.1 971L564.8 969.3L564.4 967.5L564 965.7L563.4 964L562.8 962.3L562.1 960.7L561.4 959.1L560.6 957.6L559.8 956.2L558.9 954.9L557.9 953.7L557 952.6L556 951.6L555 950.8L554 950.1L553 949.5L552 949.1L551 948.9L550.1 948.8L549.2 948.9L548.3 949.1L547.4 949.4L546.6 950L545.9 950.6L545.2 951.4L544.6 952.4L544.1 953.4L543.6 954.6L543.2 955.9L542.9 957.3L542.7 958.8L542.6 960.4L542.5 962L542.6 963.7L542.7 965.4L542.9 967.2L543.2 968.9L543.6 970.7L544.1 972.4L544.6 974.2L545.2 975.9L545.9 977.5L546.6 979.1L547.4 980.6L548.3 982L549.2 983.3L550.1 984.5L551 985.6L552 986.6L553 987.4L554 988.1L555 988.7L556 989.1L557 989.3L557.9 989.4L558.9 989.3L559.8 989.1L560.6 988.7L561.4 988.2L562.1 987.6L562.8 986.8L563.4 985.8L564 984.8L564.4 983.6L564.8 982.3L565.1 980.9L565.3 979.4L565.4 977.8Z" fill="none" stroke="#0f3ddc" stroke-width="1.55"/>
<path d="M544.7 942.2L596 989.5" stroke="#0f3ddc" stroke-width="1.55" fill="none"/>
</g>
<path d="M548.4 903h0M547 906.8h0M548.5 908.4h0M547.4 914.1h0M549.5 917.1h0M547.4 919.2h0M549 921.5h0M548.1 923.5h0M549.7 926.8h0M548.1 928.9h0M548.6 931.3h0M547.6 934.4h0M548.3 937.7h0M547.7 940.2h0M548.4 942.1h0M551 942.4h0M547.7 945.5h0M550.1 945.7h0M546.9 947.6h0M548.4 947.3h0M548.7 950.8h0M550.2 949.9h0M548.7 952.1h0M551 953.4h0M554 953.1h0M547.3 955h0M550.1 955h0M553 954.5h0M556.2 956.3h0M557.7 955.2h0M546.9 958.6h0M548.9 957.4h0M551.2 958.6h0M553.6 958.5h0M556.1 957.1h0M559.9 958.4h0M547.1 960.3h0M550.6 961.5h0M553.7 960.3h0M555.8 960.6h0M557.4 960.2h0M560.8 960.6h0M566.9 961.4h0M547 963.7h0M548.9 963.5h0M551.4 963.2h0M554.9 963.6h0M556.1 963.6h0M559.7 963.9h0M561.3 962.3h0M564.4 964.1h0M567 963.3h0M569.4 963.2h0M548.2 966.3h0M550.8 965.5h0M552.2 964.9h0M555 965.6h0M558.3 966.3h0M561.6 966.4h0M563.6 966.2h0M566.8 966.6h0M568.8 966.2h0M571.8 966.5h0M573.9 965.9h0M549.3 968.9h0M551.6 967.7h0M553.6 967.6h0M557.6 968.6h0M560.1 969h0M561.3 968.5h0M564.1 968h0M566.7 968.4h0M569.6 967.7h0M573.1 969h0M575.2 969.1h0M548.4 970.6h0M551.3 970.5h0M552.6 971.2h0M556 971.8h0M557.9 970.3h0M561.4 970.7h0M562.7 970.6h0M565.7 970.2h0M569.5 971.6h0M571.3 970.9h0M573 971.1h0M576.1 971.6h0M578.4 970.6h0M549.5 974.5h0M550.9 973.1h0M553.7 973.7h0M557.5 973.3h0M560.1 972.7h0M561.4 973.1h0M565.3 973.8h0M566.5 974h0M570.6 973.5h0M572.5 974.3h0M574.6 973.2h0M578.3 973.2h0M580.8 972.8h0M547.9 975.8h0M549.7 975.5h0M553.6 975.8h0M555.3 976.7h0M558.6 976.1h0M560.4 976.1h0M564 976.4h0M565.6 975.9h0M569 976.9h0M570.9 976.1h0M573.3 976.3h0M576.5 976.7h0M579.7 976.8h0M582.4 976.2h0M548.3 978.1h0M552 979.2h0M554.9 978.4h0M557.4 978.7h0M558.7 979.2h0M562.4 978.6h0M564.6 978.1h0M567.9 978.3h0M569.4 979.3h0M572.3 979h0M575.2 978.8h0M577.9 978.8h0M579.6 978.8h0M550.1 980.7h0M552.3 981.3h0M545.7 978.3h0M546.9 973.4h0M546.6 968.1h0M547.3 961.8h0M546.9 957.2h0M545.7 953h0M547.6 949.6h0M545.7 943.7h0M546.2 938.9h0M546.2 934.5h0M547.4 931.1h0M546 925.5h0M546 921.4h0M547.8 915.8h0M547.6 910.1h0M545.9 906h0M545.8 901.9h0M549.8 901.6h0M548 904.4h0M549.7 911.2h0M549.9 914.8h0M549.2 919.8h0M549.5 924.3h0M550.1 931.1h0M550.9 937.2h0M550.7 943.1h0M552.5 950.8h0M556.4 952.6h0M558.5 955.3h0M564 961.3h0M569.9 959.6h0M572.5 964.1h0M575.8 968.4h0M579.5 972.2h0M585.3 976.1h0M581.7 978.5h0M577.9 979.4h0M571.9 981.3h0M565.1 980h0M559.2 982.4h0M555.1 982.7h0M548.9 982h0M547.8 889.7h0M590.6 974.8h0M592.8 974.8h0M607.6 977.3h0M615.1 974.8h0M556.9 982.7h0M577.7 981.3h0M545.7 977h0M570.5 959h0M581.3 969.8h0" stroke="#0f3ddc" stroke-width="6.6" stroke-linecap="round" fill="none"/>
<path d="M709 990V988.8H714.7V990ZM714.7 990V920.5H720.4V990ZM720.4 990V953.5H726.3V990ZM726.3 990V986.4H732V990ZM732 990V988.3H737.8V990ZM737.8 990V988.3H743.5V990ZM743.5 990V988.8H749.3V990ZM749.3 990V988.8H754.7V990ZM754.7 990V989.5H766.9V990Z" fill="none" stroke="#103cd8" stroke-width="1.5" stroke-linejoin="miter"/>
<clipPath id="c25"><rect x="860.5" y="849.5" width="97" height="141"/></clipPath>
<g clip-path="url(#c25)"><path d="M913.2 971.1L913.2 969.4L912.9 967.6L912.4 965.8L911.8 964.1L911 962.4L910 960.8L908.9 959.2L907.6 957.7L906.2 956.2L904.7 954.9L903 953.7L901.2 952.6L899.4 951.6L897.5 950.8L895.5 950.1L893.4 949.6L891.3 949.2L889.2 948.9L887.2 948.8L885.1 948.9L883 949.1L881 949.4L879.1 949.9L877.2 950.6L875.5 951.4L873.8 952.3L872.3 953.4L870.9 954.6L869.6 955.8L868.5 957.2L867.5 958.7L866.7 960.3L866.1 961.9L865.6 963.6L865.3 965.3L865.2 967.1L865.3 968.8L865.6 970.6L866.1 972.4L866.7 974.1L867.5 975.8L868.5 977.4L869.6 979L870.9 980.5L872.3 981.9L873.8 983.3L875.5 984.5L877.2 985.6L879.1 986.5L881 987.4L883 988.1L885.1 988.6L887.2 989L889.2 989.3L891.3 989.4L893.4 989.3L895.5 989.1L897.5 988.8L899.4 988.3L901.2 987.6L903 986.8L904.7 985.9L906.2 984.8L907.6 983.6L908.9 982.3L910 981L911 979.5L911.8 977.9L912.4 976.3L912.9 974.6L913.2 972.9Z" fill="none" stroke="#0f3ddc" stroke-width="1.55"/>
<path d="M861.2 963.3L946.7 981.6" stroke="#0f3ddc" stroke-width="1.55" fill="none"/>
</g>
<path d="M875.5 945.6h0M878.3 945.9h0M875.8 948.2h0M876.8 948.6h0M880.6 948h0M882.5 947.6h0M884.9 948.2h0M887.3 948.8h0M871 950.3h0M874.1 951.3h0M875.6 950.7h0M879.6 950.9h0M881.1 950.3h0M884.9 950.1h0M887.6 950.4h0M889.4 950.9h0M892.3 950.7h0M865.4 953.3h0M867.1 953.8h0M869.1 952.9h0M872.8 952.4h0M875.2 953h0M877.2 953h0M880.7 953.5h0M883 953.7h0M885.3 953.3h0M887.4 953.5h0M891 953.4h0M893.8 954h0M896.3 954h0M866.6 956.3h0M869.3 955.1h0M871.2 955.3h0M873 956.5h0M876.7 955.7h0M879.5 956.4h0M881.5 955.1h0M884.9 955.8h0M886.6 955.2h0M889.4 956.4h0M892.7 955.1h0M893.9 956.7h0M897.2 956h0M900.1 955.6h0M902.2 956.4h0M864.8 957.5h0M868 958.9h0M870.1 959.2h0M872.9 958.6h0M874.8 958.6h0M877.5 957.8h0M879.7 957.7h0M883.2 958.1h0M886.4 959.1h0M887.7 957.6h0M891.3 959h0M893 958.8h0M896.7 958.3h0M898.4 958.6h0M901.7 958.7h0M904.5 957.7h0M865.8 961.7h0M869.4 961h0M871.4 960.7h0M874 960.2h0M875.8 961.6h0M878.9 961h0M882.2 961.2h0M883.6 960.9h0M887.4 960.7h0M890.2 960.4h0M891.8 960.4h0M894.2 960.5h0M897.4 961.4h0M900.4 960.3h0M903.3 961.3h0M904.6 961.3h0M907.8 960.7h0M864.5 963h0M866.6 964.1h0M869.5 963.9h0M873.2 964.3h0M875.7 963.6h0M877.7 962.7h0M880.6 963.6h0M882.6 964.2h0M885.9 964.1h0M887.8 963.6h0M891.2 964.3h0M893.2 964h0M896 963.1h0M899.1 963.6h0M900.5 963.7h0M904.3 963h0M905.7 963.8h0M908.2 964h0M911.7 963.5h0M914 964.4h0M866.4 966.4h0M869.3 965.7h0M871.4 966.8h0M874.5 966.7h0M876.7 966h0M879.7 966.6h0M881.4 967h0M884.9 967h0M887.6 967h0M889.2 966h0M892.8 965.3h0M895.4 966.8h0M896.6 966.4h0M899.6 966.6h0M903.1 966.6h0M905.6 965.8h0M907.6 966.1h0M911 965.7h0M913.2 966.5h0M915.1 966.9h0M864 968.4h0M866.6 969.1h0M869.9 968h0M873.1 968.8h0M875.4 968.3h0M878 968.5h0M881.1 968h0M882.1 968.6h0M884.8 968.1h0M888.5 968.9h0M891 968.2h0M893.5 969.3h0M895.1 968.2h0M898.4 968.5h0M901.7 968.9h0M903.6 968.6h0M905.7 968.2h0M908.5 967.9h0M910.9 968.9h0M914.1 968.8h0M916.8 968.9h0M863.9 971.4h0M866.6 972.2h0M868 972.1h0M871.4 972.1h0M873 972h0M876.8 972h0M878.6 971h0M881.8 971.1h0M884.3 972h0M886.6 972.3h0M890.1 971.8h0M892.6 970.5h0M894.8 972.1h0M896.9 971.6h0M899 971.8h0M901.9 972.2h0M905.2 970.6h0M907.6 970.7h0M909.9 971.7h0M912 972h0M915.7 971.7h0M917.7 970.7h0M865.5 974.3h0M867.7 973.9h0M869.4 974h0M873.3 974.1h0M874.3 974.2h0M878.3 973.9h0M880.6 973.4h0M883.2 974h0M886 974h0M888 973.9h0M891.4 974.8h0M893.3 973.5h0M896.3 973.5h0M899.2 973.3h0M900.9 974.7h0M902.8 974.6h0M906.5 974.3h0M908.1 974.4h0M912.3 973.1h0M913.6 974.6h0M917.2 974.1h0M920.1 974.1h0M865.6 976h0M868 977.1h0M871.1 975.7h0M874.6 975.9h0M875.9 976.6h0M878.7 977.3h0M882.1 977.2h0M884.1 975.8h0M886.3 975.9h0M888.6 976.4h0M891.5 976.1h0M893.7 976.1h0M898 976.3h0M900.1 976.4h0M902.1 976.4h0M904.9 976.4h0M908.3 975.8h0M910.8 977h0M913.4 977.1h0M916 975.8h0M866.9 979.7h0M870.1 980h0M872.6 978.4h0M874.6 978.9h0M877 979.7h0M881.1 979.9h0M882 979.7h0M886.3 978.7h0M887.6 978.6h0M890.5 979.8h0M893.9 978.5h0M895.2 979.7h0M863.3 973.5h0M864.2 967.3h0M864.4 961.6h0M865.6 956.3h0M866.5 952.2h0M869.3 950.8h0M875 945h0M882.6 946.2h0M889.2 948.7h0M895.7 952.1h0M900.9 955.3h0M906.7 958.2h0M909.7 961.1h0M915.4 963.6h0M917.3 968.2h0M921.3 974.7h0M915.6 977.3h0M909.5 978.9h0M906.4 977.6h0M900.7 979h0M894.1 978.7h0M888.2 979.8h0M884.7 982.1h0M877.6 980.1h0M873.2 981.4h0M868.5 982.5h0M866.6 979.7h0M864.8 889.7h0M862.7 899.4h0M863.7 903h0M864.8 908h0M867 910.1h0M872.7 911.3h0M864.1 913h0M871.3 915.2h0M869.1 918.1h0M875.6 922.1h0M865.1 922.4h0M868.4 923.8h0M883.1 917.8h0M889.7 922.1h0M884.5 928.5h0M875.6 930.3h0M867.7 932.4h0M862.7 936.7h0M870.6 933.9h0M879.2 933.9h0M883.5 938.2h0M890.7 937.2h0M867 943.2h0M892.1 942.5h0M875.6 939.6h0M887.8 945.4h0M881.3 942.5h0M896.4 950.4h0M900.7 954.7h0M864.1 953.3h0M918.4 959.5h0M924.2 965.8h0M924.5 974.8h0M941.7 978.7h0M946.5 972h0M948.2 973h0M868.4 982.7h0M884.2 982.7h0M873.4 942.5h0M869.1 938.2h0M877.7 946.8h0" stroke="#0f3ddc" stroke-width="6.6" stroke-linecap="round" fill="none"/>
<clipPath id="c26"><rect x="77.5" y="1048.5" width="77" height="137"/></clipPath>
<g clip-path="url(#c26)"><path d="M123 1145.2L122.9 1142.2L122.8 1139.3L122.5 1136.4L122.1 1133.6L121.6 1130.8L121 1128.2L120.3 1125.7L119.5 1123.3L118.6 1121.2L117.6 1119.2L116.6 1117.3L115.5 1115.8L114.4 1114.4L113.2 1113.2L111.9 1112.4L110.6 1111.7L109.3 1111.3L108 1111.2L106.7 1111.3L105.4 1111.7L104.2 1112.4L102.9 1113.2L101.7 1114.4L100.6 1115.8L99.5 1117.3L98.4 1119.2L97.5 1121.2L96.6 1123.3L95.8 1125.7L95.1 1128.2L94.5 1130.8L94 1133.6L93.6 1136.4L93.3 1139.3L93.1 1142.2L93.1 1145.2L93.1 1148.2L93.3 1151.1L93.6 1154L94 1156.8L94.5 1159.6L95.1 1162.2L95.8 1164.7L96.6 1167.1L97.5 1169.2L98.4 1171.2L99.5 1173L100.6 1174.6L101.7 1176L102.9 1177.1L104.2 1178L105.4 1178.7L106.7 1179.1L108 1179.2L109.3 1179.1L110.6 1178.7L111.9 1178L113.2 1177.1L114.4 1176L115.5 1174.6L116.6 1173L117.6 1171.2L118.6 1169.2L119.5 1167.1L120.3 1164.7L121 1162.2L121.6 1159.6L122.1 1156.8L122.5 1154L122.8 1151.1L122.9 1148.2Z" fill="none" stroke="#0f3ddc" stroke-width="1.55"/>
</g>
<path d="M106.1 1109.3h0M109.2 1109.9h0M111.4 1109.7h0M102.7 1111.3h0M104.9 1111.6h0M106.8 1111.1h0M109.9 1111.5h0M112.6 1112h0M115.5 1112.3h0M103.8 1114.8h0M105.2 1114.4h0M108.5 1113.5h0M110.8 1114.3h0M112.8 1113.4h0M116.4 1114.1h0M103.8 1116.2h0M106.9 1116.4h0M108.9 1116.9h0M113.2 1116.1h0M114.5 1117.6h0M117.6 1116.8h0M120 1117.4h0M103.2 1119.3h0M105.6 1120h0M107.6 1119.4h0M111.3 1118.6h0M113.3 1119.2h0M116.5 1119.5h0M118.9 1119.1h0M121.3 1120.2h0M104 1121.3h0M106.5 1121.7h0M110.2 1122.9h0M111.5 1122.1h0M114.5 1122.8h0M118.5 1122.4h0M119.3 1122.1h0M103.2 1124.7h0M105.4 1123.8h0M108.7 1125.3h0M110.8 1124.5h0M112.9 1124.7h0M116.8 1124.6h0M118.2 1124h0M122.1 1125.1h0M103.9 1127.4h0M106.3 1126.9h0M109.7 1127.2h0M112 1127.6h0M114.5 1127.8h0M118.2 1127.4h0M121 1126.8h0M104.1 1129.1h0M106 1129.3h0M107.8 1129.5h0M110.9 1129h0M113.3 1130.6h0M116.8 1130.2h0M119.7 1129.8h0M121.9 1130.6h0M102 1132.5h0M104 1133.3h0M106.9 1131.9h0M109.3 1133h0M112 1132.8h0M115.2 1133.3h0M118.1 1133.3h0M119.7 1131.6h0M102.4 1134.5h0M105.1 1134.4h0M108.8 1135h0M110.6 1135.1h0M113.2 1134.8h0M116.1 1134.3h0M119.7 1135.8h0M121.2 1135.3h0M104.7 1137.5h0M106.5 1137.6h0M109.3 1137.9h0M112.7 1137.8h0M115.6 1138.2h0M116.9 1138.5h0M120.5 1137.7h0M103.2 1140.8h0M105.5 1140.6h0M108.3 1140.4h0M111.3 1140.3h0M113.8 1139.4h0M115.8 1140.1h0M118.6 1140h0M121.1 1139.9h0M103.9 1143.6h0M107.5 1143.4h0M109.5 1143.6h0M112.2 1142.8h0M114.1 1142.3h0M117.8 1143.3h0M119.8 1143.4h0M103.6 1144.6h0M105.4 1146.4h0M108.5 1144.6h0M111.4 1145.2h0M112.9 1146.3h0M116.1 1145.8h0M118.6 1146.2h0M121.7 1145.2h0M104.8 1148.9h0M106.6 1147.9h0M110.1 1148.9h0M112.9 1148h0M115.7 1148.5h0M117.3 1147.8h0M120.3 1149h0M103.5 1150.5h0M106.2 1149.9h0M108.5 1150.9h0M111.5 1151.4h0M112.9 1150.9h0M116.2 1150.3h0M118.9 1150.2h0M120.9 1151.4h0M102.2 1152.5h0M104.3 1152.5h0M106.9 1153h0M109 1152.5h0M112.3 1154.1h0M114.6 1154h0M116.9 1153.8h0M119.5 1153.6h0M102.7 1156.6h0M106.6 1155.4h0M109.4 1156.2h0M110.3 1156.5h0M113.5 1155.7h0M116.2 1155.4h0M119.6 1156.3h0M121.9 1156.4h0M105 1158.2h0M107.4 1158.6h0M110.5 1158.5h0M112.2 1158.7h0M115.5 1158.8h0M117.4 1158.6h0M121 1158.8h0M103.7 1160.5h0M105.8 1161.1h0M108.1 1161.2h0M110.3 1160.4h0M113.4 1161.6h0M117 1160.7h0M119.6 1161.8h0M121.3 1160.9h0M105.1 1163.4h0M106.6 1164.2h0M110.2 1163.2h0M112.8 1164.3h0M115 1164.2h0M117.3 1164.2h0M120.7 1164.3h0M103.4 1166h0M106.6 1166.9h0M108.2 1166.7h0M111.2 1166.7h0M114.1 1166.6h0M116.2 1167.1h0M119.1 1166.3h0M121.1 1166.1h0M102.8 1168.7h0M104.4 1168.2h0M106.9 1168.1h0M109.4 1168.7h0M112.5 1168.2h0M115 1169.8h0M117.9 1169.6h0M120.5 1168.3h0M103.2 1170.9h0M106.1 1170.7h0M108.7 1172h0M110.8 1171.9h0M113 1171.6h0M116.8 1172.3h0M119.4 1171.4h0M121.4 1171.4h0M104.5 1173.4h0M106.4 1173.6h0M109 1173.3h0M112.7 1173.5h0M115 1174.1h0M116.9 1174.1h0M103.7 1176.5h0M106.5 1177.5h0M107.9 1176.1h0M110.9 1177h0M114.1 1176.3h0M116.8 1176.3h0M104.6 1179.2h0M106.4 1179.9h0M109.4 1179.4h0M112.1 1178.8h0M114.9 1178.9h0M103 1182.1h0M105 1181h0M107.8 1181.3h0M111.6 1182.5h0M113.8 1181.1h0M102.2 1183.7h0M107.8 1183.7h0M109.1 1183.7h0M103.1 1183.7h0M110.4 1183.7h0M115.2 1180.8h0M119.2 1176.4h0M123.1 1169.8h0M121.9 1164.6h0M122.9 1159.8h0M123.4 1155.1h0M121.5 1152.1h0M122.5 1146.2h0M122.3 1143.7h0M121.6 1138h0M123 1134.2h0M122.5 1128h0M121.3 1123.7h0M122.6 1120.4h0M117.5 1115.3h0M114.3 1108.3h0M107.6 1105.3h0M102.7 1109.7h0M103.2 1114.9h0M100.8 1119.6h0M102.5 1124.6h0M102.6 1128.4h0M102.2 1132.9h0M103.1 1139.3h0M102 1144.2h0M100.8 1148.1h0M102 1152.3h0M101.3 1157.1h0M102.6 1162.3h0M101.6 1165h0M102.6 1170.2h0M103.2 1175.7h0M102.7 1179h0M127.5 1166.5h0M127.9 1151.7h0M125.8 1151.3h0M125.8 1137.4h0M122.4 1182.8h0M120.2 1181.8h0M115.3 1106.5h0M112.7 1097.7h0M112.7 1066.8h0M107.6 1097.7h0M104.8 1103.4h0M104.8 1072.9h0M102 1064.3h0M98.7 1160.4h0M99.8 1143.1h0M97.9 1130.9h0M90.8 1146.2h0" stroke="#0f3ddc" stroke-width="6.6" stroke-linecap="round" fill="none"/>
<clipPath id="c27"><rect x="226.5" y="1048.5" width="85" height="137"/></clipPath>
<g clip-path="url(#c27)"><path d="M259.6 1145.2L259.6 1142.2L259.4 1139.3L259.2 1136.4L258.9 1133.6L258.5 1130.8L258 1128.2L257.4 1125.7L256.8 1123.3L256.1 1121.2L255.3 1119.2L254.4 1117.3L253.5 1115.8L252.6 1114.4L251.6 1113.2L250.6 1112.4L249.6 1111.7L248.5 1111.3L247.4 1111.2L246.4 1111.3L245.3 1111.7L244.3 1112.4L243.3 1113.2L242.3 1114.4L241.4 1115.8L240.5 1117.3L239.6 1119.2L238.8 1121.2L238.1 1123.3L237.5 1125.7L236.9 1128.2L236.4 1130.8L236 1133.6L235.7 1136.4L235.5 1139.3L235.3 1142.2L235.3 1145.2L235.3 1148.2L235.5 1151.1L235.7 1154L236 1156.8L236.4 1159.6L236.9 1162.2L237.5 1164.7L238.1 1167.1L238.8 1169.2L239.6 1171.2L240.5 1173L241.4 1174.6L242.3 1176L243.3 1177.1L244.3 1178L245.3 1178.7L246.4 1179.1L247.4 1179.2L248.5 1179.1L249.6 1178.7L250.6 1178L251.6 1177.1L252.6 1176L253.5 1174.6L254.4 1173L255.3 1171.2L256.1 1169.2L256.8 1167.1L257.4 1164.7L258 1162.2L258.5 1159.6L258.9 1156.8L259.2 1154L259.4 1151.1L259.6 1148.2Z" fill="none" stroke="#0f3ddc" stroke-width="1.55"/>
<path d="M237.4 1145.8L307.1 1147.5" stroke="#0f3ddc" stroke-width="1.55" fill="none"/>
</g>
<path d="M247.7 1110.1h0M246.5 1111.7h0M250.1 1111.5h0M245.4 1114.8h0M248.5 1115.6h0M251.2 1115.4h0M252.3 1114.7h0M247.5 1117.5h0M250 1117h0M251.8 1116.8h0M246.2 1119.6h0M248.3 1120.3h0M251 1120h0M252.3 1120.5h0M243.9 1123h0M246.3 1122.8h0M248.4 1121.9h0M252.5 1122.1h0M254.3 1121.8h0M245.4 1125.7h0M247.3 1125.8h0M250.2 1125.6h0M253.9 1125.4h0M254.9 1125.5h0M243.4 1128.4h0M246.8 1128h0M248.6 1127.8h0M251.7 1127.3h0M255.3 1128.4h0M242.9 1130.4h0M246.2 1131h0M247.7 1130.9h0M251.4 1130.4h0M252.4 1129.6h0M256.6 1129.9h0M258.9 1129.8h0M243.2 1133.6h0M246.3 1132.2h0M249.3 1133.5h0M251.5 1132.3h0M253.9 1132.9h0M257.6 1132.2h0M260.1 1133.3h0M242.6 1135.9h0M244.6 1135h0M247.1 1135.6h0M249.8 1135.7h0M253 1135.3h0M255.2 1136.4h0M258.3 1134.9h0M261.1 1136.1h0M263.5 1136.3h0M244.1 1137.6h0M246.7 1138.5h0M249.7 1138.7h0M252.3 1137.8h0M254.7 1138.2h0M257.5 1137.5h0M259.1 1138.6h0M262.7 1137.7h0M243 1140.7h0M244.6 1140.3h0M248.4 1141.6h0M250 1140h0M252.9 1141.6h0M255.2 1141.6h0M258.9 1141.4h0M261.8 1141.1h0M263 1140.7h0M243.2 1142.9h0M246.2 1142.8h0M249.7 1144.1h0M251.1 1143.4h0M253.6 1142.9h0M256.4 1143.7h0M260.3 1144h0M261.9 1143.2h0M242.3 1146.5h0M245.3 1146.1h0M248.6 1146.8h0M250.1 1146.4h0M252.7 1145.1h0M256.4 1145.4h0M258 1146.4h0M243.9 1148.9h0M246.2 1148.1h0M249.4 1148.2h0M252 1148.9h0M254.1 1149.3h0M257.9 1147.8h0M258.9 1147.9h0M242.7 1150.8h0M244.9 1151.9h0M248.5 1151.9h0M251.5 1151.1h0M253.6 1150.9h0M255.1 1151.5h0M258.1 1151.3h0M261.1 1150.7h0M262.7 1151.6h0M244.3 1153.6h0M247.1 1153.8h0M249.3 1154.4h0M251.2 1153.3h0M254.5 1154.4h0M257.8 1154.5h0M259.1 1153.5h0M261.8 1153.3h0M264.3 1153.2h0M243.3 1156.4h0M246.2 1156.6h0M248.4 1157.2h0M250.6 1155.9h0M253 1156.3h0M255.1 1156.5h0M258.8 1156.1h0M260.1 1155.7h0M263.3 1155.9h0M266.1 1157.2h0M244.2 1158.4h0M247.3 1159.9h0M248.4 1158.8h0M252.4 1158.1h0M254.6 1159.5h0M257.9 1158.4h0M260.4 1159.2h0M262.7 1158.5h0M264 1159h0M243.6 1161.2h0M246.2 1162.5h0M247.9 1161.5h0M251.4 1160.7h0M253.3 1161h0M256.2 1161.6h0M258.6 1161.4h0M261.6 1162.2h0M262.7 1161.7h0M244.4 1164.9h0M246.2 1163.8h0M250 1164.5h0M251.5 1164.8h0M254.8 1163.3h0M257.8 1164.6h0M260.1 1163.4h0M261.4 1163.4h0M245.2 1166.4h0M247.2 1166.8h0M249.8 1166.6h0M252.8 1166.1h0M255 1167.2h0M257.6 1166.8h0M243.6 1169.3h0M246.3 1168.8h0M249.1 1169.3h0M252.4 1168.9h0M253.7 1169.6h0M245.2 1171.3h0M248.4 1172.7h0M250.8 1171.6h0M244.9 1173.9h0M247.1 1175h0M250 1173.9h0M251.8 1174.4h0M244.7 1176.4h0M248.8 1177.3h0M250.9 1177.3h0M252.8 1176.3h0M244.6 1179.7h0M247.3 1180.3h0M250.1 1179.7h0M251.3 1179.8h0M248.1 1182.3h0M249.7 1181.8h0M244.7 1180.5h0M242.3 1177.2h0M243.6 1171h0M242.2 1167.5h0M241.7 1161.3h0M241.9 1158h0M241.6 1152.1h0M241.2 1147h0M241.9 1142.7h0M242 1139.7h0M242.4 1133.2h0M243.5 1129.7h0M242.9 1124.3h0M245.1 1117.6h0M245.9 1112.2h0M247.3 1107.2h0M251.6 1107.7h0M252.7 1116.9h0M254 1120.7h0M257.3 1127.1h0M261.2 1130.6h0M265.5 1136.6h0M262.4 1141.7h0M259.8 1145.5h0M265.7 1153.9h0M266.7 1157.5h0M262 1162.7h0M259.7 1168.1h0M252 1171.5h0M253 1180.5h0M249.5 1182.7h0M246 1182h0M247.5 1064.6h0M249.2 1066.3h0M247.2 1073.9h0M248.6 1096.9h0M256.8 1097.2h0M248.2 1102h0M241 1116.3h0M270.1 1118.1h0M306.7 1126.8h0M280.3 1137.2h0M284.9 1138.2h0M300.7 1139.8h0M294.2 1143.4h0M302.5 1144.4h0M272.2 1144.4h0M267.6 1137.9h0M272.6 1149.4h0M276.2 1150.1h0M282 1148.7h0M289.2 1148.7h0M294.2 1149.4h0M306.1 1150.5h0M278 1154.4h0M282.7 1153h0M267.6 1155.9h0M266.2 1159.9h0M292.5 1159.2h0M300.7 1165.5h0M264.7 1167.4h0M265 1173.1h0M260 1177.1h0M238.9 1140.1h0M238.2 1150.8h0M240 1158h0M250.4 1183.7h0" stroke="#0f3ddc" stroke-width="6.6" stroke-linecap="round" fill="none"/>
<clipPath id="c28"><rect x="385.5" y="1048.5" width="85" height="137"/></clipPath>
<g clip-path="url(#c28)"><path d="M430.7 1113.9L430.7 1112.9L430.5 1112.1L430.2 1111.5L429.8 1111.2L429.3 1111.2L428.7 1111.4L428 1111.9L427.1 1112.7L426.2 1113.7L425.2 1114.9L424.2 1116.3L423 1118L421.8 1119.9L420.6 1122L419.3 1124.2L418 1126.6L416.7 1129.2L415.3 1131.9L414 1134.6L412.7 1137.5L411.4 1140.4L410.1 1143.4L408.8 1146.3L407.6 1149.3L406.5 1152.2L405.4 1155.1L404.5 1157.9L403.5 1160.6L402.7 1163.2L402 1165.6L401.4 1167.9L400.9 1170L400.5 1172L400.2 1173.7L400 1175.2L399.9 1176.5L400 1177.5L400.2 1178.3L400.5 1178.9L400.9 1179.1L401.4 1179.2L402 1178.9L402.7 1178.5L403.5 1177.7L404.5 1176.7L405.4 1175.5L406.5 1174.1L407.6 1172.4L408.8 1170.5L410.1 1168.4L411.4 1166.2L412.7 1163.8L414 1161.2L415.3 1158.5L416.7 1155.7L418 1152.9L419.3 1150L420.6 1147L421.8 1144.1L423 1141.1L424.2 1138.2L425.2 1135.3L426.2 1132.5L427.1 1129.8L428 1127.2L428.7 1124.8L429.3 1122.5L429.8 1120.4L430.2 1118.4L430.5 1116.7L430.7 1115.2Z" fill="none" stroke="#0f3ddc" stroke-width="1.55"/>
<path d="M396.7 1171.7L449.6 1088" stroke="#0f3ddc" stroke-width="1.55" fill="none"/>
</g>
<path d="M430.1 1107.3h0M432.1 1106.8h0M427.7 1109.2h0M430.5 1109.2h0M429.4 1111.1h0M424.9 1114.4h0M427.7 1114.9h0M430.3 1113.7h0M424.1 1117.7h0M426 1117.3h0M430.1 1117.1h0M431.2 1117.4h0M423.8 1120.2h0M426.3 1118.8h0M427.2 1119.6h0M430.8 1119h0M421.5 1122.8h0M424.9 1122.6h0M427 1121.4h0M430.2 1121.7h0M420.2 1124.4h0M422.7 1125.2h0M426.2 1124.6h0M428.1 1124.6h0M430 1125.4h0M419.8 1128.1h0M421.7 1128.1h0M424.8 1128.1h0M426.9 1126.6h0M429.5 1126.5h0M417.9 1130.4h0M420.3 1130.1h0M422 1130h0M425.6 1129.1h0M428.1 1129.4h0M416.3 1131.9h0M418.4 1131.6h0M421.5 1132h0M424.3 1132.4h0M426.4 1132.9h0M415.5 1134.9h0M417.1 1135h0M419.6 1134.6h0M422.8 1135.8h0M425.9 1134.4h0M414.1 1137h0M416.8 1138.2h0M418.3 1137.5h0M420.9 1137.7h0M423.7 1138.5h0M411.9 1140.7h0M415.9 1140.2h0M418.5 1141.1h0M420.7 1139.9h0M423 1141.1h0M426.1 1140.2h0M411 1143.2h0M414.5 1142h0M416.5 1142.4h0M419.8 1142.2h0M421.2 1142.6h0M424.6 1143.2h0M425.9 1142.8h0M410.5 1145.3h0M412.1 1145.5h0M414.3 1145.4h0M417 1145.2h0M420.5 1145.9h0M423.7 1145.8h0M424.7 1145.7h0M409.3 1148.5h0M411.6 1148.4h0M414.2 1147.3h0M416.6 1148h0M418.8 1147.5h0M421.8 1148.6h0M424.5 1147.3h0M425.9 1148.3h0M407.1 1151.4h0M410.6 1150.1h0M412.5 1151.4h0M415.9 1150.7h0M417.1 1151h0M419.5 1151.1h0M423.5 1151.3h0M425.9 1150.1h0M406.7 1152.6h0M408.9 1153.3h0M411.9 1152.9h0M414.6 1153.4h0M415.5 1152.7h0M419 1153.4h0M422.3 1153.3h0M424.8 1153.4h0M426.6 1154h0M407.5 1156.7h0M409.6 1156.5h0M412.4 1156h0M415.5 1155.9h0M416.8 1155.3h0M420.6 1156.2h0M422.6 1155.6h0M426 1155.5h0M405.5 1158.1h0M407.7 1157.7h0M411 1159.3h0M413 1158.7h0M415.9 1158.3h0M418.5 1158.7h0M421.2 1158.1h0M423.5 1158.4h0M405 1160.7h0M407.1 1160.5h0M409.6 1161.3h0M412.7 1161.4h0M414.5 1161.1h0M418.3 1161h0M420.9 1161.6h0M403.7 1163h0M406.8 1163.5h0M408.2 1163.9h0M411.4 1164.2h0M413.4 1163.9h0M416.2 1163.5h0M419.2 1164.4h0M420.7 1164.5h0M402.4 1165.4h0M403.9 1166h0M407.4 1166.2h0M410.1 1166.3h0M412.7 1167h0M415.5 1165.6h0M417 1166.2h0M419.7 1166.1h0M422.1 1166.2h0M401.5 1168.6h0M404.2 1168.6h0M406.1 1169.2h0M408.4 1169.5h0M410.5 1169.3h0M414.3 1169.6h0M416.5 1169.4h0M418.4 1169.4h0M420.8 1169.6h0M400 1171.5h0M402.6 1172.3h0M405.2 1172.2h0M407.5 1170.7h0M409.2 1172h0M412.9 1172.1h0M414.6 1171.7h0M417.1 1172.3h0M420.8 1172h0M423.6 1172.2h0M424.7 1171.8h0M401.2 1174.6h0M403.8 1173.3h0M406 1174.4h0M409.1 1173.9h0M410.4 1173.7h0M414.2 1173.7h0M415.5 1174.8h0M419.5 1173.6h0M422 1174.2h0M401.5 1177.2h0M405.5 1177.5h0M407.7 1175.9h0M410.4 1177.2h0M411.8 1176.1h0M414.5 1177.4h0M417.2 1176.9h0M419.4 1176.2h0M423.6 1177h0M398.6 1179h0M400.7 1179.9h0M402.8 1180h0M406.4 1178.8h0M409.4 1179.2h0M410.3 1178.4h0M413.5 1180.2h0M417.1 1179h0M419.4 1180h0M422 1178.5h0M400.3 1181.3h0M402.3 1181h0M404.6 1181.8h0M408.1 1182.2h0M409.9 1181.4h0M411.8 1181.8h0M414.8 1181.4h0M417.2 1181.6h0M419.7 1181h0M422.3 1182.7h0M397.8 1183.2h0M402.6 1183.7h0M407.7 1183.1h0M412.4 1183.1h0M417.3 1183.2h0M422.8 1183.7h0M423.7 1177.2h0M425 1171.6h0M422.9 1166h0M421.6 1160.6h0M427.6 1155.2h0M428 1151h0M427.2 1146.6h0M426.7 1141.7h0M428.3 1136.2h0M429.2 1128.5h0M431.1 1121.1h0M431.1 1117.7h0M432.2 1110.5h0M433 1106.6h0M428.5 1108.1h0M425.1 1115.4h0M423.3 1118.1h0M420.5 1121.9h0M417.4 1127.5h0M415.5 1129.7h0M414.8 1136.2h0M412.2 1139h0M410.3 1144h0M408.6 1147.5h0M405.1 1153h0M403 1159h0M401.4 1163.6h0M401.2 1168.4h0M398.7 1173.2h0M399.7 1178.1h0M439.3 1159.8h0M438.3 1131.9h0M433.1 1163.5h0M430.2 1181.8h0M431.1 1146.6h0M433.1 1134h0M427 1170.6h0M435.4 1120.7h0M435.2 1116.7h0M434.4 1106.5h0M440 1097.7h0M431.5 1097.7h0M446.6 1072.9h0M449.2 1066.8h0M447.9 1063.7h0M397.3 1182.8h0M410.2 1183.7h0M430.1 1155.3h0" stroke="#0f3ddc" stroke-width="6.6" stroke-linecap="round" fill="none"/>
<clipPath id="c29"><rect x="543.5" y="1048.5" width="83" height="137"/></clipPath>
<g clip-path="url(#c29)"><path d="M565.5 1145.2L565.4 1142.2L565.3 1139.3L565.1 1136.4L564.8 1133.6L564.4 1130.8L564 1128.2L563.4 1125.7L562.8 1123.3L562.1 1121.2L561.4 1119.2L560.6 1117.3L559.8 1115.8L558.9 1114.4L557.9 1113.2L557 1112.4L556 1111.7L555 1111.3L554 1111.2L553 1111.3L552 1111.7L551 1112.4L550.1 1113.2L549.2 1114.4L548.3 1115.8L547.4 1117.3L546.6 1119.2L545.9 1121.2L545.2 1123.3L544.6 1125.7L544.1 1128.2L543.6 1130.8L543.2 1133.6L542.9 1136.4L542.7 1139.3L542.6 1142.2L542.5 1145.2L542.6 1148.2L542.7 1151.1L542.9 1154L543.2 1156.8L543.6 1159.6L544.1 1162.2L544.6 1164.7L545.2 1167.1L545.9 1169.2L546.6 1171.2L547.4 1173L548.3 1174.6L549.2 1176L550.1 1177.1L551 1178L552 1178.7L553 1179.1L554 1179.2L555 1179.1L556 1178.7L557 1178L557.9 1177.1L558.9 1176L559.8 1174.6L560.6 1173L561.4 1171.2L562.1 1169.2L562.8 1167.1L563.4 1164.7L564 1162.2L564.4 1159.6L564.8 1156.8L565.1 1154L565.3 1151.1L565.4 1148.2Z" fill="none" stroke="#0f3ddc" stroke-width="1.55"/>
<path d="M544.7 1144.7L614.4 1148" stroke="#0f3ddc" stroke-width="1.55" fill="none"/>
</g>
<path d="M553.4 1106.9h0M552.1 1110h0M555.6 1109.4h0M556.8 1109.6h0M550.3 1113.4h0M553.2 1112.4h0M555.4 1113.2h0M558.2 1112.7h0M550.2 1115.6h0M552.1 1115.2h0M554.7 1115.5h0M557.6 1115.5h0M559.5 1115.7h0M551.2 1118.1h0M553.4 1117.8h0M555.8 1117.1h0M559.2 1118.1h0M560.4 1118.3h0M549.9 1120.8h0M551.8 1119.8h0M555 1120.3h0M557.9 1120.8h0M559.9 1120.2h0M562.7 1120.5h0M551.5 1123.5h0M554.4 1122.2h0M556.1 1122.7h0M558.4 1122.6h0M561.4 1123.4h0M564.2 1122.2h0M550.1 1126.2h0M551.4 1124.9h0M554.3 1124.9h0M557.3 1126.4h0M559.8 1125.9h0M562.6 1126.3h0M565 1125.9h0M551.7 1129h0M553.5 1127.6h0M555.8 1128h0M558.4 1128.1h0M561 1128.9h0M563 1128.8h0M566.3 1129h0M550.1 1131h0M551.8 1130.1h0M554.1 1131h0M558.1 1131h0M559.5 1130.2h0M563.2 1131.2h0M565.2 1130.9h0M567 1130.1h0M549.1 1133.4h0M551.6 1133.7h0M554.1 1133.5h0M556.8 1133.7h0M558.5 1133.2h0M561.9 1132.6h0M563.8 1132.7h0M567.1 1133.5h0M569.7 1133.2h0M549.6 1135.4h0M552.7 1135.9h0M555.6 1135.6h0M557.4 1135.8h0M560.4 1135.7h0M562.7 1135.9h0M564.6 1136.8h0M567.5 1136.7h0M548.3 1138.5h0M550.6 1137.7h0M553.9 1138.6h0M556.3 1138.5h0M559.4 1138.6h0M561.6 1138.1h0M563.7 1138.8h0M567.2 1139h0M569.7 1138.5h0M548.8 1141.5h0M552.4 1141.9h0M554.1 1141.2h0M558.2 1141.8h0M559.3 1141h0M563.5 1140.9h0M565.3 1140.5h0M568.5 1141.9h0M570.2 1140.5h0M548 1143.5h0M551.5 1143.7h0M554 1143.2h0M555.3 1143.2h0M558.1 1144.6h0M561.2 1143.4h0M563.1 1143.3h0M566.8 1144.1h0M569.2 1143.4h0M549.2 1145.8h0M552.6 1146.5h0M554.9 1147.2h0M557 1146.6h0M559.5 1146.6h0M563.5 1145.6h0M565.4 1147.2h0M568.4 1145.9h0M570.8 1146.1h0M547.5 1149.6h0M550.7 1148.5h0M554.3 1148.4h0M555.9 1148.2h0M558.1 1148.9h0M560.8 1149.7h0M563.4 1149.5h0M566.5 1149.4h0M569.7 1149.7h0M572.4 1149.3h0M573.6 1148.6h0M550.3 1152.3h0M551.9 1151.3h0M554.9 1152h0M556.5 1151.6h0M560.7 1152.4h0M562.5 1150.7h0M565.7 1151.6h0M568 1151.2h0M570.8 1151.8h0M572.1 1152h0M547.5 1155h0M551.3 1153.6h0M554.3 1154.4h0M556.5 1154h0M558.5 1153.7h0M561.1 1154.7h0M563.2 1153.4h0M566 1153.8h0M569.8 1155h0M572.2 1153.8h0M573.5 1155h0M577.1 1155h0M547.2 1156h0M548.8 1156.8h0M552.5 1156.6h0M555.5 1156.9h0M556.7 1155.9h0M560.7 1157.1h0M563.2 1156.5h0M565.2 1156.7h0M568.6 1156.3h0M569.7 1156.2h0M572.9 1157.4h0M575.6 1157h0M577.5 1157.4h0M548.8 1159.1h0M551.1 1159.7h0M552.8 1160h0M556.5 1158.5h0M558.7 1159.5h0M561.8 1159.9h0M563.5 1159.4h0M567.3 1159.9h0M568.9 1159.9h0M571 1159.3h0M574.7 1159.1h0M576.9 1159.7h0M578.8 1160.2h0M547.7 1161.7h0M550.1 1162.5h0M551.8 1161.3h0M555.4 1162.5h0M557.3 1162.8h0M559.6 1162h0M561.9 1162.5h0M565 1162.5h0M567.1 1162h0M570.1 1162.2h0M572.9 1161.2h0M576.4 1162.6h0M578.9 1162.7h0M548.6 1164.4h0M551.7 1163.9h0M553.7 1164.9h0M556.7 1165.3h0M557.9 1165.3h0M560.7 1164.6h0M563.1 1164.7h0M567.3 1164.5h0M569.2 1163.9h0M572.2 1164.6h0M574.3 1164.4h0M576.9 1165.2h0M548.9 1167h0M552.4 1167.9h0M555.4 1166.9h0M556.8 1167.7h0M559.4 1166.8h0M562.7 1167h0M565.1 1166.7h0M567.7 1167h0M570.7 1167.5h0M573.4 1166.3h0M576.2 1167.3h0M578.3 1167.4h0M549.1 1169.9h0M550.9 1170.1h0M553.5 1169.7h0M556.3 1170.2h0M558 1169h0M560.5 1170h0M563.7 1170.2h0M567 1169.1h0M569.4 1169.5h0M572.4 1170.3h0M574.3 1169.7h0M577 1170h0M549.6 1171.7h0M551.8 1172.5h0M555.6 1172.9h0M557.1 1173h0M559.2 1172.8h0M562.1 1171.6h0M565.5 1171.9h0M567.3 1173.2h0M573.8 1172.8h0M575.4 1172.4h0M547.9 1175.2h0M550.7 1174.4h0M553.5 1174.3h0M556.5 1174.2h0M557.9 1175.2h0M560.9 1174.9h0M564.2 1175.3h0M566.5 1174.2h0M548.8 1177h0M552.9 1178h0M554 1178.4h0M557.6 1177.6h0M560.5 1176.7h0M562.8 1177.5h0M548.3 1180.7h0M550.5 1179.4h0M552.7 1180.2h0M556.4 1179.5h0M559.4 1180.4h0M548.2 1182.6h0M553.7 1182.8h0M558.4 1183.4h0M562.9 1177.7h0M564.1 1176.2h0M571 1170.3h0M578.1 1173.6h0M578.4 1169.2h0M579.2 1162.1h0M579.9 1154.2h0M575.4 1150.5h0M570.1 1143.8h0M570.8 1136.4h0M570 1129.8h0M565.6 1122.7h0M562.3 1115.6h0M559.6 1111.5h0M557.1 1107.9h0M553.3 1104.8h0M551 1108.3h0M549.5 1112.4h0M547.8 1118.2h0M549.5 1122.3h0M546.9 1125.8h0M548.6 1130.4h0M546.3 1136.9h0M548 1140.1h0M546.9 1145.5h0M547 1149.2h0M547.2 1155.7h0M546.8 1159.6h0M546.3 1166h0M546.8 1169.5h0M546.1 1173.7h0M546.1 1180h0M615.7 1158.4h0M608.2 1161.9h0M593 1172.8h0M590.8 1130.8h0M584.5 1178.6h0M583.9 1167.1h0M583.9 1163.4h0M585.3 1149.7h0M580.9 1153.2h0M577.9 1177.5h0M577.1 1141h0M577.9 1131.9h0M574.3 1119.5h0M569.7 1116.3h0M571.1 1127.6h0M564.8 1178.6h0M559.3 1183h0M559.3 1097.6h0M562 1073.3h0M556.3 1065h0M554.2 1063.9h0M549.5 1097.6h0M549.1 1104.1h0M546.1 1147.1h0M561.8 1116.7h0" stroke="#0f3ddc" stroke-width="6.6" stroke-linecap="round" fill="none"/>
<clipPath id="c30"><rect x="701.5" y="1048.5" width="86" height="137"/></clipPath>
<g clip-path="url(#c30)"><path d="M727.2 1148.6L727.2 1145.6L727 1142.7L726.8 1139.7L726.5 1136.8L726.1 1134L725.6 1131.2L725 1128.6L724.3 1126.1L723.6 1123.7L722.8 1121.5L722 1119.4L721.1 1117.6L720.1 1116L719.1 1114.6L718.1 1113.4L717 1112.5L716 1111.8L714.9 1111.4L713.8 1111.2L712.7 1111.3L711.7 1111.6L710.7 1112.2L709.7 1113.1L708.7 1114.2L707.8 1115.5L707 1117.1L706.2 1118.9L705.4 1120.8L704.8 1123L704.2 1125.3L703.7 1127.8L703.3 1130.4L703 1133.2L702.8 1136L702.6 1138.9L702.6 1141.8L702.6 1144.8L702.8 1147.7L703 1150.7L703.3 1153.6L703.7 1156.4L704.2 1159.2L704.8 1161.8L705.4 1164.3L706.2 1166.7L707 1168.9L707.8 1171L708.7 1172.8L709.7 1174.4L710.7 1175.8L711.7 1177L712.7 1177.9L713.8 1178.6L714.9 1179L716 1179.2L717 1179.1L718.1 1178.8L719.1 1178.1L720.1 1177.3L721.1 1176.2L722 1174.9L722.8 1173.3L723.6 1171.5L724.3 1169.5L725 1167.4L725.6 1165.1L726.1 1162.6L726.5 1160L726.8 1157.2L727 1154.4L727.2 1151.5Z" fill="none" stroke="#0f3ddc" stroke-width="1.55"/>
<path d="M706.2 1141.2L764.5 1172" stroke="#0f3ddc" stroke-width="1.55" fill="none"/>
</g>
<path d="M716.1 1101.4h0M715 1104.7h0M717 1104.1h0M716.1 1105.8h0M718.6 1106.4h0M714.6 1108.5h0M718 1108.6h0M719.4 1109.1h0M713 1112.1h0M715.7 1111.4h0M719.2 1112.5h0M712.2 1113.7h0M714.5 1114.1h0M718 1114.1h0M719.8 1113.6h0M714.4 1116h0M715.9 1116h0M718 1116.3h0M720.8 1117.6h0M711.5 1119h0M715.5 1120.3h0M717.7 1120.3h0M720.2 1120.3h0M722.7 1119.3h0M714.4 1122.9h0M716.8 1121.3h0M719.1 1121.9h0M720.6 1121.3h0M712.9 1124.7h0M715.1 1123.9h0M717.9 1124.2h0M720.5 1124.7h0M723.2 1125.3h0M711.1 1127h0M714.5 1127.9h0M716.1 1127.8h0M719.5 1127.8h0M722 1127.6h0M710.3 1130.3h0M712 1129.3h0M714.5 1130.4h0M718 1129.7h0M719.4 1130h0M722.1 1130.1h0M711.6 1133.2h0M714.4 1133.1h0M716.4 1132h0M718.6 1132.1h0M721.2 1132.2h0M724.4 1133.1h0M710 1135.3h0M712.5 1135.1h0M714.7 1135.2h0M717.1 1135.9h0M720.8 1135.1h0M722.1 1135.8h0M724.4 1135.8h0M727.6 1135.4h0M710.2 1137.3h0M713.3 1137.2h0M716.4 1137.1h0M719.4 1137.5h0M722.1 1138.5h0M724 1138.3h0M727.4 1138.4h0M709.9 1140.1h0M712.1 1139.5h0M714.7 1139.5h0M717.6 1139.9h0M720.4 1140.9h0M723.5 1140.9h0M726.1 1139.8h0M728.2 1140.7h0M729.9 1141.1h0M710.6 1142.4h0M714 1142h0M717.1 1143.4h0M718.3 1143.3h0M721.3 1143.7h0M724 1142.1h0M726.3 1143.6h0M730 1142.1h0M731.3 1143.3h0M710.3 1144.9h0M712.8 1145.3h0M714.5 1145.8h0M717.4 1145h0M719.3 1146.3h0M723.4 1145.2h0M724.6 1145.2h0M727.3 1145.1h0M730.5 1145.9h0M732.2 1145.6h0M711.6 1148.6h0M714.3 1147.4h0M715.5 1147.5h0M718.1 1148.2h0M721.6 1147.3h0M724.9 1148.5h0M727.4 1147.8h0M728.9 1148.1h0M732.1 1148.2h0M734.4 1147.9h0M710.3 1150.6h0M712.9 1150.1h0M714.7 1150.6h0M717.8 1151.5h0M719.7 1151.4h0M723.3 1150.3h0M725.9 1150.5h0M728.2 1150.6h0M730.9 1150.5h0M733.2 1151.2h0M735.7 1149.9h0M710.2 1152.6h0M714.4 1153.2h0M716.5 1154.1h0M718.6 1153.4h0M721.4 1152.7h0M724.1 1153.3h0M726.8 1153.7h0M729.8 1153.4h0M731.1 1153.4h0M734.2 1152.6h0M736.2 1153.2h0M710.2 1155.6h0M713.1 1156.4h0M714.7 1155.2h0M716.7 1155.5h0M719.3 1155h0M722.5 1155.8h0M724.5 1156.3h0M727 1155.8h0M730.7 1156.2h0M733.5 1155.4h0M734.9 1156.6h0M738.6 1155.6h0M708.9 1158.5h0M711.4 1158.9h0M714 1157.7h0M715.7 1157.6h0M719.7 1158.9h0M721.7 1157.7h0M724.5 1158.1h0M726.5 1157.9h0M729.9 1159.1h0M732.2 1159.3h0M735.1 1159.2h0M737.5 1159h0M739.1 1157.6h0M709.2 1161.6h0M711.9 1161.9h0M714.6 1161.8h0M718.2 1161.5h0M720.2 1161h0M722.3 1160.3h0M725.4 1161.6h0M727.4 1160.5h0M730 1161.4h0M733.9 1161.4h0M734.8 1161.1h0M737.9 1161.7h0M708.8 1163.9h0M711.1 1163.2h0M714.2 1163.9h0M717.1 1164.1h0M718.2 1163.2h0M721.1 1164.4h0M723.8 1163.7h0M726 1163.9h0M729.3 1163.2h0M731 1164.5h0M734.4 1163.4h0M736.8 1164.4h0M739.4 1164.1h0M742 1164h0M710.5 1166.1h0M712.1 1167h0M715.1 1166.1h0M718.4 1165.7h0M719.5 1167h0M723.6 1165.8h0M724.6 1166.5h0M728.5 1165.4h0M730.9 1165.9h0M733.4 1166h0M735.1 1165.6h0M738.7 1166.3h0M741.7 1165.5h0M743.6 1166.2h0M710.2 1169.3h0M713.8 1168.3h0M716.6 1169.2h0M717.9 1168.4h0M721.1 1169.7h0M724.2 1168.6h0M726.2 1169.2h0M728.5 1168.5h0M732.4 1168.9h0M734.4 1169.7h0M737.7 1168.7h0M740.2 1168.6h0M741.5 1168.3h0M744.8 1169.5h0M747.9 1169.1h0M749.2 1169.6h0M709.3 1171.2h0M712.9 1171.7h0M715.2 1170.7h0M717.8 1172.1h0M719.3 1171.3h0M722.7 1171.1h0M725.8 1171h0M728.6 1172.1h0M731.1 1170.6h0M733.3 1172h0M735.3 1171.4h0M739.1 1171.5h0M741 1171.5h0M743.2 1171.7h0M745.7 1170.6h0M749.3 1171.4h0M751.3 1170.9h0M710.5 1174.3h0M712.9 1174.6h0M715.7 1174.8h0M718.9 1174.5h0M721.4 1174.5h0M724 1174.8h0M725.7 1174.1h0M730 1173.6h0M732 1173.8h0M734.7 1174.6h0M737.6 1174.8h0M739.8 1174.2h0M742.5 1173.6h0M744.9 1174h0M747.9 1173.7h0M750 1174.9h0M711.8 1176.7h0M715.6 1177.3h0M716.8 1176.8h0M719.7 1177.3h0M722 1176.5h0M726.1 1177.2h0M727.1 1176.9h0M729.9 1177.4h0M733.7 1175.8h0M735.5 1177h0M738.9 1176.1h0M741 1176.5h0M744.2 1176.3h0M746.2 1176.6h0M748.1 1177.5h0M713.1 1178.5h0M715.5 1178.4h0M717.9 1179.3h0M721.5 1178.9h0M724.8 1179.7h0M725.9 1179.2h0M728.6 1179.8h0M732.7 1179.1h0M735 1178.7h0M737.8 1179.2h0M739.2 1179.8h0M741.5 1179.2h0M745.5 1178.9h0M747.4 1179.4h0M709.2 1175.7h0M708.5 1172.4h0M709 1167.1h0M709 1163.2h0M709.6 1158.4h0M709.1 1153h0M709.1 1146.5h0M708.7 1142.3h0M709.6 1137.4h0M708.8 1130.7h0M711 1126.3h0M709.8 1121.2h0M710.7 1116h0M711.9 1110.7h0M715.2 1105.6h0M716.7 1101h0M716.5 1101.6h0M718.3 1107.8h0M720.3 1111.8h0M721.9 1118.8h0M724.4 1126.5h0M727.3 1133.5h0M730.5 1137.4h0M732.4 1143.8h0M737 1149.8h0M739.2 1154.1h0M740.4 1160.5h0M743.1 1166.7h0M751.2 1167.4h0M752.9 1173.9h0M747.8 1181.2h0M738.8 1182.5h0M732 1181.1h0M727.3 1182.6h0M723.8 1180.6h0M719.6 1182.4h0M714.6 1181h0M714.9 1064.6h0M714.9 1066.3h0M710.3 1073.9h0M712.3 1096.9h0M718.5 1097.2h0M723.2 1105.6h0M712 1108.4h0M745.8 1145.8h0M747.9 1155.9h0M740.7 1153h0M735.7 1144.7h0M732.1 1141.5h0M727.8 1135.7h0M764.5 1179.6h0M758 1183.7h0M753.7 1181.7h0M736.4 1183.7h0M720.6 1183.2h0M745.8 1182.5h0M707.7 1176h0" stroke="#0f3ddc" stroke-width="6.6" stroke-linecap="round" fill="none"/>
<path d="M867.5 1185V1178.9H875.8V1185ZM875.8 1185V1155.3H884.1V1185ZM884.1 1185V1089.8H892.2V1185ZM892.2 1185V1079.1H900.3V1185ZM900.3 1185V1145.3H908.2V1185ZM908.2 1185V1172.5H916.5V1185ZM916.5 1185V1183.8H924.6V1185ZM924.6 1185V1184.1H932.8V1185ZM932.8 1185V1184.5H940.9V1185ZM940.9 1185V1183.8H948.7V1185Z" fill="none" stroke="#103cd8" stroke-width="1.5" stroke-linejoin="miter"/>
<g font-family="Liberation Sans, sans-serif" font-weight="bold" fill="#000" text-anchor="middle">
<text transform="translate(92.9 31.8) scale(0.875 1)" font-size="15.7">Age</text>
<text transform="translate(116.3 1230) scale(0.875 1)" font-size="15.7">Age</text>
<text transform="translate(263.4 31.8) scale(0.875 1)" font-size="15.7">GLU</text>
<text transform="translate(269.8 1230) scale(0.875 1)" font-size="15.7">GLU</text>
<text transform="translate(421.3 31.8) scale(0.875 1)" font-size="15.7">TC</text>
<text transform="translate(428.2 1230) scale(0.875 1)" font-size="15.7">TC</text>
<text transform="translate(579.5 31.8) scale(0.875 1)" font-size="15.7">TG</text>
<text transform="translate(586.1 1230) scale(0.875 1)" font-size="15.7">TG</text>
<text transform="translate(738.3 31.8) scale(0.875 1)" font-size="15.7">HDL-C</text>
<text transform="translate(745.6 1230) scale(0.875 1)" font-size="15.7">HDL-C</text>
<text transform="translate(903.0 31.8) scale(0.875 1)" font-size="15.7">LDL-C</text>
<text transform="translate(913.5 1230) scale(0.875 1)" font-size="15.7">LDL-C</text>
<text transform="translate(38 128.5) rotate(-90)" font-size="15.3">Age</text>
<text transform="translate(38 324.5) rotate(-90)" font-size="15.3">GLU</text>
<text transform="translate(38 522.5) rotate(-90)" font-size="15.3">TC</text>
<text transform="translate(38 718.5) rotate(-90)" font-size="15.3">TG</text>
<text transform="translate(38 920.5) rotate(-90)" font-size="15.3">HDL-C</text>
<text transform="translate(38 1117.5) rotate(-90)" font-size="15.3">LDL-C</text>
</g>
</svg>
</body></html>
